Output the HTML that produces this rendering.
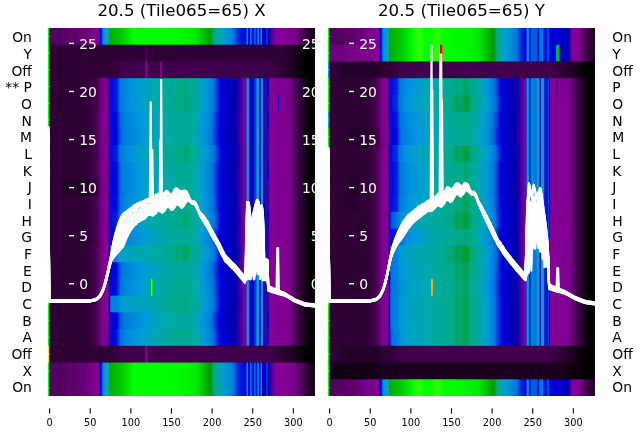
<!DOCTYPE html>
<html><head><meta charset="utf-8"><title>20.5 (Tile065=65)</title>
<style>
html,body{margin:0;padding:0;background:#fff}
svg{display:block}
text{font-family:"DejaVu Sans","Liberation Sans",sans-serif}
</style></head><body>
<svg width="640" height="440" viewBox="0 0 640 440">
<defs>
<clipPath id="cl"><rect x="48" y="28" width="267" height="368"/></clipPath>
<clipPath id="cr"><rect x="328" y="28" width="267" height="368"/></clipPath>
<linearGradient id="l0"><stop offset="0.0009" stop-color="#00ff00"/><stop offset="0.0028" stop-color="#00ff00"/><stop offset="0.0047" stop-color="#870098"/><stop offset="0.0066" stop-color="#870098"/><stop offset="0.0084" stop-color="#540060"/><stop offset="0.0721" stop-color="#540060"/><stop offset="0.0740" stop-color="#5d006b"/><stop offset="0.1096" stop-color="#5d006b"/><stop offset="0.1114" stop-color="#670075"/><stop offset="0.1433" stop-color="#670075"/><stop offset="0.1451" stop-color="#700080"/><stop offset="0.1545" stop-color="#700080"/><stop offset="0.1564" stop-color="#770088"/><stop offset="0.1901" stop-color="#850096"/><stop offset="0.1919" stop-color="#63009e"/><stop offset="0.1938" stop-color="#0300aa"/><stop offset="0.1957" stop-color="#0000c5"/><stop offset="0.1976" stop-color="#0000d1"/><stop offset="0.1994" stop-color="#0009dd"/><stop offset="0.2013" stop-color="#002fdd"/><stop offset="0.2032" stop-color="#005ddd"/><stop offset="0.2051" stop-color="#007ddd"/><stop offset="0.2107" stop-color="#0095dd"/><stop offset="0.2238" stop-color="#00a6b7"/><stop offset="0.2275" stop-color="#00aa8d"/><stop offset="0.2313" stop-color="#009c00"/><stop offset="0.2331" stop-color="#00aa00"/><stop offset="0.2463" stop-color="#00ba00"/><stop offset="0.2800" stop-color="#00cf00"/><stop offset="0.3212" stop-color="#00ff00"/><stop offset="0.4841" stop-color="#00fc00"/><stop offset="0.5552" stop-color="#00ec00"/><stop offset="0.5964" stop-color="#00ac00"/><stop offset="0.6058" stop-color="#009a00"/><stop offset="0.6096" stop-color="#009b13"/><stop offset="0.6114" stop-color="#009e28"/><stop offset="0.6133" stop-color="#009f33"/><stop offset="0.6189" stop-color="#00a773"/><stop offset="0.6227" stop-color="#00aa8b"/><stop offset="0.6451" stop-color="#00a8af"/><stop offset="0.6601" stop-color="#009bd7"/><stop offset="0.6770" stop-color="#008ddd"/><stop offset="0.6957" stop-color="#0078dd"/><stop offset="0.7107" stop-color="#002fdd"/><stop offset="0.7125" stop-color="#002fdd"/><stop offset="0.7144" stop-color="#0025dd"/><stop offset="0.7182" stop-color="#0025dd"/><stop offset="0.7200" stop-color="#001cdd"/><stop offset="0.7238" stop-color="#001cdd"/><stop offset="0.7257" stop-color="#0013dd"/><stop offset="0.7294" stop-color="#0013dd"/><stop offset="0.7313" stop-color="#0009dd"/><stop offset="0.7369" stop-color="#0009dd"/><stop offset="0.7388" stop-color="#0000dd"/><stop offset="0.7406" stop-color="#0000dd"/><stop offset="0.7425" stop-color="#0013dd"/><stop offset="0.7444" stop-color="#008add"/><stop offset="0.7481" stop-color="#0085dd"/><stop offset="0.7500" stop-color="#0000dd"/><stop offset="0.7556" stop-color="#0000dd"/><stop offset="0.7575" stop-color="#0067dd"/><stop offset="0.7594" stop-color="#0085dd"/><stop offset="0.7612" stop-color="#0080dd"/><stop offset="0.7631" stop-color="#0013dd"/><stop offset="0.7706" stop-color="#0013dd"/><stop offset="0.7725" stop-color="#0025dd"/><stop offset="0.7743" stop-color="#0085dd"/><stop offset="0.7762" stop-color="#0085dd"/><stop offset="0.7781" stop-color="#0025dd"/><stop offset="0.7800" stop-color="#0013dd"/><stop offset="0.7818" stop-color="#0013dd"/><stop offset="0.7837" stop-color="#002fdd"/><stop offset="0.7856" stop-color="#0098dd"/><stop offset="0.7875" stop-color="#0098dd"/><stop offset="0.7893" stop-color="#0054dd"/><stop offset="0.7912" stop-color="#0000dd"/><stop offset="0.7949" stop-color="#0000dd"/><stop offset="0.7968" stop-color="#0078dd"/><stop offset="0.7987" stop-color="#008add"/><stop offset="0.8006" stop-color="#008add"/><stop offset="0.8024" stop-color="#0000c9"/><stop offset="0.8155" stop-color="#0000bd"/><stop offset="0.8174" stop-color="#001cdd"/><stop offset="0.8193" stop-color="#005ddd"/><stop offset="0.8212" stop-color="#005ddd"/><stop offset="0.8230" stop-color="#0300aa"/><stop offset="0.8324" stop-color="#3800a3"/><stop offset="0.8343" stop-color="#3800a3"/><stop offset="0.8399" stop-color="#58009f"/><stop offset="0.8418" stop-color="#58009f"/><stop offset="0.8455" stop-color="#6d009c"/><stop offset="0.8474" stop-color="#6d009c"/><stop offset="0.8511" stop-color="#83009a"/><stop offset="0.8624" stop-color="#83009a"/><stop offset="0.8736" stop-color="#870098"/><stop offset="0.9148" stop-color="#7f0090"/><stop offset="0.9279" stop-color="#770088"/><stop offset="0.9298" stop-color="#700080"/><stop offset="0.9335" stop-color="#700080"/><stop offset="0.9354" stop-color="#670075"/><stop offset="0.9391" stop-color="#670075"/><stop offset="0.9410" stop-color="#5d006b"/><stop offset="0.9448" stop-color="#5d006b"/><stop offset="0.9466" stop-color="#540060"/><stop offset="0.9504" stop-color="#540060"/><stop offset="0.9522" stop-color="#4b0055"/><stop offset="0.9560" stop-color="#4b0055"/><stop offset="0.9579" stop-color="#41004b"/><stop offset="0.9616" stop-color="#41004b"/><stop offset="0.9635" stop-color="#380040"/><stop offset="0.9691" stop-color="#380040"/><stop offset="0.9710" stop-color="#2f0035"/><stop offset="0.9747" stop-color="#2f0035"/><stop offset="0.9766" stop-color="#25002b"/><stop offset="0.9822" stop-color="#25002b"/><stop offset="0.9841" stop-color="#1c0020"/><stop offset="0.9878" stop-color="#1c0020"/><stop offset="0.9897" stop-color="#130015"/><stop offset="0.9991" stop-color="#130015"/></linearGradient>
<linearGradient id="l1"><stop offset="0.0009" stop-color="#00ff00"/><stop offset="0.0028" stop-color="#00ff00"/><stop offset="0.0047" stop-color="#870098"/><stop offset="0.0066" stop-color="#870098"/><stop offset="0.0084" stop-color="#2f0035"/><stop offset="0.3642" stop-color="#2f0035"/><stop offset="0.3661" stop-color="#4b0055"/><stop offset="0.3699" stop-color="#4b0055"/><stop offset="0.3717" stop-color="#380040"/><stop offset="0.3736" stop-color="#2f0035"/><stop offset="0.8886" stop-color="#2f0035"/><stop offset="0.8904" stop-color="#25002b"/><stop offset="0.9073" stop-color="#25002b"/><stop offset="0.9092" stop-color="#1c0020"/><stop offset="0.9279" stop-color="#1c0020"/><stop offset="0.9298" stop-color="#130015"/><stop offset="0.9429" stop-color="#130015"/><stop offset="0.9448" stop-color="#09000b"/><stop offset="0.9579" stop-color="#09000b"/><stop offset="0.9597" stop-color="#000000"/><stop offset="0.9991" stop-color="#000000"/></linearGradient>
<linearGradient id="l2"><stop offset="0.0009" stop-color="#00ff00"/><stop offset="0.0028" stop-color="#00ff00"/><stop offset="0.0047" stop-color="#870098"/><stop offset="0.0066" stop-color="#870098"/><stop offset="0.0084" stop-color="#2f0035"/><stop offset="0.2406" stop-color="#2f0035"/><stop offset="0.2425" stop-color="#380040"/><stop offset="0.2650" stop-color="#380040"/><stop offset="0.2669" stop-color="#41004b"/><stop offset="0.3624" stop-color="#41004b"/><stop offset="0.3642" stop-color="#540060"/><stop offset="0.3661" stop-color="#850096"/><stop offset="0.3699" stop-color="#850096"/><stop offset="0.3717" stop-color="#770088"/><stop offset="0.3736" stop-color="#41004b"/><stop offset="0.4185" stop-color="#41004b"/><stop offset="0.4204" stop-color="#850096"/><stop offset="0.4242" stop-color="#870098"/><stop offset="0.4260" stop-color="#7e008f"/><stop offset="0.4279" stop-color="#41004b"/><stop offset="0.8343" stop-color="#41004b"/><stop offset="0.8361" stop-color="#380040"/><stop offset="0.8624" stop-color="#380040"/><stop offset="0.8642" stop-color="#2f0035"/><stop offset="0.8886" stop-color="#2f0035"/><stop offset="0.8904" stop-color="#25002b"/><stop offset="0.9073" stop-color="#25002b"/><stop offset="0.9092" stop-color="#1c0020"/><stop offset="0.9279" stop-color="#1c0020"/><stop offset="0.9298" stop-color="#130015"/><stop offset="0.9429" stop-color="#130015"/><stop offset="0.9448" stop-color="#09000b"/><stop offset="0.9579" stop-color="#09000b"/><stop offset="0.9597" stop-color="#000000"/><stop offset="0.9991" stop-color="#000000"/></linearGradient>
<linearGradient id="l3"><stop offset="0.0009" stop-color="#00ff00"/><stop offset="0.0028" stop-color="#00ff00"/><stop offset="0.0047" stop-color="#870098"/><stop offset="0.0066" stop-color="#870098"/><stop offset="0.0084" stop-color="#2f0035"/><stop offset="0.1526" stop-color="#2f0035"/><stop offset="0.1545" stop-color="#380040"/><stop offset="0.1657" stop-color="#380040"/><stop offset="0.1676" stop-color="#41004b"/><stop offset="0.1770" stop-color="#41004b"/><stop offset="0.1788" stop-color="#4b0055"/><stop offset="0.1826" stop-color="#4b0055"/><stop offset="0.1845" stop-color="#540060"/><stop offset="0.1882" stop-color="#540060"/><stop offset="0.1901" stop-color="#5d006b"/><stop offset="0.1919" stop-color="#5d006b"/><stop offset="0.1938" stop-color="#670075"/><stop offset="0.1957" stop-color="#670075"/><stop offset="0.1994" stop-color="#770088"/><stop offset="0.2219" stop-color="#870098"/><stop offset="0.2257" stop-color="#83009a"/><stop offset="0.2275" stop-color="#2d00a4"/><stop offset="0.2294" stop-color="#0000bd"/><stop offset="0.2388" stop-color="#0000dd"/><stop offset="0.2406" stop-color="#0009dd"/><stop offset="0.2444" stop-color="#0009dd"/><stop offset="0.2463" stop-color="#0013dd"/><stop offset="0.2519" stop-color="#0013dd"/><stop offset="0.2537" stop-color="#001cdd"/><stop offset="0.2575" stop-color="#001cdd"/><stop offset="0.2594" stop-color="#0025dd"/><stop offset="0.2612" stop-color="#0038dd"/><stop offset="0.2631" stop-color="#0041dd"/><stop offset="0.2650" stop-color="#0054dd"/><stop offset="0.2669" stop-color="#005ddd"/><stop offset="0.2687" stop-color="#0070dd"/><stop offset="0.2725" stop-color="#007add"/><stop offset="0.3118" stop-color="#0095dd"/><stop offset="0.3343" stop-color="#009bd7"/><stop offset="0.3680" stop-color="#00a3bf"/><stop offset="0.3830" stop-color="#00a6b7"/><stop offset="0.4017" stop-color="#00aaab"/><stop offset="0.4148" stop-color="#00aaa3"/><stop offset="0.4185" stop-color="#00aaa5"/><stop offset="0.4204" stop-color="#00af00"/><stop offset="0.4223" stop-color="#00bc00"/><stop offset="0.4242" stop-color="#00bc00"/><stop offset="0.4260" stop-color="#009a08"/><stop offset="0.4279" stop-color="#00aaa5"/><stop offset="0.4485" stop-color="#00aa95"/><stop offset="0.4691" stop-color="#00aa95"/><stop offset="0.4822" stop-color="#00aa8b"/><stop offset="0.5066" stop-color="#00aa8b"/><stop offset="0.5103" stop-color="#00a97d"/><stop offset="0.5215" stop-color="#00a97d"/><stop offset="0.5234" stop-color="#00aa88"/><stop offset="0.5440" stop-color="#00aa98"/><stop offset="0.5571" stop-color="#00aaa3"/><stop offset="0.5927" stop-color="#0098dd"/><stop offset="0.6208" stop-color="#0078dd"/><stop offset="0.6451" stop-color="#0000dd"/><stop offset="0.6919" stop-color="#0000b9"/><stop offset="0.7051" stop-color="#0300aa"/><stop offset="0.7069" stop-color="#0d00a8"/><stop offset="0.7088" stop-color="#0d00a8"/><stop offset="0.7125" stop-color="#2300a6"/><stop offset="0.7144" stop-color="#2300a6"/><stop offset="0.7182" stop-color="#3800a3"/><stop offset="0.7200" stop-color="#3800a3"/><stop offset="0.7275" stop-color="#63009e"/><stop offset="0.7294" stop-color="#63009e"/><stop offset="0.7331" stop-color="#78009b"/><stop offset="0.7350" stop-color="#78009b"/><stop offset="0.7369" stop-color="#83009a"/><stop offset="0.7406" stop-color="#870098"/><stop offset="0.7425" stop-color="#63009e"/><stop offset="0.7444" stop-color="#008ddd"/><stop offset="0.7463" stop-color="#0098dd"/><stop offset="0.7500" stop-color="#0098dd"/><stop offset="0.7519" stop-color="#007add"/><stop offset="0.7537" stop-color="#58009f"/><stop offset="0.7575" stop-color="#58009f"/><stop offset="0.7594" stop-color="#0000ad"/><stop offset="0.7612" stop-color="#0000d1"/><stop offset="0.7706" stop-color="#0000d9"/><stop offset="0.7725" stop-color="#0025dd"/><stop offset="0.7743" stop-color="#0041dd"/><stop offset="0.7800" stop-color="#0041dd"/><stop offset="0.7818" stop-color="#00a3bf"/><stop offset="0.7837" stop-color="#00a7b3"/><stop offset="0.7875" stop-color="#00a7b3"/><stop offset="0.7893" stop-color="#009bd7"/><stop offset="0.7912" stop-color="#0000dd"/><stop offset="0.7949" stop-color="#0000dd"/><stop offset="0.7968" stop-color="#002fdd"/><stop offset="0.7987" stop-color="#0092dd"/><stop offset="0.8043" stop-color="#0092dd"/><stop offset="0.8062" stop-color="#0000c1"/><stop offset="0.8081" stop-color="#0000b1"/><stop offset="0.8118" stop-color="#0000b1"/><stop offset="0.8137" stop-color="#2300a6"/><stop offset="0.8155" stop-color="#58009f"/><stop offset="0.8174" stop-color="#58009f"/><stop offset="0.8193" stop-color="#1800a7"/><stop offset="0.8212" stop-color="#0000c9"/><stop offset="0.8249" stop-color="#0000c9"/><stop offset="0.8268" stop-color="#0300aa"/><stop offset="0.8287" stop-color="#870098"/><stop offset="0.8904" stop-color="#7f0090"/><stop offset="0.9092" stop-color="#770088"/><stop offset="0.9110" stop-color="#700080"/><stop offset="0.9129" stop-color="#700080"/><stop offset="0.9148" stop-color="#670075"/><stop offset="0.9167" stop-color="#670075"/><stop offset="0.9185" stop-color="#5d006b"/><stop offset="0.9204" stop-color="#5d006b"/><stop offset="0.9223" stop-color="#540060"/><stop offset="0.9242" stop-color="#540060"/><stop offset="0.9260" stop-color="#4b0055"/><stop offset="0.9298" stop-color="#4b0055"/><stop offset="0.9316" stop-color="#41004b"/><stop offset="0.9354" stop-color="#41004b"/><stop offset="0.9373" stop-color="#380040"/><stop offset="0.9410" stop-color="#380040"/><stop offset="0.9429" stop-color="#2f0035"/><stop offset="0.9466" stop-color="#2f0035"/><stop offset="0.9485" stop-color="#25002b"/><stop offset="0.9541" stop-color="#25002b"/><stop offset="0.9560" stop-color="#1c0020"/><stop offset="0.9616" stop-color="#1c0020"/><stop offset="0.9635" stop-color="#130015"/><stop offset="0.9691" stop-color="#130015"/><stop offset="0.9710" stop-color="#09000b"/><stop offset="0.9785" stop-color="#09000b"/><stop offset="0.9803" stop-color="#000000"/><stop offset="0.9991" stop-color="#000000"/></linearGradient>
<linearGradient id="l4"><stop offset="0.0009" stop-color="#00ff00"/><stop offset="0.0028" stop-color="#00ff00"/><stop offset="0.0047" stop-color="#870098"/><stop offset="0.0066" stop-color="#870098"/><stop offset="0.0084" stop-color="#2f0035"/><stop offset="0.1526" stop-color="#2f0035"/><stop offset="0.1545" stop-color="#380040"/><stop offset="0.1657" stop-color="#380040"/><stop offset="0.1676" stop-color="#41004b"/><stop offset="0.1770" stop-color="#41004b"/><stop offset="0.1788" stop-color="#4b0055"/><stop offset="0.1826" stop-color="#4b0055"/><stop offset="0.1845" stop-color="#540060"/><stop offset="0.1882" stop-color="#540060"/><stop offset="0.1901" stop-color="#5d006b"/><stop offset="0.1919" stop-color="#5d006b"/><stop offset="0.1938" stop-color="#670075"/><stop offset="0.1957" stop-color="#670075"/><stop offset="0.1994" stop-color="#770088"/><stop offset="0.2219" stop-color="#870098"/><stop offset="0.2257" stop-color="#83009a"/><stop offset="0.2275" stop-color="#2d00a4"/><stop offset="0.2294" stop-color="#0000bd"/><stop offset="0.2388" stop-color="#0000dd"/><stop offset="0.2406" stop-color="#0009dd"/><stop offset="0.2425" stop-color="#0009dd"/><stop offset="0.2444" stop-color="#0013dd"/><stop offset="0.2500" stop-color="#0013dd"/><stop offset="0.2519" stop-color="#001cdd"/><stop offset="0.2575" stop-color="#001cdd"/><stop offset="0.2594" stop-color="#0025dd"/><stop offset="0.2631" stop-color="#004bdd"/><stop offset="0.2650" stop-color="#0054dd"/><stop offset="0.2669" stop-color="#0067dd"/><stop offset="0.2725" stop-color="#007add"/><stop offset="0.3137" stop-color="#0098dd"/><stop offset="0.3380" stop-color="#009cd3"/><stop offset="0.3661" stop-color="#00a3bf"/><stop offset="0.3811" stop-color="#00a7b3"/><stop offset="0.3961" stop-color="#00a8af"/><stop offset="0.4110" stop-color="#00aaa3"/><stop offset="0.4316" stop-color="#00aaa0"/><stop offset="0.4485" stop-color="#00aa93"/><stop offset="0.4691" stop-color="#00aa93"/><stop offset="0.4860" stop-color="#00aa88"/><stop offset="0.5028" stop-color="#00aa8b"/><stop offset="0.5066" stop-color="#00aa88"/><stop offset="0.5084" stop-color="#00a97d"/><stop offset="0.5103" stop-color="#00a97d"/><stop offset="0.5122" stop-color="#00a773"/><stop offset="0.5215" stop-color="#00a773"/><stop offset="0.5253" stop-color="#00aa88"/><stop offset="0.5421" stop-color="#00aa95"/><stop offset="0.5590" stop-color="#00aaa3"/><stop offset="0.5927" stop-color="#0098dd"/><stop offset="0.6208" stop-color="#0078dd"/><stop offset="0.6433" stop-color="#0009dd"/><stop offset="0.6451" stop-color="#0009dd"/><stop offset="0.6470" stop-color="#0000dd"/><stop offset="0.6919" stop-color="#0000b9"/><stop offset="0.7051" stop-color="#0300aa"/><stop offset="0.7069" stop-color="#0d00a8"/><stop offset="0.7088" stop-color="#0d00a8"/><stop offset="0.7125" stop-color="#2300a6"/><stop offset="0.7144" stop-color="#2300a6"/><stop offset="0.7182" stop-color="#3800a3"/><stop offset="0.7200" stop-color="#3800a3"/><stop offset="0.7275" stop-color="#63009e"/><stop offset="0.7294" stop-color="#63009e"/><stop offset="0.7331" stop-color="#78009b"/><stop offset="0.7350" stop-color="#78009b"/><stop offset="0.7369" stop-color="#83009a"/><stop offset="0.7406" stop-color="#870098"/><stop offset="0.7425" stop-color="#63009e"/><stop offset="0.7444" stop-color="#008ddd"/><stop offset="0.7463" stop-color="#0098dd"/><stop offset="0.7500" stop-color="#0098dd"/><stop offset="0.7519" stop-color="#007add"/><stop offset="0.7537" stop-color="#58009f"/><stop offset="0.7575" stop-color="#58009f"/><stop offset="0.7594" stop-color="#0000ad"/><stop offset="0.7612" stop-color="#0000d1"/><stop offset="0.7706" stop-color="#0000d9"/><stop offset="0.7725" stop-color="#0025dd"/><stop offset="0.7743" stop-color="#0041dd"/><stop offset="0.7800" stop-color="#0041dd"/><stop offset="0.7818" stop-color="#00a3bf"/><stop offset="0.7837" stop-color="#00a7b3"/><stop offset="0.7875" stop-color="#00a7b3"/><stop offset="0.7893" stop-color="#009bd7"/><stop offset="0.7912" stop-color="#0000dd"/><stop offset="0.7949" stop-color="#0000dd"/><stop offset="0.7968" stop-color="#002fdd"/><stop offset="0.7987" stop-color="#0092dd"/><stop offset="0.8043" stop-color="#0092dd"/><stop offset="0.8062" stop-color="#0000c1"/><stop offset="0.8081" stop-color="#0000b1"/><stop offset="0.8118" stop-color="#0000b1"/><stop offset="0.8137" stop-color="#2300a6"/><stop offset="0.8155" stop-color="#58009f"/><stop offset="0.8174" stop-color="#58009f"/><stop offset="0.8193" stop-color="#1800a7"/><stop offset="0.8212" stop-color="#4300a2"/><stop offset="0.8249" stop-color="#4300a2"/><stop offset="0.8268" stop-color="#1800a7"/><stop offset="0.8287" stop-color="#870098"/><stop offset="0.8567" stop-color="#860097"/><stop offset="0.8586" stop-color="#0000dd"/><stop offset="0.8624" stop-color="#0000dd"/><stop offset="0.8642" stop-color="#0000b1"/><stop offset="0.8661" stop-color="#850096"/><stop offset="0.9092" stop-color="#770088"/><stop offset="0.9110" stop-color="#700080"/><stop offset="0.9129" stop-color="#700080"/><stop offset="0.9148" stop-color="#670075"/><stop offset="0.9167" stop-color="#670075"/><stop offset="0.9185" stop-color="#5d006b"/><stop offset="0.9204" stop-color="#5d006b"/><stop offset="0.9223" stop-color="#540060"/><stop offset="0.9242" stop-color="#540060"/><stop offset="0.9260" stop-color="#4b0055"/><stop offset="0.9298" stop-color="#4b0055"/><stop offset="0.9316" stop-color="#41004b"/><stop offset="0.9354" stop-color="#41004b"/><stop offset="0.9373" stop-color="#380040"/><stop offset="0.9410" stop-color="#380040"/><stop offset="0.9429" stop-color="#2f0035"/><stop offset="0.9466" stop-color="#2f0035"/><stop offset="0.9485" stop-color="#25002b"/><stop offset="0.9541" stop-color="#25002b"/><stop offset="0.9560" stop-color="#1c0020"/><stop offset="0.9616" stop-color="#1c0020"/><stop offset="0.9635" stop-color="#130015"/><stop offset="0.9691" stop-color="#130015"/><stop offset="0.9710" stop-color="#09000b"/><stop offset="0.9785" stop-color="#09000b"/><stop offset="0.9803" stop-color="#000000"/><stop offset="0.9991" stop-color="#000000"/></linearGradient>
<linearGradient id="l5"><stop offset="0.0009" stop-color="#00ff00"/><stop offset="0.0028" stop-color="#00ff00"/><stop offset="0.0047" stop-color="#870098"/><stop offset="0.0066" stop-color="#870098"/><stop offset="0.0084" stop-color="#2f0035"/><stop offset="0.1526" stop-color="#2f0035"/><stop offset="0.1545" stop-color="#380040"/><stop offset="0.1657" stop-color="#380040"/><stop offset="0.1676" stop-color="#41004b"/><stop offset="0.1770" stop-color="#41004b"/><stop offset="0.1788" stop-color="#4b0055"/><stop offset="0.1826" stop-color="#4b0055"/><stop offset="0.1845" stop-color="#540060"/><stop offset="0.1882" stop-color="#540060"/><stop offset="0.1901" stop-color="#5d006b"/><stop offset="0.1919" stop-color="#5d006b"/><stop offset="0.1938" stop-color="#670075"/><stop offset="0.1957" stop-color="#670075"/><stop offset="0.1994" stop-color="#770088"/><stop offset="0.2219" stop-color="#870098"/><stop offset="0.2257" stop-color="#83009a"/><stop offset="0.2275" stop-color="#2d00a4"/><stop offset="0.2294" stop-color="#0000b9"/><stop offset="0.2406" stop-color="#0000d9"/><stop offset="0.2500" stop-color="#0000dd"/><stop offset="0.2519" stop-color="#0009dd"/><stop offset="0.2575" stop-color="#0009dd"/><stop offset="0.2594" stop-color="#0013dd"/><stop offset="0.2612" stop-color="#0025dd"/><stop offset="0.2631" stop-color="#002fdd"/><stop offset="0.2650" stop-color="#0041dd"/><stop offset="0.2743" stop-color="#0070dd"/><stop offset="0.2893" stop-color="#0082dd"/><stop offset="0.3530" stop-color="#009adb"/><stop offset="0.3792" stop-color="#00a0c7"/><stop offset="0.3961" stop-color="#00a2c3"/><stop offset="0.4110" stop-color="#00a7b3"/><stop offset="0.4335" stop-color="#00a8af"/><stop offset="0.4448" stop-color="#00aaa3"/><stop offset="0.4672" stop-color="#00aaa3"/><stop offset="0.4841" stop-color="#00aa98"/><stop offset="0.5066" stop-color="#00aa98"/><stop offset="0.5215" stop-color="#00aa93"/><stop offset="0.5421" stop-color="#00aaa5"/><stop offset="0.5552" stop-color="#00aaab"/><stop offset="0.5777" stop-color="#009bd7"/><stop offset="0.5946" stop-color="#008ddd"/><stop offset="0.6152" stop-color="#0078dd"/><stop offset="0.6245" stop-color="#004bdd"/><stop offset="0.6264" stop-color="#004bdd"/><stop offset="0.6414" stop-color="#0000dd"/><stop offset="0.7032" stop-color="#0300aa"/><stop offset="0.7051" stop-color="#0d00a8"/><stop offset="0.7069" stop-color="#0d00a8"/><stop offset="0.7107" stop-color="#2300a6"/><stop offset="0.7125" stop-color="#2300a6"/><stop offset="0.7144" stop-color="#2d00a4"/><stop offset="0.7163" stop-color="#2d00a4"/><stop offset="0.7219" stop-color="#4d00a0"/><stop offset="0.7238" stop-color="#4d00a0"/><stop offset="0.7294" stop-color="#6d009c"/><stop offset="0.7313" stop-color="#6d009c"/><stop offset="0.7331" stop-color="#78009b"/><stop offset="0.7350" stop-color="#78009b"/><stop offset="0.7369" stop-color="#83009a"/><stop offset="0.7406" stop-color="#870098"/><stop offset="0.7425" stop-color="#63009e"/><stop offset="0.7444" stop-color="#008ddd"/><stop offset="0.7463" stop-color="#0098dd"/><stop offset="0.7500" stop-color="#0098dd"/><stop offset="0.7519" stop-color="#007add"/><stop offset="0.7537" stop-color="#58009f"/><stop offset="0.7575" stop-color="#58009f"/><stop offset="0.7594" stop-color="#0000ad"/><stop offset="0.7612" stop-color="#0000d1"/><stop offset="0.7706" stop-color="#0000d9"/><stop offset="0.7725" stop-color="#0025dd"/><stop offset="0.7743" stop-color="#0041dd"/><stop offset="0.7800" stop-color="#0041dd"/><stop offset="0.7818" stop-color="#00a3bf"/><stop offset="0.7837" stop-color="#00a7b3"/><stop offset="0.7875" stop-color="#00a7b3"/><stop offset="0.7893" stop-color="#009bd7"/><stop offset="0.7912" stop-color="#0000dd"/><stop offset="0.7949" stop-color="#0000dd"/><stop offset="0.7968" stop-color="#002fdd"/><stop offset="0.7987" stop-color="#0092dd"/><stop offset="0.8043" stop-color="#0092dd"/><stop offset="0.8062" stop-color="#0000c1"/><stop offset="0.8081" stop-color="#0000b1"/><stop offset="0.8118" stop-color="#0000b1"/><stop offset="0.8137" stop-color="#2300a6"/><stop offset="0.8155" stop-color="#58009f"/><stop offset="0.8174" stop-color="#58009f"/><stop offset="0.8193" stop-color="#1800a7"/><stop offset="0.8212" stop-color="#0000c9"/><stop offset="0.8249" stop-color="#0000c9"/><stop offset="0.8268" stop-color="#0300aa"/><stop offset="0.8287" stop-color="#870098"/><stop offset="0.8904" stop-color="#7f0090"/><stop offset="0.9092" stop-color="#770088"/><stop offset="0.9110" stop-color="#700080"/><stop offset="0.9129" stop-color="#700080"/><stop offset="0.9148" stop-color="#670075"/><stop offset="0.9167" stop-color="#670075"/><stop offset="0.9185" stop-color="#5d006b"/><stop offset="0.9204" stop-color="#5d006b"/><stop offset="0.9223" stop-color="#540060"/><stop offset="0.9242" stop-color="#540060"/><stop offset="0.9260" stop-color="#4b0055"/><stop offset="0.9298" stop-color="#4b0055"/><stop offset="0.9316" stop-color="#41004b"/><stop offset="0.9354" stop-color="#41004b"/><stop offset="0.9373" stop-color="#380040"/><stop offset="0.9410" stop-color="#380040"/><stop offset="0.9429" stop-color="#2f0035"/><stop offset="0.9466" stop-color="#2f0035"/><stop offset="0.9485" stop-color="#25002b"/><stop offset="0.9541" stop-color="#25002b"/><stop offset="0.9560" stop-color="#1c0020"/><stop offset="0.9616" stop-color="#1c0020"/><stop offset="0.9635" stop-color="#130015"/><stop offset="0.9691" stop-color="#130015"/><stop offset="0.9710" stop-color="#09000b"/><stop offset="0.9785" stop-color="#09000b"/><stop offset="0.9803" stop-color="#000000"/><stop offset="0.9991" stop-color="#000000"/></linearGradient>
<linearGradient id="l6"><stop offset="0.0009" stop-color="#00ff00"/><stop offset="0.0028" stop-color="#00ff00"/><stop offset="0.0047" stop-color="#870098"/><stop offset="0.0066" stop-color="#870098"/><stop offset="0.0084" stop-color="#2f0035"/><stop offset="0.1526" stop-color="#2f0035"/><stop offset="0.1545" stop-color="#380040"/><stop offset="0.1657" stop-color="#380040"/><stop offset="0.1676" stop-color="#41004b"/><stop offset="0.1770" stop-color="#41004b"/><stop offset="0.1788" stop-color="#4b0055"/><stop offset="0.1826" stop-color="#4b0055"/><stop offset="0.1845" stop-color="#540060"/><stop offset="0.1882" stop-color="#540060"/><stop offset="0.1901" stop-color="#5d006b"/><stop offset="0.1919" stop-color="#5d006b"/><stop offset="0.1938" stop-color="#670075"/><stop offset="0.1957" stop-color="#670075"/><stop offset="0.1994" stop-color="#770088"/><stop offset="0.2219" stop-color="#870098"/><stop offset="0.2257" stop-color="#83009a"/><stop offset="0.2275" stop-color="#3800a3"/><stop offset="0.2294" stop-color="#0000b5"/><stop offset="0.2406" stop-color="#0000d9"/><stop offset="0.2537" stop-color="#0000dd"/><stop offset="0.2556" stop-color="#0009dd"/><stop offset="0.2575" stop-color="#0009dd"/><stop offset="0.2631" stop-color="#0025dd"/><stop offset="0.2650" stop-color="#0038dd"/><stop offset="0.2669" stop-color="#0041dd"/><stop offset="0.2687" stop-color="#0054dd"/><stop offset="0.2706" stop-color="#005ddd"/><stop offset="0.2725" stop-color="#005ddd"/><stop offset="0.2762" stop-color="#0070dd"/><stop offset="0.2912" stop-color="#0080dd"/><stop offset="0.3605" stop-color="#009adb"/><stop offset="0.3773" stop-color="#009fcb"/><stop offset="0.3961" stop-color="#00a0c7"/><stop offset="0.4110" stop-color="#00a6b7"/><stop offset="0.4260" stop-color="#00a4bb"/><stop offset="0.4448" stop-color="#00aaa5"/><stop offset="0.4691" stop-color="#00aaa5"/><stop offset="0.4860" stop-color="#00aa9b"/><stop offset="0.5028" stop-color="#00aa9d"/><stop offset="0.5197" stop-color="#00aa95"/><stop offset="0.5440" stop-color="#00aaa8"/><stop offset="0.5534" stop-color="#00a8af"/><stop offset="0.5796" stop-color="#009adb"/><stop offset="0.6133" stop-color="#0078dd"/><stop offset="0.6208" stop-color="#0054dd"/><stop offset="0.6227" stop-color="#0054dd"/><stop offset="0.6320" stop-color="#0025dd"/><stop offset="0.6339" stop-color="#0025dd"/><stop offset="0.6414" stop-color="#0000dd"/><stop offset="0.6507" stop-color="#0000d1"/><stop offset="0.6938" stop-color="#0000b1"/><stop offset="0.7032" stop-color="#0300aa"/><stop offset="0.7069" stop-color="#1800a7"/><stop offset="0.7088" stop-color="#1800a7"/><stop offset="0.7107" stop-color="#2300a6"/><stop offset="0.7125" stop-color="#2300a6"/><stop offset="0.7163" stop-color="#3800a3"/><stop offset="0.7182" stop-color="#3800a3"/><stop offset="0.7219" stop-color="#4d00a0"/><stop offset="0.7238" stop-color="#4d00a0"/><stop offset="0.7294" stop-color="#6d009c"/><stop offset="0.7313" stop-color="#6d009c"/><stop offset="0.7331" stop-color="#78009b"/><stop offset="0.7350" stop-color="#78009b"/><stop offset="0.7369" stop-color="#83009a"/><stop offset="0.7406" stop-color="#870098"/><stop offset="0.7425" stop-color="#63009e"/><stop offset="0.7444" stop-color="#008ddd"/><stop offset="0.7463" stop-color="#0098dd"/><stop offset="0.7500" stop-color="#0098dd"/><stop offset="0.7519" stop-color="#007add"/><stop offset="0.7537" stop-color="#58009f"/><stop offset="0.7575" stop-color="#58009f"/><stop offset="0.7594" stop-color="#0000ad"/><stop offset="0.7612" stop-color="#0000d1"/><stop offset="0.7706" stop-color="#0000d9"/><stop offset="0.7725" stop-color="#0025dd"/><stop offset="0.7743" stop-color="#0041dd"/><stop offset="0.7800" stop-color="#0041dd"/><stop offset="0.7818" stop-color="#00a3bf"/><stop offset="0.7837" stop-color="#00a7b3"/><stop offset="0.7875" stop-color="#00a7b3"/><stop offset="0.7893" stop-color="#009bd7"/><stop offset="0.7912" stop-color="#0000dd"/><stop offset="0.7949" stop-color="#0000dd"/><stop offset="0.7968" stop-color="#002fdd"/><stop offset="0.7987" stop-color="#0092dd"/><stop offset="0.8043" stop-color="#0092dd"/><stop offset="0.8062" stop-color="#0000c1"/><stop offset="0.8081" stop-color="#0000b1"/><stop offset="0.8118" stop-color="#0000b1"/><stop offset="0.8137" stop-color="#2300a6"/><stop offset="0.8155" stop-color="#58009f"/><stop offset="0.8174" stop-color="#58009f"/><stop offset="0.8193" stop-color="#1800a7"/><stop offset="0.8212" stop-color="#4300a2"/><stop offset="0.8249" stop-color="#4300a2"/><stop offset="0.8268" stop-color="#1800a7"/><stop offset="0.8287" stop-color="#870098"/><stop offset="0.8904" stop-color="#7f0090"/><stop offset="0.9092" stop-color="#770088"/><stop offset="0.9110" stop-color="#700080"/><stop offset="0.9129" stop-color="#700080"/><stop offset="0.9148" stop-color="#670075"/><stop offset="0.9167" stop-color="#670075"/><stop offset="0.9185" stop-color="#5d006b"/><stop offset="0.9204" stop-color="#5d006b"/><stop offset="0.9223" stop-color="#540060"/><stop offset="0.9242" stop-color="#540060"/><stop offset="0.9260" stop-color="#4b0055"/><stop offset="0.9298" stop-color="#4b0055"/><stop offset="0.9316" stop-color="#41004b"/><stop offset="0.9354" stop-color="#41004b"/><stop offset="0.9373" stop-color="#380040"/><stop offset="0.9410" stop-color="#380040"/><stop offset="0.9429" stop-color="#2f0035"/><stop offset="0.9466" stop-color="#2f0035"/><stop offset="0.9485" stop-color="#25002b"/><stop offset="0.9541" stop-color="#25002b"/><stop offset="0.9560" stop-color="#1c0020"/><stop offset="0.9616" stop-color="#1c0020"/><stop offset="0.9635" stop-color="#130015"/><stop offset="0.9691" stop-color="#130015"/><stop offset="0.9710" stop-color="#09000b"/><stop offset="0.9785" stop-color="#09000b"/><stop offset="0.9803" stop-color="#000000"/><stop offset="0.9991" stop-color="#000000"/></linearGradient>
<linearGradient id="l7"><stop offset="0.0009" stop-color="#00ff00"/><stop offset="0.0028" stop-color="#00ff00"/><stop offset="0.0047" stop-color="#870098"/><stop offset="0.0066" stop-color="#870098"/><stop offset="0.0084" stop-color="#2f0035"/><stop offset="0.1526" stop-color="#2f0035"/><stop offset="0.1545" stop-color="#380040"/><stop offset="0.1657" stop-color="#380040"/><stop offset="0.1676" stop-color="#41004b"/><stop offset="0.1770" stop-color="#41004b"/><stop offset="0.1788" stop-color="#4b0055"/><stop offset="0.1826" stop-color="#4b0055"/><stop offset="0.1845" stop-color="#540060"/><stop offset="0.1882" stop-color="#540060"/><stop offset="0.1901" stop-color="#5d006b"/><stop offset="0.1919" stop-color="#5d006b"/><stop offset="0.1938" stop-color="#670075"/><stop offset="0.1957" stop-color="#670075"/><stop offset="0.1994" stop-color="#770088"/><stop offset="0.2219" stop-color="#870098"/><stop offset="0.2257" stop-color="#83009a"/><stop offset="0.2275" stop-color="#2d00a4"/><stop offset="0.2294" stop-color="#0000bd"/><stop offset="0.2388" stop-color="#0000dd"/><stop offset="0.2425" stop-color="#0013dd"/><stop offset="0.2481" stop-color="#0013dd"/><stop offset="0.2500" stop-color="#001cdd"/><stop offset="0.2556" stop-color="#001cdd"/><stop offset="0.2612" stop-color="#0038dd"/><stop offset="0.2631" stop-color="#004bdd"/><stop offset="0.2650" stop-color="#0054dd"/><stop offset="0.2687" stop-color="#0078dd"/><stop offset="0.3024" stop-color="#0092dd"/><stop offset="0.3287" stop-color="#009bd7"/><stop offset="0.3680" stop-color="#00a4bb"/><stop offset="0.3773" stop-color="#00a7b3"/><stop offset="0.3979" stop-color="#00aaab"/><stop offset="0.4148" stop-color="#00aaa0"/><stop offset="0.4316" stop-color="#00aaa0"/><stop offset="0.4466" stop-color="#00aa93"/><stop offset="0.4672" stop-color="#00aa93"/><stop offset="0.4803" stop-color="#00aa88"/><stop offset="0.4822" stop-color="#00a97d"/><stop offset="0.4860" stop-color="#00a97d"/><stop offset="0.4878" stop-color="#00aa88"/><stop offset="0.5047" stop-color="#00aa88"/><stop offset="0.5066" stop-color="#00a97d"/><stop offset="0.5084" stop-color="#00a97d"/><stop offset="0.5103" stop-color="#00a773"/><stop offset="0.5122" stop-color="#00a773"/><stop offset="0.5140" stop-color="#00a668"/><stop offset="0.5197" stop-color="#00a668"/><stop offset="0.5215" stop-color="#00a773"/><stop offset="0.5234" stop-color="#00a773"/><stop offset="0.5272" stop-color="#00aa88"/><stop offset="0.5478" stop-color="#00aa95"/><stop offset="0.5609" stop-color="#00aaa5"/><stop offset="0.5946" stop-color="#0098dd"/><stop offset="0.6208" stop-color="#0078dd"/><stop offset="0.6264" stop-color="#0067dd"/><stop offset="0.6451" stop-color="#0009dd"/><stop offset="0.6470" stop-color="#0009dd"/><stop offset="0.6489" stop-color="#0000dd"/><stop offset="0.6919" stop-color="#0000b9"/><stop offset="0.7069" stop-color="#0300aa"/><stop offset="0.7107" stop-color="#1800a7"/><stop offset="0.7125" stop-color="#1800a7"/><stop offset="0.7163" stop-color="#2d00a4"/><stop offset="0.7182" stop-color="#2d00a4"/><stop offset="0.7257" stop-color="#58009f"/><stop offset="0.7275" stop-color="#58009f"/><stop offset="0.7331" stop-color="#78009b"/><stop offset="0.7350" stop-color="#78009b"/><stop offset="0.7369" stop-color="#83009a"/><stop offset="0.7406" stop-color="#870098"/><stop offset="0.7425" stop-color="#63009e"/><stop offset="0.7444" stop-color="#008ddd"/><stop offset="0.7463" stop-color="#0098dd"/><stop offset="0.7500" stop-color="#0098dd"/><stop offset="0.7519" stop-color="#007add"/><stop offset="0.7537" stop-color="#58009f"/><stop offset="0.7575" stop-color="#58009f"/><stop offset="0.7594" stop-color="#0000ad"/><stop offset="0.7612" stop-color="#0000d1"/><stop offset="0.7706" stop-color="#0000d9"/><stop offset="0.7725" stop-color="#0025dd"/><stop offset="0.7743" stop-color="#0041dd"/><stop offset="0.7800" stop-color="#0041dd"/><stop offset="0.7818" stop-color="#00a3bf"/><stop offset="0.7837" stop-color="#00a7b3"/><stop offset="0.7875" stop-color="#00a7b3"/><stop offset="0.7893" stop-color="#009bd7"/><stop offset="0.7912" stop-color="#0000dd"/><stop offset="0.7949" stop-color="#0000dd"/><stop offset="0.7968" stop-color="#002fdd"/><stop offset="0.7987" stop-color="#0092dd"/><stop offset="0.8043" stop-color="#0092dd"/><stop offset="0.8062" stop-color="#0000c1"/><stop offset="0.8081" stop-color="#0000b1"/><stop offset="0.8118" stop-color="#0000b1"/><stop offset="0.8137" stop-color="#2300a6"/><stop offset="0.8155" stop-color="#58009f"/><stop offset="0.8174" stop-color="#58009f"/><stop offset="0.8193" stop-color="#1800a7"/><stop offset="0.8212" stop-color="#4300a2"/><stop offset="0.8249" stop-color="#4300a2"/><stop offset="0.8268" stop-color="#1800a7"/><stop offset="0.8287" stop-color="#870098"/><stop offset="0.8904" stop-color="#7f0090"/><stop offset="0.9092" stop-color="#770088"/><stop offset="0.9110" stop-color="#700080"/><stop offset="0.9129" stop-color="#700080"/><stop offset="0.9148" stop-color="#670075"/><stop offset="0.9167" stop-color="#670075"/><stop offset="0.9185" stop-color="#5d006b"/><stop offset="0.9204" stop-color="#5d006b"/><stop offset="0.9223" stop-color="#540060"/><stop offset="0.9242" stop-color="#540060"/><stop offset="0.9260" stop-color="#4b0055"/><stop offset="0.9298" stop-color="#4b0055"/><stop offset="0.9316" stop-color="#41004b"/><stop offset="0.9354" stop-color="#41004b"/><stop offset="0.9373" stop-color="#380040"/><stop offset="0.9410" stop-color="#380040"/><stop offset="0.9429" stop-color="#2f0035"/><stop offset="0.9466" stop-color="#2f0035"/><stop offset="0.9485" stop-color="#25002b"/><stop offset="0.9541" stop-color="#25002b"/><stop offset="0.9560" stop-color="#1c0020"/><stop offset="0.9616" stop-color="#1c0020"/><stop offset="0.9635" stop-color="#130015"/><stop offset="0.9691" stop-color="#130015"/><stop offset="0.9710" stop-color="#09000b"/><stop offset="0.9785" stop-color="#09000b"/><stop offset="0.9803" stop-color="#000000"/><stop offset="0.9991" stop-color="#000000"/></linearGradient>
<linearGradient id="l8"><stop offset="0.0009" stop-color="#00ff00"/><stop offset="0.0028" stop-color="#00ff00"/><stop offset="0.0047" stop-color="#870098"/><stop offset="0.0066" stop-color="#870098"/><stop offset="0.0084" stop-color="#2f0035"/><stop offset="0.1526" stop-color="#2f0035"/><stop offset="0.1545" stop-color="#380040"/><stop offset="0.1657" stop-color="#380040"/><stop offset="0.1676" stop-color="#41004b"/><stop offset="0.1770" stop-color="#41004b"/><stop offset="0.1788" stop-color="#4b0055"/><stop offset="0.1826" stop-color="#4b0055"/><stop offset="0.1845" stop-color="#540060"/><stop offset="0.1882" stop-color="#540060"/><stop offset="0.1901" stop-color="#5d006b"/><stop offset="0.1919" stop-color="#5d006b"/><stop offset="0.1938" stop-color="#670075"/><stop offset="0.1957" stop-color="#670075"/><stop offset="0.1994" stop-color="#770088"/><stop offset="0.2219" stop-color="#870098"/><stop offset="0.2257" stop-color="#83009a"/><stop offset="0.2275" stop-color="#2d00a4"/><stop offset="0.2294" stop-color="#0000b9"/><stop offset="0.2388" stop-color="#0000d9"/><stop offset="0.2481" stop-color="#0000dd"/><stop offset="0.2500" stop-color="#0009dd"/><stop offset="0.2556" stop-color="#0009dd"/><stop offset="0.2575" stop-color="#0013dd"/><stop offset="0.2594" stop-color="#0013dd"/><stop offset="0.2612" stop-color="#0025dd"/><stop offset="0.2631" stop-color="#002fdd"/><stop offset="0.2650" stop-color="#0041dd"/><stop offset="0.2669" stop-color="#004bdd"/><stop offset="0.2687" stop-color="#005ddd"/><stop offset="0.2706" stop-color="#0067dd"/><stop offset="0.2725" stop-color="#0067dd"/><stop offset="0.2762" stop-color="#0078dd"/><stop offset="0.3230" stop-color="#0092dd"/><stop offset="0.3493" stop-color="#009adb"/><stop offset="0.3830" stop-color="#00a2c3"/><stop offset="0.3961" stop-color="#00a3bf"/><stop offset="0.4129" stop-color="#00a8af"/><stop offset="0.4316" stop-color="#00a8af"/><stop offset="0.4466" stop-color="#00aaa0"/><stop offset="0.4691" stop-color="#00aaa0"/><stop offset="0.4860" stop-color="#00aa95"/><stop offset="0.5047" stop-color="#00aa98"/><stop offset="0.5178" stop-color="#00aa90"/><stop offset="0.5459" stop-color="#00aaa3"/><stop offset="0.5571" stop-color="#00a8af"/><stop offset="0.5833" stop-color="#009adb"/><stop offset="0.6152" stop-color="#0078dd"/><stop offset="0.6189" stop-color="#0067dd"/><stop offset="0.6208" stop-color="#0067dd"/><stop offset="0.6358" stop-color="#001cdd"/><stop offset="0.6376" stop-color="#001cdd"/><stop offset="0.6433" stop-color="#0000dd"/><stop offset="0.7032" stop-color="#0300aa"/><stop offset="0.7051" stop-color="#0d00a8"/><stop offset="0.7069" stop-color="#0d00a8"/><stop offset="0.7107" stop-color="#2300a6"/><stop offset="0.7125" stop-color="#2300a6"/><stop offset="0.7144" stop-color="#2d00a4"/><stop offset="0.7163" stop-color="#2d00a4"/><stop offset="0.7200" stop-color="#4300a2"/><stop offset="0.7219" stop-color="#4300a2"/><stop offset="0.7275" stop-color="#63009e"/><stop offset="0.7294" stop-color="#63009e"/><stop offset="0.7331" stop-color="#78009b"/><stop offset="0.7350" stop-color="#78009b"/><stop offset="0.7369" stop-color="#83009a"/><stop offset="0.7406" stop-color="#870098"/><stop offset="0.7425" stop-color="#63009e"/><stop offset="0.7444" stop-color="#008ddd"/><stop offset="0.7463" stop-color="#0098dd"/><stop offset="0.7500" stop-color="#0098dd"/><stop offset="0.7519" stop-color="#007add"/><stop offset="0.7537" stop-color="#58009f"/><stop offset="0.7575" stop-color="#58009f"/><stop offset="0.7594" stop-color="#0000ad"/><stop offset="0.7612" stop-color="#0000d1"/><stop offset="0.7706" stop-color="#0000d9"/><stop offset="0.7725" stop-color="#0025dd"/><stop offset="0.7743" stop-color="#0041dd"/><stop offset="0.7800" stop-color="#0041dd"/><stop offset="0.7818" stop-color="#00a3bf"/><stop offset="0.7837" stop-color="#00a7b3"/><stop offset="0.7875" stop-color="#00a7b3"/><stop offset="0.7893" stop-color="#009bd7"/><stop offset="0.7912" stop-color="#0000dd"/><stop offset="0.7949" stop-color="#0000dd"/><stop offset="0.7968" stop-color="#002fdd"/><stop offset="0.7987" stop-color="#0092dd"/><stop offset="0.8043" stop-color="#0092dd"/><stop offset="0.8062" stop-color="#0000c1"/><stop offset="0.8081" stop-color="#0000b1"/><stop offset="0.8118" stop-color="#0000b1"/><stop offset="0.8137" stop-color="#2300a6"/><stop offset="0.8155" stop-color="#58009f"/><stop offset="0.8174" stop-color="#58009f"/><stop offset="0.8193" stop-color="#1800a7"/><stop offset="0.8212" stop-color="#0000c9"/><stop offset="0.8249" stop-color="#0000c9"/><stop offset="0.8268" stop-color="#0300aa"/><stop offset="0.8287" stop-color="#870098"/><stop offset="0.8904" stop-color="#7f0090"/><stop offset="0.9092" stop-color="#770088"/><stop offset="0.9110" stop-color="#700080"/><stop offset="0.9129" stop-color="#700080"/><stop offset="0.9148" stop-color="#670075"/><stop offset="0.9167" stop-color="#670075"/><stop offset="0.9185" stop-color="#5d006b"/><stop offset="0.9204" stop-color="#5d006b"/><stop offset="0.9223" stop-color="#540060"/><stop offset="0.9242" stop-color="#540060"/><stop offset="0.9260" stop-color="#4b0055"/><stop offset="0.9298" stop-color="#4b0055"/><stop offset="0.9316" stop-color="#41004b"/><stop offset="0.9354" stop-color="#41004b"/><stop offset="0.9373" stop-color="#380040"/><stop offset="0.9410" stop-color="#380040"/><stop offset="0.9429" stop-color="#2f0035"/><stop offset="0.9466" stop-color="#2f0035"/><stop offset="0.9485" stop-color="#25002b"/><stop offset="0.9541" stop-color="#25002b"/><stop offset="0.9560" stop-color="#1c0020"/><stop offset="0.9616" stop-color="#1c0020"/><stop offset="0.9635" stop-color="#130015"/><stop offset="0.9691" stop-color="#130015"/><stop offset="0.9710" stop-color="#09000b"/><stop offset="0.9785" stop-color="#09000b"/><stop offset="0.9803" stop-color="#000000"/><stop offset="0.9991" stop-color="#000000"/></linearGradient>
<linearGradient id="l9"><stop offset="0.0009" stop-color="#00ff00"/><stop offset="0.0028" stop-color="#00ff00"/><stop offset="0.0047" stop-color="#870098"/><stop offset="0.0066" stop-color="#870098"/><stop offset="0.0084" stop-color="#2f0035"/><stop offset="0.0515" stop-color="#2f0035"/><stop offset="0.0534" stop-color="#25002b"/><stop offset="0.1564" stop-color="#25002b"/><stop offset="0.1582" stop-color="#2f0035"/><stop offset="0.1713" stop-color="#2f0035"/><stop offset="0.1732" stop-color="#380040"/><stop offset="0.1807" stop-color="#380040"/><stop offset="0.1826" stop-color="#41004b"/><stop offset="0.1882" stop-color="#41004b"/><stop offset="0.1901" stop-color="#4b0055"/><stop offset="0.1919" stop-color="#5d006b"/><stop offset="0.1938" stop-color="#670075"/><stop offset="0.1957" stop-color="#670075"/><stop offset="0.1994" stop-color="#770088"/><stop offset="0.2219" stop-color="#870098"/><stop offset="0.2257" stop-color="#83009a"/><stop offset="0.2275" stop-color="#2d00a4"/><stop offset="0.2294" stop-color="#0000b9"/><stop offset="0.2388" stop-color="#0000d9"/><stop offset="0.2481" stop-color="#0000dd"/><stop offset="0.2500" stop-color="#0009dd"/><stop offset="0.2556" stop-color="#0009dd"/><stop offset="0.2575" stop-color="#0013dd"/><stop offset="0.2594" stop-color="#0013dd"/><stop offset="0.2612" stop-color="#0025dd"/><stop offset="0.2631" stop-color="#002fdd"/><stop offset="0.2650" stop-color="#0041dd"/><stop offset="0.2669" stop-color="#004bdd"/><stop offset="0.2687" stop-color="#005ddd"/><stop offset="0.2706" stop-color="#0067dd"/><stop offset="0.2725" stop-color="#0067dd"/><stop offset="0.2762" stop-color="#0078dd"/><stop offset="0.3230" stop-color="#0092dd"/><stop offset="0.3493" stop-color="#009adb"/><stop offset="0.3830" stop-color="#00a2c3"/><stop offset="0.3961" stop-color="#00a3bf"/><stop offset="0.4129" stop-color="#00a8af"/><stop offset="0.4316" stop-color="#00a8af"/><stop offset="0.4466" stop-color="#00aaa0"/><stop offset="0.4691" stop-color="#00aaa0"/><stop offset="0.4860" stop-color="#00aa95"/><stop offset="0.5047" stop-color="#00aa98"/><stop offset="0.5178" stop-color="#00aa90"/><stop offset="0.5459" stop-color="#00aaa3"/><stop offset="0.5571" stop-color="#00a8af"/><stop offset="0.5833" stop-color="#009adb"/><stop offset="0.6152" stop-color="#0078dd"/><stop offset="0.6189" stop-color="#0067dd"/><stop offset="0.6208" stop-color="#0067dd"/><stop offset="0.6358" stop-color="#001cdd"/><stop offset="0.6376" stop-color="#001cdd"/><stop offset="0.6433" stop-color="#0000dd"/><stop offset="0.7032" stop-color="#0300aa"/><stop offset="0.7051" stop-color="#0d00a8"/><stop offset="0.7069" stop-color="#0d00a8"/><stop offset="0.7107" stop-color="#2300a6"/><stop offset="0.7125" stop-color="#2300a6"/><stop offset="0.7144" stop-color="#2d00a4"/><stop offset="0.7163" stop-color="#2d00a4"/><stop offset="0.7200" stop-color="#4300a2"/><stop offset="0.7219" stop-color="#4300a2"/><stop offset="0.7275" stop-color="#63009e"/><stop offset="0.7294" stop-color="#63009e"/><stop offset="0.7331" stop-color="#78009b"/><stop offset="0.7350" stop-color="#78009b"/><stop offset="0.7369" stop-color="#83009a"/><stop offset="0.7406" stop-color="#870098"/><stop offset="0.7425" stop-color="#63009e"/><stop offset="0.7444" stop-color="#008ddd"/><stop offset="0.7463" stop-color="#0098dd"/><stop offset="0.7500" stop-color="#0098dd"/><stop offset="0.7519" stop-color="#007add"/><stop offset="0.7537" stop-color="#58009f"/><stop offset="0.7575" stop-color="#58009f"/><stop offset="0.7594" stop-color="#0000ad"/><stop offset="0.7612" stop-color="#0000d1"/><stop offset="0.7706" stop-color="#0000d9"/><stop offset="0.7725" stop-color="#0025dd"/><stop offset="0.7743" stop-color="#0041dd"/><stop offset="0.7800" stop-color="#0041dd"/><stop offset="0.7818" stop-color="#00a3bf"/><stop offset="0.7837" stop-color="#00a7b3"/><stop offset="0.7875" stop-color="#00a7b3"/><stop offset="0.7893" stop-color="#009bd7"/><stop offset="0.7912" stop-color="#0000dd"/><stop offset="0.7949" stop-color="#0000dd"/><stop offset="0.7968" stop-color="#002fdd"/><stop offset="0.7987" stop-color="#0092dd"/><stop offset="0.8043" stop-color="#0092dd"/><stop offset="0.8062" stop-color="#0000c1"/><stop offset="0.8081" stop-color="#0000b1"/><stop offset="0.8118" stop-color="#0000b1"/><stop offset="0.8137" stop-color="#2300a6"/><stop offset="0.8155" stop-color="#58009f"/><stop offset="0.8174" stop-color="#58009f"/><stop offset="0.8193" stop-color="#1800a7"/><stop offset="0.8212" stop-color="#4300a2"/><stop offset="0.8249" stop-color="#4300a2"/><stop offset="0.8268" stop-color="#1800a7"/><stop offset="0.8287" stop-color="#870098"/><stop offset="0.8904" stop-color="#7f0090"/><stop offset="0.9092" stop-color="#770088"/><stop offset="0.9110" stop-color="#700080"/><stop offset="0.9129" stop-color="#700080"/><stop offset="0.9148" stop-color="#670075"/><stop offset="0.9167" stop-color="#670075"/><stop offset="0.9185" stop-color="#5d006b"/><stop offset="0.9204" stop-color="#5d006b"/><stop offset="0.9223" stop-color="#540060"/><stop offset="0.9242" stop-color="#540060"/><stop offset="0.9260" stop-color="#4b0055"/><stop offset="0.9298" stop-color="#4b0055"/><stop offset="0.9316" stop-color="#41004b"/><stop offset="0.9354" stop-color="#41004b"/><stop offset="0.9373" stop-color="#380040"/><stop offset="0.9410" stop-color="#380040"/><stop offset="0.9429" stop-color="#2f0035"/><stop offset="0.9466" stop-color="#2f0035"/><stop offset="0.9485" stop-color="#25002b"/><stop offset="0.9541" stop-color="#25002b"/><stop offset="0.9560" stop-color="#1c0020"/><stop offset="0.9616" stop-color="#1c0020"/><stop offset="0.9635" stop-color="#130015"/><stop offset="0.9691" stop-color="#130015"/><stop offset="0.9710" stop-color="#09000b"/><stop offset="0.9785" stop-color="#09000b"/><stop offset="0.9803" stop-color="#000000"/><stop offset="0.9991" stop-color="#000000"/></linearGradient>
<linearGradient id="l10"><stop offset="0.0009" stop-color="#00ff00"/><stop offset="0.0028" stop-color="#00ff00"/><stop offset="0.0047" stop-color="#870098"/><stop offset="0.0066" stop-color="#870098"/><stop offset="0.0084" stop-color="#2f0035"/><stop offset="0.1526" stop-color="#2f0035"/><stop offset="0.1545" stop-color="#380040"/><stop offset="0.1657" stop-color="#380040"/><stop offset="0.1676" stop-color="#41004b"/><stop offset="0.1770" stop-color="#41004b"/><stop offset="0.1788" stop-color="#4b0055"/><stop offset="0.1826" stop-color="#4b0055"/><stop offset="0.1845" stop-color="#540060"/><stop offset="0.1882" stop-color="#540060"/><stop offset="0.1901" stop-color="#5d006b"/><stop offset="0.1919" stop-color="#5d006b"/><stop offset="0.1938" stop-color="#670075"/><stop offset="0.1957" stop-color="#670075"/><stop offset="0.1994" stop-color="#770088"/><stop offset="0.2219" stop-color="#870098"/><stop offset="0.2257" stop-color="#83009a"/><stop offset="0.2275" stop-color="#2d00a4"/><stop offset="0.2294" stop-color="#0000b9"/><stop offset="0.2406" stop-color="#0000dd"/><stop offset="0.2444" stop-color="#0000dd"/><stop offset="0.2463" stop-color="#0009dd"/><stop offset="0.2519" stop-color="#0009dd"/><stop offset="0.2537" stop-color="#0013dd"/><stop offset="0.2575" stop-color="#0013dd"/><stop offset="0.2594" stop-color="#001cdd"/><stop offset="0.2612" stop-color="#002fdd"/><stop offset="0.2650" stop-color="#0041dd"/><stop offset="0.2669" stop-color="#0054dd"/><stop offset="0.2687" stop-color="#005ddd"/><stop offset="0.2706" stop-color="#0070dd"/><stop offset="0.2931" stop-color="#0088dd"/><stop offset="0.3436" stop-color="#009adb"/><stop offset="0.3811" stop-color="#00a3bf"/><stop offset="0.3961" stop-color="#00a4bb"/><stop offset="0.4092" stop-color="#00aaab"/><stop offset="0.4298" stop-color="#00aaab"/><stop offset="0.4466" stop-color="#00aa9d"/><stop offset="0.4672" stop-color="#00aa9d"/><stop offset="0.4841" stop-color="#00aa93"/><stop offset="0.5066" stop-color="#00aa93"/><stop offset="0.5197" stop-color="#00aa8d"/><stop offset="0.5440" stop-color="#00aaa0"/><stop offset="0.5571" stop-color="#00aaa8"/><stop offset="0.5871" stop-color="#0098dd"/><stop offset="0.6170" stop-color="#0078dd"/><stop offset="0.6227" stop-color="#005ddd"/><stop offset="0.6245" stop-color="#005ddd"/><stop offset="0.6433" stop-color="#0000dd"/><stop offset="0.6976" stop-color="#0000b1"/><stop offset="0.7051" stop-color="#0300aa"/><stop offset="0.7088" stop-color="#1800a7"/><stop offset="0.7107" stop-color="#1800a7"/><stop offset="0.7144" stop-color="#2d00a4"/><stop offset="0.7163" stop-color="#2d00a4"/><stop offset="0.7200" stop-color="#4300a2"/><stop offset="0.7219" stop-color="#4300a2"/><stop offset="0.7275" stop-color="#63009e"/><stop offset="0.7294" stop-color="#63009e"/><stop offset="0.7331" stop-color="#78009b"/><stop offset="0.7350" stop-color="#78009b"/><stop offset="0.7369" stop-color="#83009a"/><stop offset="0.7406" stop-color="#870098"/><stop offset="0.7425" stop-color="#63009e"/><stop offset="0.7444" stop-color="#008ddd"/><stop offset="0.7463" stop-color="#0098dd"/><stop offset="0.7500" stop-color="#0098dd"/><stop offset="0.7519" stop-color="#007add"/><stop offset="0.7537" stop-color="#58009f"/><stop offset="0.7575" stop-color="#58009f"/><stop offset="0.7594" stop-color="#0000ad"/><stop offset="0.7612" stop-color="#0000d1"/><stop offset="0.7706" stop-color="#0000d9"/><stop offset="0.7725" stop-color="#0025dd"/><stop offset="0.7743" stop-color="#0041dd"/><stop offset="0.7800" stop-color="#0041dd"/><stop offset="0.7818" stop-color="#00a3bf"/><stop offset="0.7837" stop-color="#00a7b3"/><stop offset="0.7875" stop-color="#00a7b3"/><stop offset="0.7893" stop-color="#009bd7"/><stop offset="0.7912" stop-color="#0000dd"/><stop offset="0.7949" stop-color="#0000dd"/><stop offset="0.7968" stop-color="#002fdd"/><stop offset="0.7987" stop-color="#0092dd"/><stop offset="0.8043" stop-color="#0092dd"/><stop offset="0.8062" stop-color="#0000c1"/><stop offset="0.8081" stop-color="#0000b1"/><stop offset="0.8118" stop-color="#0000b1"/><stop offset="0.8137" stop-color="#2300a6"/><stop offset="0.8155" stop-color="#58009f"/><stop offset="0.8174" stop-color="#58009f"/><stop offset="0.8193" stop-color="#1800a7"/><stop offset="0.8212" stop-color="#4300a2"/><stop offset="0.8249" stop-color="#4300a2"/><stop offset="0.8268" stop-color="#1800a7"/><stop offset="0.8287" stop-color="#870098"/><stop offset="0.8904" stop-color="#7f0090"/><stop offset="0.9092" stop-color="#770088"/><stop offset="0.9110" stop-color="#700080"/><stop offset="0.9129" stop-color="#700080"/><stop offset="0.9148" stop-color="#670075"/><stop offset="0.9167" stop-color="#670075"/><stop offset="0.9185" stop-color="#5d006b"/><stop offset="0.9204" stop-color="#5d006b"/><stop offset="0.9223" stop-color="#540060"/><stop offset="0.9242" stop-color="#540060"/><stop offset="0.9260" stop-color="#4b0055"/><stop offset="0.9298" stop-color="#4b0055"/><stop offset="0.9316" stop-color="#41004b"/><stop offset="0.9354" stop-color="#41004b"/><stop offset="0.9373" stop-color="#380040"/><stop offset="0.9410" stop-color="#380040"/><stop offset="0.9429" stop-color="#2f0035"/><stop offset="0.9466" stop-color="#2f0035"/><stop offset="0.9485" stop-color="#25002b"/><stop offset="0.9541" stop-color="#25002b"/><stop offset="0.9560" stop-color="#1c0020"/><stop offset="0.9616" stop-color="#1c0020"/><stop offset="0.9635" stop-color="#130015"/><stop offset="0.9691" stop-color="#130015"/><stop offset="0.9710" stop-color="#09000b"/><stop offset="0.9785" stop-color="#09000b"/><stop offset="0.9803" stop-color="#000000"/><stop offset="0.9991" stop-color="#000000"/></linearGradient>
<linearGradient id="l11"><stop offset="0.0009" stop-color="#00ff00"/><stop offset="0.0028" stop-color="#00ff00"/><stop offset="0.0047" stop-color="#870098"/><stop offset="0.0066" stop-color="#870098"/><stop offset="0.0084" stop-color="#2f0035"/><stop offset="0.1526" stop-color="#2f0035"/><stop offset="0.1545" stop-color="#380040"/><stop offset="0.1657" stop-color="#380040"/><stop offset="0.1676" stop-color="#41004b"/><stop offset="0.1770" stop-color="#41004b"/><stop offset="0.1788" stop-color="#4b0055"/><stop offset="0.1826" stop-color="#4b0055"/><stop offset="0.1845" stop-color="#540060"/><stop offset="0.1882" stop-color="#540060"/><stop offset="0.1901" stop-color="#5d006b"/><stop offset="0.1919" stop-color="#5d006b"/><stop offset="0.1938" stop-color="#670075"/><stop offset="0.1957" stop-color="#670075"/><stop offset="0.1994" stop-color="#770088"/><stop offset="0.2219" stop-color="#870098"/><stop offset="0.2257" stop-color="#83009a"/><stop offset="0.2275" stop-color="#2d00a4"/><stop offset="0.2294" stop-color="#0000bd"/><stop offset="0.2388" stop-color="#0000dd"/><stop offset="0.2425" stop-color="#0013dd"/><stop offset="0.2481" stop-color="#0013dd"/><stop offset="0.2500" stop-color="#001cdd"/><stop offset="0.2556" stop-color="#001cdd"/><stop offset="0.2612" stop-color="#0038dd"/><stop offset="0.2631" stop-color="#004bdd"/><stop offset="0.2650" stop-color="#0054dd"/><stop offset="0.2687" stop-color="#0078dd"/><stop offset="0.3024" stop-color="#0092dd"/><stop offset="0.3287" stop-color="#009bd7"/><stop offset="0.3680" stop-color="#00a4bb"/><stop offset="0.3773" stop-color="#00a7b3"/><stop offset="0.3979" stop-color="#00aaab"/><stop offset="0.4148" stop-color="#00aaa0"/><stop offset="0.4316" stop-color="#00aaa0"/><stop offset="0.4466" stop-color="#00aa93"/><stop offset="0.4672" stop-color="#00aa93"/><stop offset="0.4803" stop-color="#00aa88"/><stop offset="0.4822" stop-color="#00a97d"/><stop offset="0.4860" stop-color="#00a97d"/><stop offset="0.4878" stop-color="#00aa88"/><stop offset="0.5047" stop-color="#00aa88"/><stop offset="0.5066" stop-color="#00a97d"/><stop offset="0.5084" stop-color="#00a97d"/><stop offset="0.5103" stop-color="#00a773"/><stop offset="0.5122" stop-color="#00a773"/><stop offset="0.5140" stop-color="#00a668"/><stop offset="0.5197" stop-color="#00a668"/><stop offset="0.5215" stop-color="#00a773"/><stop offset="0.5234" stop-color="#00a773"/><stop offset="0.5272" stop-color="#00aa88"/><stop offset="0.5478" stop-color="#00aa95"/><stop offset="0.5609" stop-color="#00aaa5"/><stop offset="0.5946" stop-color="#0098dd"/><stop offset="0.6208" stop-color="#0078dd"/><stop offset="0.6264" stop-color="#0067dd"/><stop offset="0.6451" stop-color="#0009dd"/><stop offset="0.6470" stop-color="#0009dd"/><stop offset="0.6489" stop-color="#0000dd"/><stop offset="0.6919" stop-color="#0000b9"/><stop offset="0.7069" stop-color="#0300aa"/><stop offset="0.7107" stop-color="#1800a7"/><stop offset="0.7125" stop-color="#1800a7"/><stop offset="0.7163" stop-color="#2d00a4"/><stop offset="0.7182" stop-color="#2d00a4"/><stop offset="0.7257" stop-color="#58009f"/><stop offset="0.7275" stop-color="#58009f"/><stop offset="0.7331" stop-color="#78009b"/><stop offset="0.7350" stop-color="#78009b"/><stop offset="0.7369" stop-color="#83009a"/><stop offset="0.7406" stop-color="#870098"/><stop offset="0.7425" stop-color="#63009e"/><stop offset="0.7444" stop-color="#008ddd"/><stop offset="0.7463" stop-color="#0098dd"/><stop offset="0.7500" stop-color="#0098dd"/><stop offset="0.7519" stop-color="#007add"/><stop offset="0.7537" stop-color="#58009f"/><stop offset="0.7575" stop-color="#58009f"/><stop offset="0.7594" stop-color="#0000ad"/><stop offset="0.7612" stop-color="#0000d1"/><stop offset="0.7706" stop-color="#0000d9"/><stop offset="0.7725" stop-color="#0025dd"/><stop offset="0.7743" stop-color="#0041dd"/><stop offset="0.7800" stop-color="#0041dd"/><stop offset="0.7818" stop-color="#00a3bf"/><stop offset="0.7837" stop-color="#00a7b3"/><stop offset="0.7875" stop-color="#00a7b3"/><stop offset="0.7893" stop-color="#009bd7"/><stop offset="0.7912" stop-color="#0000dd"/><stop offset="0.7949" stop-color="#0000dd"/><stop offset="0.7968" stop-color="#002fdd"/><stop offset="0.7987" stop-color="#0092dd"/><stop offset="0.8043" stop-color="#0092dd"/><stop offset="0.8062" stop-color="#0000c1"/><stop offset="0.8081" stop-color="#0000b1"/><stop offset="0.8118" stop-color="#0000b1"/><stop offset="0.8137" stop-color="#2300a6"/><stop offset="0.8155" stop-color="#58009f"/><stop offset="0.8174" stop-color="#58009f"/><stop offset="0.8193" stop-color="#1800a7"/><stop offset="0.8212" stop-color="#0000c9"/><stop offset="0.8249" stop-color="#0000c9"/><stop offset="0.8268" stop-color="#0300aa"/><stop offset="0.8287" stop-color="#870098"/><stop offset="0.8904" stop-color="#7f0090"/><stop offset="0.9092" stop-color="#770088"/><stop offset="0.9110" stop-color="#700080"/><stop offset="0.9129" stop-color="#700080"/><stop offset="0.9148" stop-color="#670075"/><stop offset="0.9167" stop-color="#670075"/><stop offset="0.9185" stop-color="#5d006b"/><stop offset="0.9204" stop-color="#5d006b"/><stop offset="0.9223" stop-color="#540060"/><stop offset="0.9242" stop-color="#540060"/><stop offset="0.9260" stop-color="#4b0055"/><stop offset="0.9298" stop-color="#4b0055"/><stop offset="0.9316" stop-color="#41004b"/><stop offset="0.9354" stop-color="#41004b"/><stop offset="0.9373" stop-color="#380040"/><stop offset="0.9410" stop-color="#380040"/><stop offset="0.9429" stop-color="#2f0035"/><stop offset="0.9466" stop-color="#2f0035"/><stop offset="0.9485" stop-color="#25002b"/><stop offset="0.9541" stop-color="#25002b"/><stop offset="0.9560" stop-color="#1c0020"/><stop offset="0.9616" stop-color="#1c0020"/><stop offset="0.9635" stop-color="#130015"/><stop offset="0.9691" stop-color="#130015"/><stop offset="0.9710" stop-color="#09000b"/><stop offset="0.9785" stop-color="#09000b"/><stop offset="0.9803" stop-color="#000000"/><stop offset="0.9991" stop-color="#000000"/></linearGradient>
<linearGradient id="l12"><stop offset="0.0009" stop-color="#00ff00"/><stop offset="0.0028" stop-color="#00ff00"/><stop offset="0.0047" stop-color="#870098"/><stop offset="0.0066" stop-color="#870098"/><stop offset="0.0084" stop-color="#2f0035"/><stop offset="0.1526" stop-color="#2f0035"/><stop offset="0.1545" stop-color="#380040"/><stop offset="0.1657" stop-color="#380040"/><stop offset="0.1676" stop-color="#41004b"/><stop offset="0.1770" stop-color="#41004b"/><stop offset="0.1788" stop-color="#4b0055"/><stop offset="0.1826" stop-color="#4b0055"/><stop offset="0.1845" stop-color="#540060"/><stop offset="0.1882" stop-color="#540060"/><stop offset="0.1901" stop-color="#5d006b"/><stop offset="0.1919" stop-color="#5d006b"/><stop offset="0.1938" stop-color="#670075"/><stop offset="0.1957" stop-color="#670075"/><stop offset="0.1994" stop-color="#770088"/><stop offset="0.2219" stop-color="#870098"/><stop offset="0.2257" stop-color="#83009a"/><stop offset="0.2275" stop-color="#2d00a4"/><stop offset="0.2294" stop-color="#0000b9"/><stop offset="0.2406" stop-color="#0000d9"/><stop offset="0.2500" stop-color="#0000dd"/><stop offset="0.2519" stop-color="#0009dd"/><stop offset="0.2575" stop-color="#0009dd"/><stop offset="0.2594" stop-color="#0013dd"/><stop offset="0.2612" stop-color="#0025dd"/><stop offset="0.2631" stop-color="#002fdd"/><stop offset="0.2650" stop-color="#0041dd"/><stop offset="0.2743" stop-color="#0070dd"/><stop offset="0.2893" stop-color="#0082dd"/><stop offset="0.3530" stop-color="#009adb"/><stop offset="0.3792" stop-color="#00a0c7"/><stop offset="0.3961" stop-color="#00a2c3"/><stop offset="0.4110" stop-color="#00a7b3"/><stop offset="0.4335" stop-color="#00a8af"/><stop offset="0.4448" stop-color="#00aaa3"/><stop offset="0.4672" stop-color="#00aaa3"/><stop offset="0.4841" stop-color="#00aa98"/><stop offset="0.5066" stop-color="#00aa98"/><stop offset="0.5215" stop-color="#00aa93"/><stop offset="0.5421" stop-color="#00aaa5"/><stop offset="0.5552" stop-color="#00aaab"/><stop offset="0.5777" stop-color="#009bd7"/><stop offset="0.5946" stop-color="#008ddd"/><stop offset="0.6152" stop-color="#0078dd"/><stop offset="0.6245" stop-color="#004bdd"/><stop offset="0.6264" stop-color="#004bdd"/><stop offset="0.6414" stop-color="#0000dd"/><stop offset="0.7032" stop-color="#0300aa"/><stop offset="0.7051" stop-color="#0d00a8"/><stop offset="0.7069" stop-color="#0d00a8"/><stop offset="0.7107" stop-color="#2300a6"/><stop offset="0.7125" stop-color="#2300a6"/><stop offset="0.7144" stop-color="#2d00a4"/><stop offset="0.7163" stop-color="#2d00a4"/><stop offset="0.7219" stop-color="#4d00a0"/><stop offset="0.7238" stop-color="#4d00a0"/><stop offset="0.7294" stop-color="#6d009c"/><stop offset="0.7313" stop-color="#6d009c"/><stop offset="0.7331" stop-color="#78009b"/><stop offset="0.7350" stop-color="#78009b"/><stop offset="0.7369" stop-color="#83009a"/><stop offset="0.7406" stop-color="#870098"/><stop offset="0.7425" stop-color="#63009e"/><stop offset="0.7444" stop-color="#008ddd"/><stop offset="0.7463" stop-color="#0098dd"/><stop offset="0.7500" stop-color="#0098dd"/><stop offset="0.7519" stop-color="#007add"/><stop offset="0.7537" stop-color="#58009f"/><stop offset="0.7575" stop-color="#58009f"/><stop offset="0.7594" stop-color="#0000ad"/><stop offset="0.7612" stop-color="#0000d1"/><stop offset="0.7706" stop-color="#0000d9"/><stop offset="0.7725" stop-color="#0025dd"/><stop offset="0.7743" stop-color="#0041dd"/><stop offset="0.7800" stop-color="#0041dd"/><stop offset="0.7818" stop-color="#00a3bf"/><stop offset="0.7837" stop-color="#00a7b3"/><stop offset="0.7875" stop-color="#00a7b3"/><stop offset="0.7893" stop-color="#009bd7"/><stop offset="0.7912" stop-color="#0000dd"/><stop offset="0.7949" stop-color="#0000dd"/><stop offset="0.7968" stop-color="#002fdd"/><stop offset="0.7987" stop-color="#0092dd"/><stop offset="0.8043" stop-color="#0092dd"/><stop offset="0.8062" stop-color="#0000c1"/><stop offset="0.8081" stop-color="#0000b1"/><stop offset="0.8118" stop-color="#0000b1"/><stop offset="0.8137" stop-color="#2300a6"/><stop offset="0.8155" stop-color="#58009f"/><stop offset="0.8174" stop-color="#58009f"/><stop offset="0.8193" stop-color="#1800a7"/><stop offset="0.8212" stop-color="#4300a2"/><stop offset="0.8249" stop-color="#4300a2"/><stop offset="0.8268" stop-color="#1800a7"/><stop offset="0.8287" stop-color="#870098"/><stop offset="0.8904" stop-color="#7f0090"/><stop offset="0.9092" stop-color="#770088"/><stop offset="0.9110" stop-color="#700080"/><stop offset="0.9129" stop-color="#700080"/><stop offset="0.9148" stop-color="#670075"/><stop offset="0.9167" stop-color="#670075"/><stop offset="0.9185" stop-color="#5d006b"/><stop offset="0.9204" stop-color="#5d006b"/><stop offset="0.9223" stop-color="#540060"/><stop offset="0.9242" stop-color="#540060"/><stop offset="0.9260" stop-color="#4b0055"/><stop offset="0.9298" stop-color="#4b0055"/><stop offset="0.9316" stop-color="#41004b"/><stop offset="0.9354" stop-color="#41004b"/><stop offset="0.9373" stop-color="#380040"/><stop offset="0.9410" stop-color="#380040"/><stop offset="0.9429" stop-color="#2f0035"/><stop offset="0.9466" stop-color="#2f0035"/><stop offset="0.9485" stop-color="#25002b"/><stop offset="0.9541" stop-color="#25002b"/><stop offset="0.9560" stop-color="#1c0020"/><stop offset="0.9616" stop-color="#1c0020"/><stop offset="0.9635" stop-color="#130015"/><stop offset="0.9691" stop-color="#130015"/><stop offset="0.9710" stop-color="#09000b"/><stop offset="0.9785" stop-color="#09000b"/><stop offset="0.9803" stop-color="#000000"/><stop offset="0.9991" stop-color="#000000"/></linearGradient>
<linearGradient id="l13"><stop offset="0.0009" stop-color="#00ff00"/><stop offset="0.0028" stop-color="#00ff00"/><stop offset="0.0047" stop-color="#870098"/><stop offset="0.0066" stop-color="#870098"/><stop offset="0.0084" stop-color="#2f0035"/><stop offset="0.1526" stop-color="#2f0035"/><stop offset="0.1545" stop-color="#380040"/><stop offset="0.1657" stop-color="#380040"/><stop offset="0.1676" stop-color="#41004b"/><stop offset="0.1770" stop-color="#41004b"/><stop offset="0.1788" stop-color="#4b0055"/><stop offset="0.1826" stop-color="#4b0055"/><stop offset="0.1845" stop-color="#540060"/><stop offset="0.1882" stop-color="#540060"/><stop offset="0.1901" stop-color="#5d006b"/><stop offset="0.1919" stop-color="#5d006b"/><stop offset="0.1938" stop-color="#670075"/><stop offset="0.1957" stop-color="#670075"/><stop offset="0.1994" stop-color="#770088"/><stop offset="0.2219" stop-color="#870098"/><stop offset="0.2257" stop-color="#83009a"/><stop offset="0.2275" stop-color="#2d00a4"/><stop offset="0.2294" stop-color="#0000c9"/><stop offset="0.2313" stop-color="#0025dd"/><stop offset="0.2331" stop-color="#0067dd"/><stop offset="0.2350" stop-color="#007ddd"/><stop offset="0.2425" stop-color="#0088dd"/><stop offset="0.2594" stop-color="#008add"/><stop offset="0.2669" stop-color="#0098dd"/><stop offset="0.2743" stop-color="#009ecf"/><stop offset="0.2987" stop-color="#00a3bf"/><stop offset="0.3287" stop-color="#00a6b7"/><stop offset="0.3642" stop-color="#00a7b3"/><stop offset="0.3792" stop-color="#00aaab"/><stop offset="0.3961" stop-color="#00aaa8"/><stop offset="0.4129" stop-color="#00aa9d"/><stop offset="0.4298" stop-color="#00aa9d"/><stop offset="0.4485" stop-color="#00aa8d"/><stop offset="0.4691" stop-color="#00aa8d"/><stop offset="0.4747" stop-color="#00aa88"/><stop offset="0.4766" stop-color="#00a97d"/><stop offset="0.4785" stop-color="#00a97d"/><stop offset="0.4803" stop-color="#00a773"/><stop offset="0.4897" stop-color="#00a773"/><stop offset="0.4916" stop-color="#00a97d"/><stop offset="0.4953" stop-color="#00a97d"/><stop offset="0.4972" stop-color="#00aa88"/><stop offset="0.4991" stop-color="#00a97d"/><stop offset="0.5028" stop-color="#00a97d"/><stop offset="0.5047" stop-color="#00a773"/><stop offset="0.5066" stop-color="#00a773"/><stop offset="0.5103" stop-color="#00a55d"/><stop offset="0.5215" stop-color="#00a55d"/><stop offset="0.5234" stop-color="#00a668"/><stop offset="0.5253" stop-color="#00a668"/><stop offset="0.5309" stop-color="#00aa88"/><stop offset="0.5440" stop-color="#00aa90"/><stop offset="0.5609" stop-color="#00aaa0"/><stop offset="0.5964" stop-color="#0098dd"/><stop offset="0.6227" stop-color="#0078dd"/><stop offset="0.6451" stop-color="#0009dd"/><stop offset="0.6489" stop-color="#0009dd"/><stop offset="0.6507" stop-color="#0000dd"/><stop offset="0.6976" stop-color="#0000b5"/><stop offset="0.7069" stop-color="#0300aa"/><stop offset="0.7107" stop-color="#1800a7"/><stop offset="0.7125" stop-color="#1800a7"/><stop offset="0.7163" stop-color="#2d00a4"/><stop offset="0.7182" stop-color="#2d00a4"/><stop offset="0.7257" stop-color="#58009f"/><stop offset="0.7275" stop-color="#58009f"/><stop offset="0.7331" stop-color="#78009b"/><stop offset="0.7350" stop-color="#78009b"/><stop offset="0.7369" stop-color="#83009a"/><stop offset="0.7406" stop-color="#870098"/><stop offset="0.7425" stop-color="#63009e"/><stop offset="0.7444" stop-color="#008ddd"/><stop offset="0.7463" stop-color="#0098dd"/><stop offset="0.7500" stop-color="#0098dd"/><stop offset="0.7519" stop-color="#007add"/><stop offset="0.7537" stop-color="#58009f"/><stop offset="0.7575" stop-color="#58009f"/><stop offset="0.7594" stop-color="#0000ad"/><stop offset="0.7612" stop-color="#0000d1"/><stop offset="0.7706" stop-color="#0000d9"/><stop offset="0.7725" stop-color="#0025dd"/><stop offset="0.7743" stop-color="#0041dd"/><stop offset="0.7800" stop-color="#0041dd"/><stop offset="0.7818" stop-color="#00a3bf"/><stop offset="0.7837" stop-color="#00a7b3"/><stop offset="0.7875" stop-color="#00a7b3"/><stop offset="0.7893" stop-color="#009bd7"/><stop offset="0.7912" stop-color="#0000dd"/><stop offset="0.7949" stop-color="#0000dd"/><stop offset="0.7968" stop-color="#002fdd"/><stop offset="0.7987" stop-color="#0092dd"/><stop offset="0.8043" stop-color="#0092dd"/><stop offset="0.8062" stop-color="#0000c1"/><stop offset="0.8081" stop-color="#0000b1"/><stop offset="0.8118" stop-color="#0000b1"/><stop offset="0.8137" stop-color="#2300a6"/><stop offset="0.8155" stop-color="#58009f"/><stop offset="0.8174" stop-color="#58009f"/><stop offset="0.8193" stop-color="#1800a7"/><stop offset="0.8212" stop-color="#4300a2"/><stop offset="0.8249" stop-color="#4300a2"/><stop offset="0.8268" stop-color="#1800a7"/><stop offset="0.8287" stop-color="#870098"/><stop offset="0.8904" stop-color="#7f0090"/><stop offset="0.9092" stop-color="#770088"/><stop offset="0.9110" stop-color="#700080"/><stop offset="0.9129" stop-color="#700080"/><stop offset="0.9148" stop-color="#670075"/><stop offset="0.9167" stop-color="#670075"/><stop offset="0.9185" stop-color="#5d006b"/><stop offset="0.9204" stop-color="#5d006b"/><stop offset="0.9223" stop-color="#540060"/><stop offset="0.9242" stop-color="#540060"/><stop offset="0.9260" stop-color="#4b0055"/><stop offset="0.9298" stop-color="#4b0055"/><stop offset="0.9316" stop-color="#41004b"/><stop offset="0.9354" stop-color="#41004b"/><stop offset="0.9373" stop-color="#380040"/><stop offset="0.9410" stop-color="#380040"/><stop offset="0.9429" stop-color="#2f0035"/><stop offset="0.9466" stop-color="#2f0035"/><stop offset="0.9485" stop-color="#25002b"/><stop offset="0.9541" stop-color="#25002b"/><stop offset="0.9560" stop-color="#1c0020"/><stop offset="0.9616" stop-color="#1c0020"/><stop offset="0.9635" stop-color="#130015"/><stop offset="0.9691" stop-color="#130015"/><stop offset="0.9710" stop-color="#09000b"/><stop offset="0.9785" stop-color="#09000b"/><stop offset="0.9803" stop-color="#000000"/><stop offset="0.9991" stop-color="#000000"/></linearGradient>
<linearGradient id="l14"><stop offset="0.0009" stop-color="#00ff00"/><stop offset="0.0028" stop-color="#00ff00"/><stop offset="0.0047" stop-color="#870098"/><stop offset="0.0066" stop-color="#870098"/><stop offset="0.0084" stop-color="#2f0035"/><stop offset="0.1526" stop-color="#2f0035"/><stop offset="0.1545" stop-color="#380040"/><stop offset="0.1657" stop-color="#380040"/><stop offset="0.1676" stop-color="#41004b"/><stop offset="0.1770" stop-color="#41004b"/><stop offset="0.1788" stop-color="#4b0055"/><stop offset="0.1826" stop-color="#4b0055"/><stop offset="0.1845" stop-color="#540060"/><stop offset="0.1882" stop-color="#540060"/><stop offset="0.1901" stop-color="#5d006b"/><stop offset="0.1919" stop-color="#5d006b"/><stop offset="0.1938" stop-color="#670075"/><stop offset="0.1957" stop-color="#670075"/><stop offset="0.1994" stop-color="#770088"/><stop offset="0.2219" stop-color="#870098"/><stop offset="0.2257" stop-color="#83009a"/><stop offset="0.2275" stop-color="#2d00a4"/><stop offset="0.2294" stop-color="#0000b9"/><stop offset="0.2406" stop-color="#0000d9"/><stop offset="0.2519" stop-color="#0000dd"/><stop offset="0.2537" stop-color="#0009dd"/><stop offset="0.2575" stop-color="#0009dd"/><stop offset="0.2612" stop-color="#001cdd"/><stop offset="0.2631" stop-color="#002fdd"/><stop offset="0.2650" stop-color="#0038dd"/><stop offset="0.2669" stop-color="#004bdd"/><stop offset="0.2725" stop-color="#0067dd"/><stop offset="0.2743" stop-color="#0067dd"/><stop offset="0.2781" stop-color="#0078dd"/><stop offset="0.3249" stop-color="#0090dd"/><stop offset="0.3567" stop-color="#009adb"/><stop offset="0.3755" stop-color="#009fcb"/><stop offset="0.3979" stop-color="#00a2c3"/><stop offset="0.4129" stop-color="#00a7b3"/><stop offset="0.4316" stop-color="#00a7b3"/><stop offset="0.4466" stop-color="#00aaa3"/><stop offset="0.4710" stop-color="#00aaa3"/><stop offset="0.4841" stop-color="#00aa98"/><stop offset="0.5009" stop-color="#00aa9d"/><stop offset="0.5178" stop-color="#00aa95"/><stop offset="0.5272" stop-color="#00aa9b"/><stop offset="0.5478" stop-color="#00aaa8"/><stop offset="0.5571" stop-color="#00a7b3"/><stop offset="0.5815" stop-color="#0098dd"/><stop offset="0.6133" stop-color="#0078dd"/><stop offset="0.6170" stop-color="#0067dd"/><stop offset="0.6189" stop-color="#0067dd"/><stop offset="0.6264" stop-color="#0041dd"/><stop offset="0.6283" stop-color="#0041dd"/><stop offset="0.6414" stop-color="#0000dd"/><stop offset="0.6639" stop-color="#0000c9"/><stop offset="0.7032" stop-color="#0300aa"/><stop offset="0.7051" stop-color="#0d00a8"/><stop offset="0.7069" stop-color="#0d00a8"/><stop offset="0.7107" stop-color="#2300a6"/><stop offset="0.7125" stop-color="#2300a6"/><stop offset="0.7163" stop-color="#3800a3"/><stop offset="0.7182" stop-color="#3800a3"/><stop offset="0.7219" stop-color="#4d00a0"/><stop offset="0.7238" stop-color="#4d00a0"/><stop offset="0.7294" stop-color="#6d009c"/><stop offset="0.7313" stop-color="#6d009c"/><stop offset="0.7331" stop-color="#78009b"/><stop offset="0.7350" stop-color="#78009b"/><stop offset="0.7369" stop-color="#83009a"/><stop offset="0.7406" stop-color="#870098"/><stop offset="0.7425" stop-color="#63009e"/><stop offset="0.7444" stop-color="#008ddd"/><stop offset="0.7463" stop-color="#0098dd"/><stop offset="0.7500" stop-color="#0098dd"/><stop offset="0.7519" stop-color="#007add"/><stop offset="0.7537" stop-color="#58009f"/><stop offset="0.7575" stop-color="#58009f"/><stop offset="0.7594" stop-color="#0000ad"/><stop offset="0.7612" stop-color="#0000d1"/><stop offset="0.7706" stop-color="#0000d9"/><stop offset="0.7725" stop-color="#0025dd"/><stop offset="0.7743" stop-color="#0041dd"/><stop offset="0.7800" stop-color="#0041dd"/><stop offset="0.7818" stop-color="#00a3bf"/><stop offset="0.7837" stop-color="#00a7b3"/><stop offset="0.7875" stop-color="#00a7b3"/><stop offset="0.7893" stop-color="#009bd7"/><stop offset="0.7912" stop-color="#0000dd"/><stop offset="0.7949" stop-color="#0000dd"/><stop offset="0.7968" stop-color="#002fdd"/><stop offset="0.7987" stop-color="#0092dd"/><stop offset="0.8043" stop-color="#0092dd"/><stop offset="0.8062" stop-color="#0000c1"/><stop offset="0.8081" stop-color="#0000b1"/><stop offset="0.8118" stop-color="#0000b1"/><stop offset="0.8137" stop-color="#2300a6"/><stop offset="0.8155" stop-color="#58009f"/><stop offset="0.8174" stop-color="#58009f"/><stop offset="0.8193" stop-color="#1800a7"/><stop offset="0.8212" stop-color="#0000c9"/><stop offset="0.8249" stop-color="#0000c9"/><stop offset="0.8268" stop-color="#0300aa"/><stop offset="0.8287" stop-color="#870098"/><stop offset="0.8904" stop-color="#7f0090"/><stop offset="0.9092" stop-color="#770088"/><stop offset="0.9110" stop-color="#700080"/><stop offset="0.9129" stop-color="#700080"/><stop offset="0.9148" stop-color="#670075"/><stop offset="0.9167" stop-color="#670075"/><stop offset="0.9185" stop-color="#5d006b"/><stop offset="0.9204" stop-color="#5d006b"/><stop offset="0.9223" stop-color="#540060"/><stop offset="0.9242" stop-color="#540060"/><stop offset="0.9260" stop-color="#4b0055"/><stop offset="0.9298" stop-color="#4b0055"/><stop offset="0.9316" stop-color="#41004b"/><stop offset="0.9354" stop-color="#41004b"/><stop offset="0.9373" stop-color="#380040"/><stop offset="0.9410" stop-color="#380040"/><stop offset="0.9429" stop-color="#2f0035"/><stop offset="0.9466" stop-color="#2f0035"/><stop offset="0.9485" stop-color="#25002b"/><stop offset="0.9541" stop-color="#25002b"/><stop offset="0.9560" stop-color="#1c0020"/><stop offset="0.9616" stop-color="#1c0020"/><stop offset="0.9635" stop-color="#130015"/><stop offset="0.9691" stop-color="#130015"/><stop offset="0.9710" stop-color="#09000b"/><stop offset="0.9785" stop-color="#09000b"/><stop offset="0.9803" stop-color="#000000"/><stop offset="0.9991" stop-color="#000000"/></linearGradient>
<linearGradient id="l15"><stop offset="0.0009" stop-color="#00ff00"/><stop offset="0.0028" stop-color="#00ff00"/><stop offset="0.0047" stop-color="#870098"/><stop offset="0.0066" stop-color="#870098"/><stop offset="0.0084" stop-color="#2f0035"/><stop offset="0.1526" stop-color="#2f0035"/><stop offset="0.1545" stop-color="#380040"/><stop offset="0.1657" stop-color="#380040"/><stop offset="0.1676" stop-color="#41004b"/><stop offset="0.1770" stop-color="#41004b"/><stop offset="0.1788" stop-color="#4b0055"/><stop offset="0.1826" stop-color="#4b0055"/><stop offset="0.1845" stop-color="#540060"/><stop offset="0.1882" stop-color="#540060"/><stop offset="0.1901" stop-color="#5d006b"/><stop offset="0.1919" stop-color="#5d006b"/><stop offset="0.1938" stop-color="#670075"/><stop offset="0.1957" stop-color="#670075"/><stop offset="0.1994" stop-color="#770088"/><stop offset="0.2219" stop-color="#870098"/><stop offset="0.2257" stop-color="#83009a"/><stop offset="0.2275" stop-color="#2d00a4"/><stop offset="0.2294" stop-color="#0000b9"/><stop offset="0.2406" stop-color="#0000dd"/><stop offset="0.2444" stop-color="#0000dd"/><stop offset="0.2463" stop-color="#0009dd"/><stop offset="0.2519" stop-color="#0009dd"/><stop offset="0.2537" stop-color="#0013dd"/><stop offset="0.2575" stop-color="#0013dd"/><stop offset="0.2594" stop-color="#001cdd"/><stop offset="0.2612" stop-color="#002fdd"/><stop offset="0.2650" stop-color="#0041dd"/><stop offset="0.2669" stop-color="#0054dd"/><stop offset="0.2687" stop-color="#005ddd"/><stop offset="0.2706" stop-color="#0070dd"/><stop offset="0.2931" stop-color="#0088dd"/><stop offset="0.3436" stop-color="#009adb"/><stop offset="0.3811" stop-color="#00a3bf"/><stop offset="0.3830" stop-color="#00a3bf"/><stop offset="0.3848" stop-color="#00c200"/><stop offset="0.3867" stop-color="#49ff00"/><stop offset="0.3904" stop-color="#49ff00"/><stop offset="0.3923" stop-color="#00c400"/><stop offset="0.3942" stop-color="#00a4bb"/><stop offset="0.4110" stop-color="#00aaab"/><stop offset="0.4298" stop-color="#00aaab"/><stop offset="0.4466" stop-color="#00aa9d"/><stop offset="0.4672" stop-color="#00aa9d"/><stop offset="0.4841" stop-color="#00aa93"/><stop offset="0.5066" stop-color="#00aa93"/><stop offset="0.5197" stop-color="#00aa8d"/><stop offset="0.5440" stop-color="#00aaa0"/><stop offset="0.5571" stop-color="#00aaa8"/><stop offset="0.5871" stop-color="#0098dd"/><stop offset="0.6170" stop-color="#0078dd"/><stop offset="0.6227" stop-color="#005ddd"/><stop offset="0.6245" stop-color="#005ddd"/><stop offset="0.6433" stop-color="#0000dd"/><stop offset="0.6976" stop-color="#0000b1"/><stop offset="0.7051" stop-color="#0300aa"/><stop offset="0.7088" stop-color="#1800a7"/><stop offset="0.7107" stop-color="#1800a7"/><stop offset="0.7144" stop-color="#2d00a4"/><stop offset="0.7163" stop-color="#2d00a4"/><stop offset="0.7200" stop-color="#4300a2"/><stop offset="0.7219" stop-color="#4300a2"/><stop offset="0.7275" stop-color="#63009e"/><stop offset="0.7294" stop-color="#63009e"/><stop offset="0.7331" stop-color="#78009b"/><stop offset="0.7350" stop-color="#78009b"/><stop offset="0.7369" stop-color="#83009a"/><stop offset="0.7406" stop-color="#870098"/><stop offset="0.7425" stop-color="#63009e"/><stop offset="0.7444" stop-color="#008ddd"/><stop offset="0.7463" stop-color="#0098dd"/><stop offset="0.7500" stop-color="#0098dd"/><stop offset="0.7519" stop-color="#007add"/><stop offset="0.7537" stop-color="#58009f"/><stop offset="0.7575" stop-color="#58009f"/><stop offset="0.7594" stop-color="#0000ad"/><stop offset="0.7612" stop-color="#0000d1"/><stop offset="0.7706" stop-color="#0000d9"/><stop offset="0.7725" stop-color="#0025dd"/><stop offset="0.7743" stop-color="#0041dd"/><stop offset="0.7800" stop-color="#0041dd"/><stop offset="0.7818" stop-color="#00a3bf"/><stop offset="0.7837" stop-color="#00a7b3"/><stop offset="0.7875" stop-color="#00a7b3"/><stop offset="0.7893" stop-color="#009bd7"/><stop offset="0.7912" stop-color="#0000dd"/><stop offset="0.7949" stop-color="#0000dd"/><stop offset="0.7968" stop-color="#002fdd"/><stop offset="0.7987" stop-color="#0092dd"/><stop offset="0.8043" stop-color="#0092dd"/><stop offset="0.8062" stop-color="#0000c1"/><stop offset="0.8081" stop-color="#0000b1"/><stop offset="0.8118" stop-color="#0000b1"/><stop offset="0.8137" stop-color="#2300a6"/><stop offset="0.8155" stop-color="#58009f"/><stop offset="0.8174" stop-color="#58009f"/><stop offset="0.8193" stop-color="#1800a7"/><stop offset="0.8212" stop-color="#4300a2"/><stop offset="0.8249" stop-color="#4300a2"/><stop offset="0.8268" stop-color="#1800a7"/><stop offset="0.8287" stop-color="#870098"/><stop offset="0.8904" stop-color="#7f0090"/><stop offset="0.9092" stop-color="#770088"/><stop offset="0.9110" stop-color="#700080"/><stop offset="0.9129" stop-color="#700080"/><stop offset="0.9148" stop-color="#670075"/><stop offset="0.9167" stop-color="#670075"/><stop offset="0.9185" stop-color="#5d006b"/><stop offset="0.9204" stop-color="#5d006b"/><stop offset="0.9223" stop-color="#540060"/><stop offset="0.9242" stop-color="#540060"/><stop offset="0.9260" stop-color="#4b0055"/><stop offset="0.9298" stop-color="#4b0055"/><stop offset="0.9316" stop-color="#41004b"/><stop offset="0.9354" stop-color="#41004b"/><stop offset="0.9373" stop-color="#380040"/><stop offset="0.9410" stop-color="#380040"/><stop offset="0.9429" stop-color="#2f0035"/><stop offset="0.9466" stop-color="#2f0035"/><stop offset="0.9485" stop-color="#25002b"/><stop offset="0.9541" stop-color="#25002b"/><stop offset="0.9560" stop-color="#1c0020"/><stop offset="0.9616" stop-color="#1c0020"/><stop offset="0.9635" stop-color="#130015"/><stop offset="0.9691" stop-color="#130015"/><stop offset="0.9710" stop-color="#09000b"/><stop offset="0.9785" stop-color="#09000b"/><stop offset="0.9803" stop-color="#000000"/><stop offset="0.9991" stop-color="#000000"/></linearGradient>
<linearGradient id="l16"><stop offset="0.0009" stop-color="#00ff00"/><stop offset="0.0028" stop-color="#00ff00"/><stop offset="0.0047" stop-color="#870098"/><stop offset="0.0066" stop-color="#870098"/><stop offset="0.0084" stop-color="#2f0035"/><stop offset="0.1526" stop-color="#2f0035"/><stop offset="0.1545" stop-color="#380040"/><stop offset="0.1657" stop-color="#380040"/><stop offset="0.1676" stop-color="#41004b"/><stop offset="0.1770" stop-color="#41004b"/><stop offset="0.1788" stop-color="#4b0055"/><stop offset="0.1826" stop-color="#4b0055"/><stop offset="0.1845" stop-color="#540060"/><stop offset="0.1882" stop-color="#540060"/><stop offset="0.1901" stop-color="#5d006b"/><stop offset="0.1919" stop-color="#5d006b"/><stop offset="0.1938" stop-color="#670075"/><stop offset="0.1957" stop-color="#670075"/><stop offset="0.1994" stop-color="#770088"/><stop offset="0.2219" stop-color="#870098"/><stop offset="0.2257" stop-color="#83009a"/><stop offset="0.2275" stop-color="#2d00a4"/><stop offset="0.2294" stop-color="#0000c9"/><stop offset="0.2313" stop-color="#0013dd"/><stop offset="0.2331" stop-color="#0054dd"/><stop offset="0.2350" stop-color="#0078dd"/><stop offset="0.2425" stop-color="#0082dd"/><stop offset="0.2594" stop-color="#0085dd"/><stop offset="0.2762" stop-color="#009bd7"/><stop offset="0.2949" stop-color="#009fcb"/><stop offset="0.3193" stop-color="#00a2c3"/><stop offset="0.3661" stop-color="#00a4bb"/><stop offset="0.3942" stop-color="#00a7b3"/><stop offset="0.4129" stop-color="#00aaa3"/><stop offset="0.4316" stop-color="#00aaa3"/><stop offset="0.4485" stop-color="#00aa95"/><stop offset="0.4691" stop-color="#00aa95"/><stop offset="0.4822" stop-color="#00aa8b"/><stop offset="0.5066" stop-color="#00aa8b"/><stop offset="0.5103" stop-color="#00a97d"/><stop offset="0.5215" stop-color="#00a97d"/><stop offset="0.5234" stop-color="#00aa88"/><stop offset="0.5440" stop-color="#00aa98"/><stop offset="0.5571" stop-color="#00aaa3"/><stop offset="0.5927" stop-color="#0098dd"/><stop offset="0.6208" stop-color="#0078dd"/><stop offset="0.6451" stop-color="#0000dd"/><stop offset="0.6919" stop-color="#0000b9"/><stop offset="0.7051" stop-color="#0300aa"/><stop offset="0.7069" stop-color="#0d00a8"/><stop offset="0.7088" stop-color="#0d00a8"/><stop offset="0.7125" stop-color="#2300a6"/><stop offset="0.7144" stop-color="#2300a6"/><stop offset="0.7182" stop-color="#3800a3"/><stop offset="0.7200" stop-color="#3800a3"/><stop offset="0.7275" stop-color="#63009e"/><stop offset="0.7294" stop-color="#63009e"/><stop offset="0.7331" stop-color="#78009b"/><stop offset="0.7350" stop-color="#78009b"/><stop offset="0.7369" stop-color="#83009a"/><stop offset="0.7406" stop-color="#870098"/><stop offset="0.7425" stop-color="#63009e"/><stop offset="0.7444" stop-color="#008ddd"/><stop offset="0.7463" stop-color="#0098dd"/><stop offset="0.7500" stop-color="#0098dd"/><stop offset="0.7519" stop-color="#007add"/><stop offset="0.7537" stop-color="#58009f"/><stop offset="0.7575" stop-color="#58009f"/><stop offset="0.7594" stop-color="#0000ad"/><stop offset="0.7612" stop-color="#0000d1"/><stop offset="0.7706" stop-color="#0000d9"/><stop offset="0.7725" stop-color="#0025dd"/><stop offset="0.7743" stop-color="#0041dd"/><stop offset="0.7800" stop-color="#0041dd"/><stop offset="0.7818" stop-color="#00a3bf"/><stop offset="0.7837" stop-color="#00a7b3"/><stop offset="0.7875" stop-color="#00a7b3"/><stop offset="0.7893" stop-color="#009bd7"/><stop offset="0.7912" stop-color="#0000dd"/><stop offset="0.7949" stop-color="#0000dd"/><stop offset="0.7968" stop-color="#002fdd"/><stop offset="0.7987" stop-color="#0092dd"/><stop offset="0.8043" stop-color="#0092dd"/><stop offset="0.8062" stop-color="#0000c1"/><stop offset="0.8081" stop-color="#0000b1"/><stop offset="0.8118" stop-color="#0000b1"/><stop offset="0.8137" stop-color="#2300a6"/><stop offset="0.8155" stop-color="#58009f"/><stop offset="0.8174" stop-color="#58009f"/><stop offset="0.8193" stop-color="#1800a7"/><stop offset="0.8212" stop-color="#4300a2"/><stop offset="0.8249" stop-color="#4300a2"/><stop offset="0.8268" stop-color="#1800a7"/><stop offset="0.8287" stop-color="#870098"/><stop offset="0.8904" stop-color="#7f0090"/><stop offset="0.9092" stop-color="#770088"/><stop offset="0.9110" stop-color="#700080"/><stop offset="0.9129" stop-color="#700080"/><stop offset="0.9148" stop-color="#670075"/><stop offset="0.9167" stop-color="#670075"/><stop offset="0.9185" stop-color="#5d006b"/><stop offset="0.9204" stop-color="#5d006b"/><stop offset="0.9223" stop-color="#540060"/><stop offset="0.9242" stop-color="#540060"/><stop offset="0.9260" stop-color="#4b0055"/><stop offset="0.9298" stop-color="#4b0055"/><stop offset="0.9316" stop-color="#41004b"/><stop offset="0.9354" stop-color="#41004b"/><stop offset="0.9373" stop-color="#380040"/><stop offset="0.9410" stop-color="#380040"/><stop offset="0.9429" stop-color="#2f0035"/><stop offset="0.9466" stop-color="#2f0035"/><stop offset="0.9485" stop-color="#25002b"/><stop offset="0.9541" stop-color="#25002b"/><stop offset="0.9560" stop-color="#1c0020"/><stop offset="0.9616" stop-color="#1c0020"/><stop offset="0.9635" stop-color="#130015"/><stop offset="0.9691" stop-color="#130015"/><stop offset="0.9710" stop-color="#09000b"/><stop offset="0.9785" stop-color="#09000b"/><stop offset="0.9803" stop-color="#000000"/><stop offset="0.9991" stop-color="#000000"/></linearGradient>
<linearGradient id="l17"><stop offset="0.0009" stop-color="#00ff00"/><stop offset="0.0028" stop-color="#00ff00"/><stop offset="0.0047" stop-color="#870098"/><stop offset="0.0066" stop-color="#870098"/><stop offset="0.0084" stop-color="#2f0035"/><stop offset="0.1526" stop-color="#2f0035"/><stop offset="0.1545" stop-color="#380040"/><stop offset="0.1657" stop-color="#380040"/><stop offset="0.1676" stop-color="#41004b"/><stop offset="0.1770" stop-color="#41004b"/><stop offset="0.1788" stop-color="#4b0055"/><stop offset="0.1826" stop-color="#4b0055"/><stop offset="0.1845" stop-color="#540060"/><stop offset="0.1882" stop-color="#540060"/><stop offset="0.1901" stop-color="#5d006b"/><stop offset="0.1919" stop-color="#5d006b"/><stop offset="0.1938" stop-color="#670075"/><stop offset="0.1957" stop-color="#670075"/><stop offset="0.1994" stop-color="#770088"/><stop offset="0.2219" stop-color="#870098"/><stop offset="0.2257" stop-color="#83009a"/><stop offset="0.2275" stop-color="#3800a3"/><stop offset="0.2294" stop-color="#0000b5"/><stop offset="0.2388" stop-color="#0000d1"/><stop offset="0.2556" stop-color="#0000dd"/><stop offset="0.2575" stop-color="#0000dd"/><stop offset="0.2612" stop-color="#0013dd"/><stop offset="0.2631" stop-color="#0025dd"/><stop offset="0.2650" stop-color="#002fdd"/><stop offset="0.2669" stop-color="#0041dd"/><stop offset="0.2725" stop-color="#005ddd"/><stop offset="0.2743" stop-color="#005ddd"/><stop offset="0.2762" stop-color="#0067dd"/><stop offset="0.2781" stop-color="#0067dd"/><stop offset="0.2818" stop-color="#0078dd"/><stop offset="0.3361" stop-color="#0090dd"/><stop offset="0.3642" stop-color="#009adb"/><stop offset="0.3830" stop-color="#009ecf"/><stop offset="0.3961" stop-color="#009fcb"/><stop offset="0.4129" stop-color="#00a4bb"/><stop offset="0.4316" stop-color="#00a4bb"/><stop offset="0.4485" stop-color="#00aaa8"/><stop offset="0.4710" stop-color="#00aaa8"/><stop offset="0.4841" stop-color="#00aaa0"/><stop offset="0.5066" stop-color="#00aaa0"/><stop offset="0.5197" stop-color="#00aa9b"/><stop offset="0.5552" stop-color="#00a6b7"/><stop offset="0.5777" stop-color="#0098dd"/><stop offset="0.6114" stop-color="#0078dd"/><stop offset="0.6170" stop-color="#005ddd"/><stop offset="0.6189" stop-color="#005ddd"/><stop offset="0.6264" stop-color="#0038dd"/><stop offset="0.6283" stop-color="#0038dd"/><stop offset="0.6395" stop-color="#0000dd"/><stop offset="0.6489" stop-color="#0000d1"/><stop offset="0.7013" stop-color="#0300aa"/><stop offset="0.7032" stop-color="#0d00a8"/><stop offset="0.7051" stop-color="#0d00a8"/><stop offset="0.7069" stop-color="#1800a7"/><stop offset="0.7088" stop-color="#1800a7"/><stop offset="0.7125" stop-color="#2d00a4"/><stop offset="0.7144" stop-color="#2d00a4"/><stop offset="0.7163" stop-color="#3800a3"/><stop offset="0.7182" stop-color="#3800a3"/><stop offset="0.7219" stop-color="#4d00a0"/><stop offset="0.7238" stop-color="#4d00a0"/><stop offset="0.7294" stop-color="#6d009c"/><stop offset="0.7313" stop-color="#6d009c"/><stop offset="0.7331" stop-color="#78009b"/><stop offset="0.7350" stop-color="#78009b"/><stop offset="0.7369" stop-color="#83009a"/><stop offset="0.7406" stop-color="#870098"/><stop offset="0.7425" stop-color="#63009e"/><stop offset="0.7444" stop-color="#008ddd"/><stop offset="0.7463" stop-color="#0098dd"/><stop offset="0.7500" stop-color="#0098dd"/><stop offset="0.7519" stop-color="#007add"/><stop offset="0.7537" stop-color="#58009f"/><stop offset="0.7575" stop-color="#58009f"/><stop offset="0.7594" stop-color="#0000ad"/><stop offset="0.7612" stop-color="#0000d1"/><stop offset="0.7706" stop-color="#0000d9"/><stop offset="0.7725" stop-color="#0025dd"/><stop offset="0.7743" stop-color="#0041dd"/><stop offset="0.7800" stop-color="#0041dd"/><stop offset="0.7818" stop-color="#00a3bf"/><stop offset="0.7837" stop-color="#00a7b3"/><stop offset="0.7875" stop-color="#00a7b3"/><stop offset="0.7893" stop-color="#009bd7"/><stop offset="0.7912" stop-color="#0000dd"/><stop offset="0.7949" stop-color="#0000dd"/><stop offset="0.7968" stop-color="#002fdd"/><stop offset="0.7987" stop-color="#0092dd"/><stop offset="0.8043" stop-color="#0092dd"/><stop offset="0.8062" stop-color="#0000c1"/><stop offset="0.8081" stop-color="#0000b1"/><stop offset="0.8118" stop-color="#0000b1"/><stop offset="0.8137" stop-color="#2300a6"/><stop offset="0.8155" stop-color="#58009f"/><stop offset="0.8174" stop-color="#58009f"/><stop offset="0.8193" stop-color="#1800a7"/><stop offset="0.8212" stop-color="#0000c9"/><stop offset="0.8249" stop-color="#0000c9"/><stop offset="0.8268" stop-color="#0300aa"/><stop offset="0.8287" stop-color="#870098"/><stop offset="0.8904" stop-color="#7f0090"/><stop offset="0.9092" stop-color="#770088"/><stop offset="0.9110" stop-color="#700080"/><stop offset="0.9129" stop-color="#700080"/><stop offset="0.9148" stop-color="#670075"/><stop offset="0.9167" stop-color="#670075"/><stop offset="0.9185" stop-color="#5d006b"/><stop offset="0.9204" stop-color="#5d006b"/><stop offset="0.9223" stop-color="#540060"/><stop offset="0.9242" stop-color="#540060"/><stop offset="0.9260" stop-color="#4b0055"/><stop offset="0.9298" stop-color="#4b0055"/><stop offset="0.9316" stop-color="#41004b"/><stop offset="0.9354" stop-color="#41004b"/><stop offset="0.9373" stop-color="#380040"/><stop offset="0.9410" stop-color="#380040"/><stop offset="0.9429" stop-color="#2f0035"/><stop offset="0.9466" stop-color="#2f0035"/><stop offset="0.9485" stop-color="#25002b"/><stop offset="0.9541" stop-color="#25002b"/><stop offset="0.9560" stop-color="#1c0020"/><stop offset="0.9616" stop-color="#1c0020"/><stop offset="0.9635" stop-color="#130015"/><stop offset="0.9691" stop-color="#130015"/><stop offset="0.9710" stop-color="#09000b"/><stop offset="0.9785" stop-color="#09000b"/><stop offset="0.9803" stop-color="#000000"/><stop offset="0.9991" stop-color="#000000"/></linearGradient>
<linearGradient id="l18"><stop offset="0.0009" stop-color="#00ff00"/><stop offset="0.0028" stop-color="#00ff00"/><stop offset="0.0047" stop-color="#870098"/><stop offset="0.0066" stop-color="#870098"/><stop offset="0.0084" stop-color="#2f0035"/><stop offset="0.1526" stop-color="#2f0035"/><stop offset="0.1545" stop-color="#380040"/><stop offset="0.1657" stop-color="#380040"/><stop offset="0.1676" stop-color="#41004b"/><stop offset="0.1770" stop-color="#41004b"/><stop offset="0.1788" stop-color="#4b0055"/><stop offset="0.1826" stop-color="#4b0055"/><stop offset="0.1845" stop-color="#540060"/><stop offset="0.1882" stop-color="#540060"/><stop offset="0.1901" stop-color="#5d006b"/><stop offset="0.1919" stop-color="#5d006b"/><stop offset="0.1938" stop-color="#670075"/><stop offset="0.1957" stop-color="#670075"/><stop offset="0.1994" stop-color="#770088"/><stop offset="0.2219" stop-color="#870098"/><stop offset="0.2257" stop-color="#83009a"/><stop offset="0.2275" stop-color="#2d00a4"/><stop offset="0.2294" stop-color="#0000b9"/><stop offset="0.2406" stop-color="#0000dd"/><stop offset="0.2444" stop-color="#0000dd"/><stop offset="0.2463" stop-color="#0009dd"/><stop offset="0.2519" stop-color="#0009dd"/><stop offset="0.2537" stop-color="#0013dd"/><stop offset="0.2575" stop-color="#0013dd"/><stop offset="0.2594" stop-color="#001cdd"/><stop offset="0.2612" stop-color="#002fdd"/><stop offset="0.2650" stop-color="#0041dd"/><stop offset="0.2669" stop-color="#0054dd"/><stop offset="0.2687" stop-color="#005ddd"/><stop offset="0.2706" stop-color="#0070dd"/><stop offset="0.2931" stop-color="#0088dd"/><stop offset="0.3436" stop-color="#009adb"/><stop offset="0.3811" stop-color="#00a3bf"/><stop offset="0.3961" stop-color="#00a4bb"/><stop offset="0.4092" stop-color="#00aaab"/><stop offset="0.4298" stop-color="#00aaab"/><stop offset="0.4466" stop-color="#00aa9d"/><stop offset="0.4672" stop-color="#00aa9d"/><stop offset="0.4841" stop-color="#00aa93"/><stop offset="0.5066" stop-color="#00aa93"/><stop offset="0.5197" stop-color="#00aa8d"/><stop offset="0.5440" stop-color="#00aaa0"/><stop offset="0.5571" stop-color="#00aaa8"/><stop offset="0.5871" stop-color="#0098dd"/><stop offset="0.6170" stop-color="#0078dd"/><stop offset="0.6227" stop-color="#005ddd"/><stop offset="0.6245" stop-color="#005ddd"/><stop offset="0.6433" stop-color="#0000dd"/><stop offset="0.6976" stop-color="#0000b1"/><stop offset="0.7051" stop-color="#0300aa"/><stop offset="0.7088" stop-color="#1800a7"/><stop offset="0.7107" stop-color="#1800a7"/><stop offset="0.7144" stop-color="#2d00a4"/><stop offset="0.7163" stop-color="#2d00a4"/><stop offset="0.7200" stop-color="#4300a2"/><stop offset="0.7219" stop-color="#4300a2"/><stop offset="0.7275" stop-color="#63009e"/><stop offset="0.7294" stop-color="#63009e"/><stop offset="0.7331" stop-color="#78009b"/><stop offset="0.7350" stop-color="#78009b"/><stop offset="0.7369" stop-color="#83009a"/><stop offset="0.7406" stop-color="#870098"/><stop offset="0.7425" stop-color="#63009e"/><stop offset="0.7444" stop-color="#008ddd"/><stop offset="0.7463" stop-color="#0098dd"/><stop offset="0.7500" stop-color="#0098dd"/><stop offset="0.7519" stop-color="#007add"/><stop offset="0.7537" stop-color="#58009f"/><stop offset="0.7575" stop-color="#58009f"/><stop offset="0.7594" stop-color="#0000ad"/><stop offset="0.7612" stop-color="#0000d1"/><stop offset="0.7706" stop-color="#0000d9"/><stop offset="0.7725" stop-color="#0025dd"/><stop offset="0.7743" stop-color="#0041dd"/><stop offset="0.7800" stop-color="#0041dd"/><stop offset="0.7818" stop-color="#00a3bf"/><stop offset="0.7837" stop-color="#00a7b3"/><stop offset="0.7875" stop-color="#00a7b3"/><stop offset="0.7893" stop-color="#009bd7"/><stop offset="0.7912" stop-color="#0000dd"/><stop offset="0.7949" stop-color="#0000dd"/><stop offset="0.7968" stop-color="#002fdd"/><stop offset="0.7987" stop-color="#0092dd"/><stop offset="0.8043" stop-color="#0092dd"/><stop offset="0.8062" stop-color="#0000c1"/><stop offset="0.8081" stop-color="#0000b1"/><stop offset="0.8118" stop-color="#0000b1"/><stop offset="0.8137" stop-color="#2300a6"/><stop offset="0.8155" stop-color="#58009f"/><stop offset="0.8174" stop-color="#58009f"/><stop offset="0.8193" stop-color="#1800a7"/><stop offset="0.8212" stop-color="#4300a2"/><stop offset="0.8249" stop-color="#4300a2"/><stop offset="0.8268" stop-color="#1800a7"/><stop offset="0.8287" stop-color="#870098"/><stop offset="0.8904" stop-color="#7f0090"/><stop offset="0.9092" stop-color="#770088"/><stop offset="0.9110" stop-color="#700080"/><stop offset="0.9129" stop-color="#700080"/><stop offset="0.9148" stop-color="#670075"/><stop offset="0.9167" stop-color="#670075"/><stop offset="0.9185" stop-color="#5d006b"/><stop offset="0.9204" stop-color="#5d006b"/><stop offset="0.9223" stop-color="#540060"/><stop offset="0.9242" stop-color="#540060"/><stop offset="0.9260" stop-color="#4b0055"/><stop offset="0.9298" stop-color="#4b0055"/><stop offset="0.9316" stop-color="#41004b"/><stop offset="0.9354" stop-color="#41004b"/><stop offset="0.9373" stop-color="#380040"/><stop offset="0.9410" stop-color="#380040"/><stop offset="0.9429" stop-color="#2f0035"/><stop offset="0.9466" stop-color="#2f0035"/><stop offset="0.9485" stop-color="#25002b"/><stop offset="0.9541" stop-color="#25002b"/><stop offset="0.9560" stop-color="#1c0020"/><stop offset="0.9616" stop-color="#1c0020"/><stop offset="0.9635" stop-color="#130015"/><stop offset="0.9691" stop-color="#130015"/><stop offset="0.9710" stop-color="#09000b"/><stop offset="0.9785" stop-color="#09000b"/><stop offset="0.9803" stop-color="#000000"/><stop offset="0.9991" stop-color="#000000"/></linearGradient>
<linearGradient id="l19"><stop offset="0.0009" stop-color="#efed00"/><stop offset="0.0028" stop-color="#efed00"/><stop offset="0.0047" stop-color="#870098"/><stop offset="0.0066" stop-color="#870098"/><stop offset="0.0084" stop-color="#2f0035"/><stop offset="0.2406" stop-color="#2f0035"/><stop offset="0.2425" stop-color="#380040"/><stop offset="0.2650" stop-color="#380040"/><stop offset="0.2669" stop-color="#41004b"/><stop offset="0.3624" stop-color="#41004b"/><stop offset="0.3642" stop-color="#540060"/><stop offset="0.3661" stop-color="#850096"/><stop offset="0.3699" stop-color="#850096"/><stop offset="0.3717" stop-color="#770088"/><stop offset="0.3736" stop-color="#41004b"/><stop offset="0.4635" stop-color="#41004b"/><stop offset="0.4654" stop-color="#4b0055"/><stop offset="0.4672" stop-color="#4b0055"/><stop offset="0.4691" stop-color="#41004b"/><stop offset="0.8343" stop-color="#41004b"/><stop offset="0.8361" stop-color="#380040"/><stop offset="0.8624" stop-color="#380040"/><stop offset="0.8642" stop-color="#2f0035"/><stop offset="0.8886" stop-color="#2f0035"/><stop offset="0.8904" stop-color="#25002b"/><stop offset="0.9073" stop-color="#25002b"/><stop offset="0.9092" stop-color="#1c0020"/><stop offset="0.9279" stop-color="#1c0020"/><stop offset="0.9298" stop-color="#130015"/><stop offset="0.9429" stop-color="#130015"/><stop offset="0.9448" stop-color="#09000b"/><stop offset="0.9579" stop-color="#09000b"/><stop offset="0.9597" stop-color="#000000"/><stop offset="0.9991" stop-color="#000000"/></linearGradient>
<linearGradient id="l20"><stop offset="0.0009" stop-color="#00ff00"/><stop offset="0.0028" stop-color="#00ff00"/><stop offset="0.0047" stop-color="#870098"/><stop offset="0.0066" stop-color="#870098"/><stop offset="0.0084" stop-color="#540060"/><stop offset="0.0721" stop-color="#540060"/><stop offset="0.0740" stop-color="#5d006b"/><stop offset="0.1096" stop-color="#5d006b"/><stop offset="0.1114" stop-color="#670075"/><stop offset="0.1433" stop-color="#670075"/><stop offset="0.1451" stop-color="#700080"/><stop offset="0.1545" stop-color="#700080"/><stop offset="0.1564" stop-color="#770088"/><stop offset="0.1901" stop-color="#850096"/><stop offset="0.1919" stop-color="#63009e"/><stop offset="0.1938" stop-color="#0300aa"/><stop offset="0.1957" stop-color="#0000c5"/><stop offset="0.1976" stop-color="#0000d1"/><stop offset="0.1994" stop-color="#0009dd"/><stop offset="0.2013" stop-color="#002fdd"/><stop offset="0.2032" stop-color="#005ddd"/><stop offset="0.2051" stop-color="#007ddd"/><stop offset="0.2107" stop-color="#0095dd"/><stop offset="0.2238" stop-color="#00a6b7"/><stop offset="0.2275" stop-color="#00aa8d"/><stop offset="0.2313" stop-color="#009c00"/><stop offset="0.2331" stop-color="#00aa00"/><stop offset="0.2463" stop-color="#00ba00"/><stop offset="0.2800" stop-color="#00cf00"/><stop offset="0.3212" stop-color="#00ff00"/><stop offset="0.4841" stop-color="#00fc00"/><stop offset="0.5552" stop-color="#00ec00"/><stop offset="0.5964" stop-color="#00ac00"/><stop offset="0.6058" stop-color="#009a00"/><stop offset="0.6096" stop-color="#009b13"/><stop offset="0.6114" stop-color="#009e28"/><stop offset="0.6133" stop-color="#009f33"/><stop offset="0.6189" stop-color="#00a773"/><stop offset="0.6227" stop-color="#00aa8b"/><stop offset="0.6451" stop-color="#00a8af"/><stop offset="0.6601" stop-color="#009bd7"/><stop offset="0.6770" stop-color="#008ddd"/><stop offset="0.6957" stop-color="#0078dd"/><stop offset="0.7107" stop-color="#002fdd"/><stop offset="0.7125" stop-color="#002fdd"/><stop offset="0.7144" stop-color="#0025dd"/><stop offset="0.7182" stop-color="#0025dd"/><stop offset="0.7200" stop-color="#001cdd"/><stop offset="0.7238" stop-color="#001cdd"/><stop offset="0.7257" stop-color="#0013dd"/><stop offset="0.7294" stop-color="#0013dd"/><stop offset="0.7313" stop-color="#0009dd"/><stop offset="0.7369" stop-color="#0009dd"/><stop offset="0.7388" stop-color="#0000dd"/><stop offset="0.7406" stop-color="#0000dd"/><stop offset="0.7425" stop-color="#0013dd"/><stop offset="0.7444" stop-color="#008add"/><stop offset="0.7481" stop-color="#0085dd"/><stop offset="0.7500" stop-color="#0000dd"/><stop offset="0.7556" stop-color="#0000dd"/><stop offset="0.7575" stop-color="#0067dd"/><stop offset="0.7594" stop-color="#0085dd"/><stop offset="0.7612" stop-color="#0080dd"/><stop offset="0.7631" stop-color="#0013dd"/><stop offset="0.7706" stop-color="#0013dd"/><stop offset="0.7725" stop-color="#0025dd"/><stop offset="0.7743" stop-color="#0085dd"/><stop offset="0.7762" stop-color="#0085dd"/><stop offset="0.7781" stop-color="#0025dd"/><stop offset="0.7800" stop-color="#0013dd"/><stop offset="0.7818" stop-color="#0013dd"/><stop offset="0.7837" stop-color="#002fdd"/><stop offset="0.7856" stop-color="#0098dd"/><stop offset="0.7875" stop-color="#0098dd"/><stop offset="0.7893" stop-color="#0054dd"/><stop offset="0.7912" stop-color="#0000dd"/><stop offset="0.7949" stop-color="#0000dd"/><stop offset="0.7968" stop-color="#0078dd"/><stop offset="0.7987" stop-color="#008add"/><stop offset="0.8006" stop-color="#008add"/><stop offset="0.8024" stop-color="#0000c9"/><stop offset="0.8155" stop-color="#0000bd"/><stop offset="0.8174" stop-color="#001cdd"/><stop offset="0.8193" stop-color="#005ddd"/><stop offset="0.8212" stop-color="#005ddd"/><stop offset="0.8230" stop-color="#0300aa"/><stop offset="0.8324" stop-color="#3800a3"/><stop offset="0.8343" stop-color="#3800a3"/><stop offset="0.8399" stop-color="#58009f"/><stop offset="0.8418" stop-color="#58009f"/><stop offset="0.8455" stop-color="#6d009c"/><stop offset="0.8474" stop-color="#6d009c"/><stop offset="0.8511" stop-color="#83009a"/><stop offset="0.8624" stop-color="#83009a"/><stop offset="0.8736" stop-color="#870098"/><stop offset="0.9148" stop-color="#7f0090"/><stop offset="0.9279" stop-color="#770088"/><stop offset="0.9298" stop-color="#700080"/><stop offset="0.9335" stop-color="#700080"/><stop offset="0.9354" stop-color="#670075"/><stop offset="0.9391" stop-color="#670075"/><stop offset="0.9410" stop-color="#5d006b"/><stop offset="0.9448" stop-color="#5d006b"/><stop offset="0.9466" stop-color="#540060"/><stop offset="0.9504" stop-color="#540060"/><stop offset="0.9522" stop-color="#4b0055"/><stop offset="0.9560" stop-color="#4b0055"/><stop offset="0.9579" stop-color="#41004b"/><stop offset="0.9616" stop-color="#41004b"/><stop offset="0.9635" stop-color="#380040"/><stop offset="0.9691" stop-color="#380040"/><stop offset="0.9710" stop-color="#2f0035"/><stop offset="0.9747" stop-color="#2f0035"/><stop offset="0.9766" stop-color="#25002b"/><stop offset="0.9822" stop-color="#25002b"/><stop offset="0.9841" stop-color="#1c0020"/><stop offset="0.9878" stop-color="#1c0020"/><stop offset="0.9897" stop-color="#130015"/><stop offset="0.9991" stop-color="#130015"/></linearGradient>
<linearGradient id="l21"><stop offset="0.0009" stop-color="#00ff00"/><stop offset="0.0028" stop-color="#00ff00"/><stop offset="0.0047" stop-color="#870098"/><stop offset="0.0066" stop-color="#870098"/><stop offset="0.0084" stop-color="#540060"/><stop offset="0.0721" stop-color="#540060"/><stop offset="0.0740" stop-color="#5d006b"/><stop offset="0.1096" stop-color="#5d006b"/><stop offset="0.1114" stop-color="#670075"/><stop offset="0.1433" stop-color="#670075"/><stop offset="0.1451" stop-color="#700080"/><stop offset="0.1545" stop-color="#700080"/><stop offset="0.1564" stop-color="#770088"/><stop offset="0.1901" stop-color="#850096"/><stop offset="0.1919" stop-color="#63009e"/><stop offset="0.1938" stop-color="#0300aa"/><stop offset="0.1957" stop-color="#0000c5"/><stop offset="0.1976" stop-color="#0000d1"/><stop offset="0.1994" stop-color="#0009dd"/><stop offset="0.2013" stop-color="#002fdd"/><stop offset="0.2032" stop-color="#005ddd"/><stop offset="0.2051" stop-color="#007ddd"/><stop offset="0.2107" stop-color="#0095dd"/><stop offset="0.2238" stop-color="#00a6b7"/><stop offset="0.2275" stop-color="#00aa8d"/><stop offset="0.2313" stop-color="#009c00"/><stop offset="0.2331" stop-color="#00aa00"/><stop offset="0.2463" stop-color="#00ba00"/><stop offset="0.2800" stop-color="#00cf00"/><stop offset="0.3212" stop-color="#00ff00"/><stop offset="0.4841" stop-color="#00fc00"/><stop offset="0.5552" stop-color="#00ec00"/><stop offset="0.5964" stop-color="#00ac00"/><stop offset="0.6058" stop-color="#009a00"/><stop offset="0.6096" stop-color="#009b13"/><stop offset="0.6114" stop-color="#009e28"/><stop offset="0.6133" stop-color="#009f33"/><stop offset="0.6189" stop-color="#00a773"/><stop offset="0.6227" stop-color="#00aa8b"/><stop offset="0.6451" stop-color="#00a8af"/><stop offset="0.6601" stop-color="#009bd7"/><stop offset="0.6770" stop-color="#008ddd"/><stop offset="0.6957" stop-color="#0078dd"/><stop offset="0.7107" stop-color="#002fdd"/><stop offset="0.7125" stop-color="#002fdd"/><stop offset="0.7144" stop-color="#0025dd"/><stop offset="0.7182" stop-color="#0025dd"/><stop offset="0.7200" stop-color="#001cdd"/><stop offset="0.7238" stop-color="#001cdd"/><stop offset="0.7257" stop-color="#0013dd"/><stop offset="0.7294" stop-color="#0013dd"/><stop offset="0.7313" stop-color="#0009dd"/><stop offset="0.7369" stop-color="#0009dd"/><stop offset="0.7388" stop-color="#0000dd"/><stop offset="0.7406" stop-color="#0000dd"/><stop offset="0.7425" stop-color="#0013dd"/><stop offset="0.7444" stop-color="#008add"/><stop offset="0.7481" stop-color="#0085dd"/><stop offset="0.7500" stop-color="#0000dd"/><stop offset="0.7556" stop-color="#0000dd"/><stop offset="0.7575" stop-color="#0067dd"/><stop offset="0.7594" stop-color="#0085dd"/><stop offset="0.7612" stop-color="#0080dd"/><stop offset="0.7631" stop-color="#0013dd"/><stop offset="0.7706" stop-color="#0013dd"/><stop offset="0.7725" stop-color="#0025dd"/><stop offset="0.7743" stop-color="#0085dd"/><stop offset="0.7762" stop-color="#0085dd"/><stop offset="0.7781" stop-color="#0025dd"/><stop offset="0.7800" stop-color="#0013dd"/><stop offset="0.7818" stop-color="#0013dd"/><stop offset="0.7837" stop-color="#002fdd"/><stop offset="0.7856" stop-color="#0098dd"/><stop offset="0.7875" stop-color="#0098dd"/><stop offset="0.7893" stop-color="#0054dd"/><stop offset="0.7912" stop-color="#0000dd"/><stop offset="0.7949" stop-color="#0000dd"/><stop offset="0.7968" stop-color="#0078dd"/><stop offset="0.7987" stop-color="#008add"/><stop offset="0.8006" stop-color="#008add"/><stop offset="0.8024" stop-color="#0000c9"/><stop offset="0.8155" stop-color="#0000bd"/><stop offset="0.8174" stop-color="#001cdd"/><stop offset="0.8193" stop-color="#005ddd"/><stop offset="0.8212" stop-color="#005ddd"/><stop offset="0.8230" stop-color="#0300aa"/><stop offset="0.8324" stop-color="#3800a3"/><stop offset="0.8343" stop-color="#3800a3"/><stop offset="0.8399" stop-color="#58009f"/><stop offset="0.8418" stop-color="#58009f"/><stop offset="0.8455" stop-color="#6d009c"/><stop offset="0.8474" stop-color="#6d009c"/><stop offset="0.8511" stop-color="#83009a"/><stop offset="0.8624" stop-color="#83009a"/><stop offset="0.8736" stop-color="#870098"/><stop offset="0.9148" stop-color="#7f0090"/><stop offset="0.9279" stop-color="#770088"/><stop offset="0.9298" stop-color="#700080"/><stop offset="0.9335" stop-color="#700080"/><stop offset="0.9354" stop-color="#670075"/><stop offset="0.9391" stop-color="#670075"/><stop offset="0.9410" stop-color="#5d006b"/><stop offset="0.9448" stop-color="#5d006b"/><stop offset="0.9466" stop-color="#540060"/><stop offset="0.9504" stop-color="#540060"/><stop offset="0.9522" stop-color="#4b0055"/><stop offset="0.9560" stop-color="#4b0055"/><stop offset="0.9579" stop-color="#41004b"/><stop offset="0.9616" stop-color="#41004b"/><stop offset="0.9635" stop-color="#380040"/><stop offset="0.9691" stop-color="#380040"/><stop offset="0.9710" stop-color="#2f0035"/><stop offset="0.9747" stop-color="#2f0035"/><stop offset="0.9766" stop-color="#25002b"/><stop offset="0.9822" stop-color="#25002b"/><stop offset="0.9841" stop-color="#1c0020"/><stop offset="0.9878" stop-color="#1c0020"/><stop offset="0.9897" stop-color="#130015"/><stop offset="0.9991" stop-color="#130015"/></linearGradient>
<linearGradient id="r0"><stop offset="0.0009" stop-color="#00ff00"/><stop offset="0.0028" stop-color="#00ff00"/><stop offset="0.0047" stop-color="#870098"/><stop offset="0.0066" stop-color="#870098"/><stop offset="0.0084" stop-color="#540060"/><stop offset="0.0665" stop-color="#540060"/><stop offset="0.0684" stop-color="#5d006b"/><stop offset="0.1039" stop-color="#5d006b"/><stop offset="0.1058" stop-color="#670075"/><stop offset="0.1320" stop-color="#670075"/><stop offset="0.1339" stop-color="#700080"/><stop offset="0.1376" stop-color="#700080"/><stop offset="0.1395" stop-color="#770088"/><stop offset="0.1770" stop-color="#810092"/><stop offset="0.1882" stop-color="#870098"/><stop offset="0.1901" stop-color="#6d009c"/><stop offset="0.1919" stop-color="#2d00a4"/><stop offset="0.1938" stop-color="#0000b1"/><stop offset="0.1976" stop-color="#0000d1"/><stop offset="0.1994" stop-color="#0009dd"/><stop offset="0.2013" stop-color="#002fdd"/><stop offset="0.2032" stop-color="#005ddd"/><stop offset="0.2051" stop-color="#007ddd"/><stop offset="0.2107" stop-color="#0095dd"/><stop offset="0.2238" stop-color="#00a6b7"/><stop offset="0.2275" stop-color="#00aa8d"/><stop offset="0.2313" stop-color="#009c00"/><stop offset="0.2331" stop-color="#00aa00"/><stop offset="0.2463" stop-color="#00ba00"/><stop offset="0.2800" stop-color="#00cf00"/><stop offset="0.3193" stop-color="#00ff00"/><stop offset="0.3212" stop-color="#0fff00"/><stop offset="0.3230" stop-color="#0fff00"/><stop offset="0.3249" stop-color="#1dff00"/><stop offset="0.3343" stop-color="#1dff00"/><stop offset="0.3361" stop-color="#2cff00"/><stop offset="0.3474" stop-color="#2cff00"/><stop offset="0.3493" stop-color="#1dff00"/><stop offset="0.3530" stop-color="#1dff00"/><stop offset="0.3549" stop-color="#0fff00"/><stop offset="0.3605" stop-color="#0fff00"/><stop offset="0.3624" stop-color="#00ff00"/><stop offset="0.3867" stop-color="#00ff00"/><stop offset="0.3886" stop-color="#0fff00"/><stop offset="0.3923" stop-color="#0fff00"/><stop offset="0.3942" stop-color="#1dff00"/><stop offset="0.3961" stop-color="#1dff00"/><stop offset="0.3979" stop-color="#2cff00"/><stop offset="0.4167" stop-color="#2cff00"/><stop offset="0.4185" stop-color="#1dff00"/><stop offset="0.4223" stop-color="#1dff00"/><stop offset="0.4242" stop-color="#0fff00"/><stop offset="0.4279" stop-color="#0fff00"/><stop offset="0.4298" stop-color="#00ff00"/><stop offset="0.5365" stop-color="#00f400"/><stop offset="0.5665" stop-color="#00e700"/><stop offset="0.6077" stop-color="#00ac00"/><stop offset="0.6189" stop-color="#009a00"/><stop offset="0.6227" stop-color="#009b13"/><stop offset="0.6320" stop-color="#00a97d"/><stop offset="0.6358" stop-color="#00aa90"/><stop offset="0.6545" stop-color="#00a4bb"/><stop offset="0.6620" stop-color="#009ecf"/><stop offset="0.6770" stop-color="#0095dd"/><stop offset="0.7069" stop-color="#0078dd"/><stop offset="0.7219" stop-color="#002fdd"/><stop offset="0.7238" stop-color="#002fdd"/><stop offset="0.7257" stop-color="#0025dd"/><stop offset="0.7275" stop-color="#0025dd"/><stop offset="0.7294" stop-color="#001cdd"/><stop offset="0.7313" stop-color="#001cdd"/><stop offset="0.7350" stop-color="#0009dd"/><stop offset="0.7369" stop-color="#0009dd"/><stop offset="0.7388" stop-color="#0000dd"/><stop offset="0.7406" stop-color="#0000dd"/><stop offset="0.7425" stop-color="#0009dd"/><stop offset="0.7444" stop-color="#0080dd"/><stop offset="0.7463" stop-color="#0092dd"/><stop offset="0.7500" stop-color="#0092dd"/><stop offset="0.7519" stop-color="#0067dd"/><stop offset="0.7537" stop-color="#0013dd"/><stop offset="0.7575" stop-color="#0013dd"/><stop offset="0.7594" stop-color="#002fdd"/><stop offset="0.7612" stop-color="#005ddd"/><stop offset="0.7818" stop-color="#005ddd"/><stop offset="0.7856" stop-color="#0013dd"/><stop offset="0.7912" stop-color="#0013dd"/><stop offset="0.7931" stop-color="#0098dd"/><stop offset="0.7949" stop-color="#0098dd"/><stop offset="0.7968" stop-color="#0070dd"/><stop offset="0.7987" stop-color="#002fdd"/><stop offset="0.8006" stop-color="#0080dd"/><stop offset="0.8024" stop-color="#0092dd"/><stop offset="0.8043" stop-color="#007ddd"/><stop offset="0.8062" stop-color="#0013dd"/><stop offset="0.8212" stop-color="#0013dd"/><stop offset="0.8230" stop-color="#007ddd"/><stop offset="0.8249" stop-color="#0085dd"/><stop offset="0.8268" stop-color="#0013dd"/><stop offset="0.8287" stop-color="#0000dd"/><stop offset="0.8755" stop-color="#0000cd"/><stop offset="0.8942" stop-color="#0000bd"/><stop offset="0.8998" stop-color="#0000ad"/><stop offset="0.9036" stop-color="#2300a6"/><stop offset="0.9054" stop-color="#2d00a4"/><stop offset="0.9092" stop-color="#58009f"/><stop offset="0.9110" stop-color="#63009e"/><stop offset="0.9129" stop-color="#78009b"/><stop offset="0.9148" stop-color="#83009a"/><stop offset="0.9260" stop-color="#850096"/><stop offset="0.9485" stop-color="#770088"/><stop offset="0.9541" stop-color="#5d006b"/><stop offset="0.9560" stop-color="#5d006b"/><stop offset="0.9579" stop-color="#540060"/><stop offset="0.9597" stop-color="#540060"/><stop offset="0.9616" stop-color="#4b0055"/><stop offset="0.9654" stop-color="#4b0055"/><stop offset="0.9672" stop-color="#41004b"/><stop offset="0.9691" stop-color="#41004b"/><stop offset="0.9710" stop-color="#380040"/><stop offset="0.9766" stop-color="#380040"/><stop offset="0.9785" stop-color="#2f0035"/><stop offset="0.9841" stop-color="#2f0035"/><stop offset="0.9860" stop-color="#25002b"/><stop offset="0.9916" stop-color="#25002b"/><stop offset="0.9934" stop-color="#1c0020"/><stop offset="0.9991" stop-color="#1c0020"/></linearGradient>
<linearGradient id="r1"><stop offset="0.0009" stop-color="#00ff00"/><stop offset="0.0028" stop-color="#00ff00"/><stop offset="0.0047" stop-color="#870098"/><stop offset="0.0066" stop-color="#870098"/><stop offset="0.0084" stop-color="#700080"/><stop offset="0.0684" stop-color="#700080"/><stop offset="0.0702" stop-color="#770088"/><stop offset="0.1601" stop-color="#7e008f"/><stop offset="0.1882" stop-color="#870098"/><stop offset="0.1901" stop-color="#870098"/><stop offset="0.1919" stop-color="#2d00a4"/><stop offset="0.1938" stop-color="#0000b1"/><stop offset="0.1976" stop-color="#0000d1"/><stop offset="0.1994" stop-color="#0009dd"/><stop offset="0.2013" stop-color="#002fdd"/><stop offset="0.2032" stop-color="#005ddd"/><stop offset="0.2051" stop-color="#007ddd"/><stop offset="0.2107" stop-color="#0095dd"/><stop offset="0.2238" stop-color="#00a6b7"/><stop offset="0.2275" stop-color="#00aa8d"/><stop offset="0.2313" stop-color="#009c00"/><stop offset="0.2331" stop-color="#00aa00"/><stop offset="0.2463" stop-color="#00ba00"/><stop offset="0.2800" stop-color="#00cf00"/><stop offset="0.3193" stop-color="#00ff00"/><stop offset="0.3212" stop-color="#0fff00"/><stop offset="0.3230" stop-color="#0fff00"/><stop offset="0.3249" stop-color="#1dff00"/><stop offset="0.3343" stop-color="#1dff00"/><stop offset="0.3361" stop-color="#2cff00"/><stop offset="0.3474" stop-color="#2cff00"/><stop offset="0.3493" stop-color="#1dff00"/><stop offset="0.3530" stop-color="#1dff00"/><stop offset="0.3549" stop-color="#0fff00"/><stop offset="0.3605" stop-color="#0fff00"/><stop offset="0.3624" stop-color="#00ff00"/><stop offset="0.3867" stop-color="#00ff00"/><stop offset="0.3886" stop-color="#0fff00"/><stop offset="0.3923" stop-color="#0fff00"/><stop offset="0.3942" stop-color="#1dff00"/><stop offset="0.3961" stop-color="#1dff00"/><stop offset="0.3979" stop-color="#2cff00"/><stop offset="0.4167" stop-color="#2cff00"/><stop offset="0.4185" stop-color="#ffa100"/><stop offset="0.4204" stop-color="#d60000"/><stop offset="0.4279" stop-color="#d60000"/><stop offset="0.4298" stop-color="#dcf400"/><stop offset="0.4316" stop-color="#00ff00"/><stop offset="0.5365" stop-color="#00f400"/><stop offset="0.5665" stop-color="#00e700"/><stop offset="0.6077" stop-color="#00ac00"/><stop offset="0.6189" stop-color="#009a00"/><stop offset="0.6227" stop-color="#009b13"/><stop offset="0.6320" stop-color="#00a97d"/><stop offset="0.6358" stop-color="#00aa90"/><stop offset="0.6545" stop-color="#00a4bb"/><stop offset="0.6620" stop-color="#009ecf"/><stop offset="0.6770" stop-color="#0095dd"/><stop offset="0.7069" stop-color="#0078dd"/><stop offset="0.7219" stop-color="#002fdd"/><stop offset="0.7238" stop-color="#002fdd"/><stop offset="0.7257" stop-color="#0025dd"/><stop offset="0.7275" stop-color="#0025dd"/><stop offset="0.7294" stop-color="#001cdd"/><stop offset="0.7313" stop-color="#001cdd"/><stop offset="0.7350" stop-color="#0009dd"/><stop offset="0.7369" stop-color="#0009dd"/><stop offset="0.7388" stop-color="#0000dd"/><stop offset="0.7406" stop-color="#0000dd"/><stop offset="0.7425" stop-color="#0009dd"/><stop offset="0.7444" stop-color="#0080dd"/><stop offset="0.7463" stop-color="#0092dd"/><stop offset="0.7500" stop-color="#0092dd"/><stop offset="0.7519" stop-color="#0067dd"/><stop offset="0.7537" stop-color="#0013dd"/><stop offset="0.7575" stop-color="#0013dd"/><stop offset="0.7594" stop-color="#002fdd"/><stop offset="0.7612" stop-color="#005ddd"/><stop offset="0.7818" stop-color="#005ddd"/><stop offset="0.7856" stop-color="#0013dd"/><stop offset="0.7912" stop-color="#0013dd"/><stop offset="0.7931" stop-color="#0098dd"/><stop offset="0.7949" stop-color="#0098dd"/><stop offset="0.7968" stop-color="#0070dd"/><stop offset="0.7987" stop-color="#002fdd"/><stop offset="0.8006" stop-color="#0080dd"/><stop offset="0.8024" stop-color="#0092dd"/><stop offset="0.8043" stop-color="#007ddd"/><stop offset="0.8062" stop-color="#0013dd"/><stop offset="0.8212" stop-color="#0013dd"/><stop offset="0.8230" stop-color="#007ddd"/><stop offset="0.8249" stop-color="#0085dd"/><stop offset="0.8268" stop-color="#0013dd"/><stop offset="0.8287" stop-color="#0000dd"/><stop offset="0.8530" stop-color="#0000d5"/><stop offset="0.8549" stop-color="#00a0c7"/><stop offset="0.8567" stop-color="#00bc00"/><stop offset="0.8642" stop-color="#00bc00"/><stop offset="0.8661" stop-color="#00aa00"/><stop offset="0.8680" stop-color="#0025dd"/><stop offset="0.8699" stop-color="#0000d1"/><stop offset="0.8942" stop-color="#0000bd"/><stop offset="0.8998" stop-color="#0000ad"/><stop offset="0.9036" stop-color="#2300a6"/><stop offset="0.9054" stop-color="#2d00a4"/><stop offset="0.9092" stop-color="#58009f"/><stop offset="0.9110" stop-color="#63009e"/><stop offset="0.9129" stop-color="#78009b"/><stop offset="0.9148" stop-color="#83009a"/><stop offset="0.9260" stop-color="#850096"/><stop offset="0.9485" stop-color="#770088"/><stop offset="0.9541" stop-color="#5d006b"/><stop offset="0.9560" stop-color="#5d006b"/><stop offset="0.9579" stop-color="#540060"/><stop offset="0.9597" stop-color="#540060"/><stop offset="0.9616" stop-color="#4b0055"/><stop offset="0.9654" stop-color="#4b0055"/><stop offset="0.9672" stop-color="#41004b"/><stop offset="0.9691" stop-color="#41004b"/><stop offset="0.9710" stop-color="#380040"/><stop offset="0.9766" stop-color="#380040"/><stop offset="0.9785" stop-color="#2f0035"/><stop offset="0.9841" stop-color="#2f0035"/><stop offset="0.9860" stop-color="#25002b"/><stop offset="0.9916" stop-color="#25002b"/><stop offset="0.9934" stop-color="#1c0020"/><stop offset="0.9991" stop-color="#1c0020"/></linearGradient>
<linearGradient id="r2"><stop offset="0.0009" stop-color="#0098dd"/><stop offset="0.0028" stop-color="#0098dd"/><stop offset="0.0047" stop-color="#870098"/><stop offset="0.0066" stop-color="#870098"/><stop offset="0.0084" stop-color="#2f0035"/><stop offset="0.0440" stop-color="#2f0035"/><stop offset="0.0459" stop-color="#25002b"/><stop offset="0.1938" stop-color="#25002b"/><stop offset="0.1957" stop-color="#2f0035"/><stop offset="0.2406" stop-color="#2f0035"/><stop offset="0.2425" stop-color="#380040"/><stop offset="0.2650" stop-color="#380040"/><stop offset="0.2669" stop-color="#41004b"/><stop offset="0.8343" stop-color="#41004b"/><stop offset="0.8361" stop-color="#380040"/><stop offset="0.8624" stop-color="#380040"/><stop offset="0.8642" stop-color="#2f0035"/><stop offset="0.8886" stop-color="#2f0035"/><stop offset="0.8904" stop-color="#25002b"/><stop offset="0.9073" stop-color="#25002b"/><stop offset="0.9092" stop-color="#1c0020"/><stop offset="0.9279" stop-color="#1c0020"/><stop offset="0.9298" stop-color="#130015"/><stop offset="0.9429" stop-color="#130015"/><stop offset="0.9448" stop-color="#09000b"/><stop offset="0.9579" stop-color="#09000b"/><stop offset="0.9597" stop-color="#000000"/><stop offset="0.9991" stop-color="#000000"/></linearGradient>
<linearGradient id="r3"><stop offset="0.0009" stop-color="#00ff00"/><stop offset="0.0028" stop-color="#00ff00"/><stop offset="0.0047" stop-color="#870098"/><stop offset="0.0066" stop-color="#870098"/><stop offset="0.0084" stop-color="#2f0035"/><stop offset="0.1526" stop-color="#2f0035"/><stop offset="0.1545" stop-color="#380040"/><stop offset="0.1657" stop-color="#380040"/><stop offset="0.1676" stop-color="#41004b"/><stop offset="0.1770" stop-color="#41004b"/><stop offset="0.1788" stop-color="#4b0055"/><stop offset="0.1826" stop-color="#4b0055"/><stop offset="0.1845" stop-color="#540060"/><stop offset="0.1882" stop-color="#540060"/><stop offset="0.1901" stop-color="#5d006b"/><stop offset="0.1919" stop-color="#5d006b"/><stop offset="0.1938" stop-color="#670075"/><stop offset="0.1957" stop-color="#670075"/><stop offset="0.1994" stop-color="#770088"/><stop offset="0.2219" stop-color="#870098"/><stop offset="0.2257" stop-color="#83009a"/><stop offset="0.2275" stop-color="#2d00a4"/><stop offset="0.2294" stop-color="#0000bd"/><stop offset="0.2350" stop-color="#0000d5"/><stop offset="0.2369" stop-color="#0000d9"/><stop offset="0.2406" stop-color="#0013dd"/><stop offset="0.2463" stop-color="#0013dd"/><stop offset="0.2481" stop-color="#001cdd"/><stop offset="0.2537" stop-color="#001cdd"/><stop offset="0.2556" stop-color="#0025dd"/><stop offset="0.2575" stop-color="#0025dd"/><stop offset="0.2594" stop-color="#002fdd"/><stop offset="0.2612" stop-color="#0041dd"/><stop offset="0.2631" stop-color="#004bdd"/><stop offset="0.2650" stop-color="#005ddd"/><stop offset="0.2687" stop-color="#0078dd"/><stop offset="0.2949" stop-color="#0090dd"/><stop offset="0.3174" stop-color="#009adb"/><stop offset="0.3624" stop-color="#00a3bf"/><stop offset="0.3811" stop-color="#00a8af"/><stop offset="0.3979" stop-color="#00aaa8"/><stop offset="0.4148" stop-color="#00aa9d"/><stop offset="0.4316" stop-color="#00aa9d"/><stop offset="0.4485" stop-color="#00aa90"/><stop offset="0.4691" stop-color="#00aa90"/><stop offset="0.4766" stop-color="#00aa88"/><stop offset="0.4785" stop-color="#00a97d"/><stop offset="0.4897" stop-color="#00a97d"/><stop offset="0.4916" stop-color="#00aa88"/><stop offset="0.5028" stop-color="#00aa88"/><stop offset="0.5066" stop-color="#00a773"/><stop offset="0.5084" stop-color="#00a773"/><stop offset="0.5103" stop-color="#00a668"/><stop offset="0.5140" stop-color="#00a668"/><stop offset="0.5159" stop-color="#00a55d"/><stop offset="0.5178" stop-color="#00a55d"/><stop offset="0.5197" stop-color="#00a668"/><stop offset="0.5234" stop-color="#00a668"/><stop offset="0.5290" stop-color="#00aa88"/><stop offset="0.5459" stop-color="#00aa93"/><stop offset="0.5665" stop-color="#00aaab"/><stop offset="0.5946" stop-color="#009adb"/><stop offset="0.6227" stop-color="#0078dd"/><stop offset="0.6451" stop-color="#0009dd"/><stop offset="0.6470" stop-color="#0009dd"/><stop offset="0.6489" stop-color="#0000dd"/><stop offset="0.6751" stop-color="#0000c9"/><stop offset="0.6994" stop-color="#0000b1"/><stop offset="0.7069" stop-color="#0300aa"/><stop offset="0.7107" stop-color="#1800a7"/><stop offset="0.7125" stop-color="#1800a7"/><stop offset="0.7163" stop-color="#2d00a4"/><stop offset="0.7182" stop-color="#2d00a4"/><stop offset="0.7257" stop-color="#58009f"/><stop offset="0.7275" stop-color="#58009f"/><stop offset="0.7331" stop-color="#78009b"/><stop offset="0.7350" stop-color="#78009b"/><stop offset="0.7369" stop-color="#83009a"/><stop offset="0.7406" stop-color="#870098"/><stop offset="0.7425" stop-color="#0013dd"/><stop offset="0.7444" stop-color="#009fcb"/><stop offset="0.7500" stop-color="#009fcb"/><stop offset="0.7519" stop-color="#0082dd"/><stop offset="0.7537" stop-color="#0000c9"/><stop offset="0.7575" stop-color="#0000c9"/><stop offset="0.7594" stop-color="#007ddd"/><stop offset="0.7631" stop-color="#0085dd"/><stop offset="0.7706" stop-color="#0085dd"/><stop offset="0.7725" stop-color="#0078dd"/><stop offset="0.7800" stop-color="#0078dd"/><stop offset="0.7818" stop-color="#0090dd"/><stop offset="0.7837" stop-color="#009cd3"/><stop offset="0.7912" stop-color="#009cd3"/><stop offset="0.7931" stop-color="#0000c9"/><stop offset="0.7949" stop-color="#0000c9"/><stop offset="0.7968" stop-color="#0000dd"/><stop offset="0.7987" stop-color="#00aaab"/><stop offset="0.8062" stop-color="#00aaab"/><stop offset="0.8081" stop-color="#009adb"/><stop offset="0.8099" stop-color="#002fdd"/><stop offset="0.8137" stop-color="#001cdd"/><stop offset="0.8155" stop-color="#001cdd"/><stop offset="0.8193" stop-color="#0009dd"/><stop offset="0.8212" stop-color="#0009dd"/><stop offset="0.8230" stop-color="#0000dd"/><stop offset="0.8249" stop-color="#0038dd"/><stop offset="0.8268" stop-color="#005ddd"/><stop offset="0.8287" stop-color="#0000ad"/><stop offset="0.8305" stop-color="#870098"/><stop offset="0.8549" stop-color="#860097"/><stop offset="0.8567" stop-color="#4d00a0"/><stop offset="0.8586" stop-color="#0000bd"/><stop offset="0.8605" stop-color="#0000bd"/><stop offset="0.8624" stop-color="#850096"/><stop offset="0.9092" stop-color="#770088"/><stop offset="0.9110" stop-color="#700080"/><stop offset="0.9129" stop-color="#700080"/><stop offset="0.9148" stop-color="#670075"/><stop offset="0.9167" stop-color="#670075"/><stop offset="0.9185" stop-color="#5d006b"/><stop offset="0.9204" stop-color="#5d006b"/><stop offset="0.9223" stop-color="#540060"/><stop offset="0.9242" stop-color="#540060"/><stop offset="0.9260" stop-color="#4b0055"/><stop offset="0.9298" stop-color="#4b0055"/><stop offset="0.9316" stop-color="#41004b"/><stop offset="0.9354" stop-color="#41004b"/><stop offset="0.9373" stop-color="#380040"/><stop offset="0.9410" stop-color="#380040"/><stop offset="0.9429" stop-color="#2f0035"/><stop offset="0.9466" stop-color="#2f0035"/><stop offset="0.9485" stop-color="#25002b"/><stop offset="0.9541" stop-color="#25002b"/><stop offset="0.9560" stop-color="#1c0020"/><stop offset="0.9616" stop-color="#1c0020"/><stop offset="0.9635" stop-color="#130015"/><stop offset="0.9691" stop-color="#130015"/><stop offset="0.9710" stop-color="#09000b"/><stop offset="0.9785" stop-color="#09000b"/><stop offset="0.9803" stop-color="#000000"/><stop offset="0.9991" stop-color="#000000"/></linearGradient>
<linearGradient id="r4"><stop offset="0.0009" stop-color="#00ff00"/><stop offset="0.0028" stop-color="#00ff00"/><stop offset="0.0047" stop-color="#870098"/><stop offset="0.0066" stop-color="#870098"/><stop offset="0.0084" stop-color="#2f0035"/><stop offset="0.1526" stop-color="#2f0035"/><stop offset="0.1545" stop-color="#380040"/><stop offset="0.1657" stop-color="#380040"/><stop offset="0.1676" stop-color="#41004b"/><stop offset="0.1770" stop-color="#41004b"/><stop offset="0.1788" stop-color="#4b0055"/><stop offset="0.1826" stop-color="#4b0055"/><stop offset="0.1845" stop-color="#540060"/><stop offset="0.1882" stop-color="#540060"/><stop offset="0.1901" stop-color="#5d006b"/><stop offset="0.1919" stop-color="#5d006b"/><stop offset="0.1938" stop-color="#670075"/><stop offset="0.1957" stop-color="#670075"/><stop offset="0.1994" stop-color="#770088"/><stop offset="0.2219" stop-color="#870098"/><stop offset="0.2257" stop-color="#83009a"/><stop offset="0.2275" stop-color="#2300a6"/><stop offset="0.2294" stop-color="#0000c1"/><stop offset="0.2369" stop-color="#0000dd"/><stop offset="0.2388" stop-color="#0013dd"/><stop offset="0.2406" stop-color="#001cdd"/><stop offset="0.2444" stop-color="#001cdd"/><stop offset="0.2463" stop-color="#0025dd"/><stop offset="0.2519" stop-color="#0025dd"/><stop offset="0.2537" stop-color="#002fdd"/><stop offset="0.2575" stop-color="#002fdd"/><stop offset="0.2594" stop-color="#0038dd"/><stop offset="0.2631" stop-color="#005ddd"/><stop offset="0.2669" stop-color="#0078dd"/><stop offset="0.2856" stop-color="#0090dd"/><stop offset="0.3043" stop-color="#009adb"/><stop offset="0.3193" stop-color="#009ecf"/><stop offset="0.3586" stop-color="#00a6b7"/><stop offset="0.3792" stop-color="#00aaa5"/><stop offset="0.3979" stop-color="#00aaa0"/><stop offset="0.4148" stop-color="#00aa95"/><stop offset="0.4316" stop-color="#00aa95"/><stop offset="0.4466" stop-color="#00aa88"/><stop offset="0.4485" stop-color="#00a97d"/><stop offset="0.4504" stop-color="#00aa88"/><stop offset="0.4672" stop-color="#00aa88"/><stop offset="0.4710" stop-color="#00a773"/><stop offset="0.4728" stop-color="#00a773"/><stop offset="0.4766" stop-color="#00a55d"/><stop offset="0.4785" stop-color="#00a55d"/><stop offset="0.4803" stop-color="#00a353"/><stop offset="0.4878" stop-color="#00a353"/><stop offset="0.4897" stop-color="#00a55d"/><stop offset="0.4934" stop-color="#00a55d"/><stop offset="0.4953" stop-color="#00a668"/><stop offset="0.4991" stop-color="#00a668"/><stop offset="0.5009" stop-color="#00a55d"/><stop offset="0.5047" stop-color="#00a55d"/><stop offset="0.5084" stop-color="#00a248"/><stop offset="0.5103" stop-color="#00a248"/><stop offset="0.5122" stop-color="#00a13d"/><stop offset="0.5215" stop-color="#00a13d"/><stop offset="0.5234" stop-color="#00a248"/><stop offset="0.5253" stop-color="#00a248"/><stop offset="0.5346" stop-color="#00a97d"/><stop offset="0.5365" stop-color="#00a97d"/><stop offset="0.5384" stop-color="#00aa88"/><stop offset="0.5552" stop-color="#00aa93"/><stop offset="0.5833" stop-color="#00a3bf"/><stop offset="0.6002" stop-color="#009adb"/><stop offset="0.6264" stop-color="#0078dd"/><stop offset="0.6339" stop-color="#0054dd"/><stop offset="0.6358" stop-color="#0041dd"/><stop offset="0.6451" stop-color="#0013dd"/><stop offset="0.6489" stop-color="#0013dd"/><stop offset="0.6507" stop-color="#0009dd"/><stop offset="0.6526" stop-color="#0009dd"/><stop offset="0.6545" stop-color="#0000dd"/><stop offset="0.6957" stop-color="#0000b9"/><stop offset="0.7069" stop-color="#0300aa"/><stop offset="0.7088" stop-color="#0d00a8"/><stop offset="0.7107" stop-color="#0d00a8"/><stop offset="0.7144" stop-color="#2300a6"/><stop offset="0.7163" stop-color="#2300a6"/><stop offset="0.7238" stop-color="#4d00a0"/><stop offset="0.7257" stop-color="#4d00a0"/><stop offset="0.7313" stop-color="#6d009c"/><stop offset="0.7331" stop-color="#6d009c"/><stop offset="0.7369" stop-color="#83009a"/><stop offset="0.7406" stop-color="#870098"/><stop offset="0.7425" stop-color="#0013dd"/><stop offset="0.7444" stop-color="#009fcb"/><stop offset="0.7500" stop-color="#009fcb"/><stop offset="0.7519" stop-color="#0082dd"/><stop offset="0.7537" stop-color="#0000c9"/><stop offset="0.7575" stop-color="#0000c9"/><stop offset="0.7594" stop-color="#007ddd"/><stop offset="0.7631" stop-color="#0085dd"/><stop offset="0.7706" stop-color="#0085dd"/><stop offset="0.7725" stop-color="#0078dd"/><stop offset="0.7800" stop-color="#0078dd"/><stop offset="0.7818" stop-color="#0090dd"/><stop offset="0.7837" stop-color="#009cd3"/><stop offset="0.7912" stop-color="#009cd3"/><stop offset="0.7931" stop-color="#0000c9"/><stop offset="0.7949" stop-color="#0000c9"/><stop offset="0.7968" stop-color="#0000dd"/><stop offset="0.7987" stop-color="#00aaab"/><stop offset="0.8062" stop-color="#00aaab"/><stop offset="0.8081" stop-color="#009adb"/><stop offset="0.8099" stop-color="#002fdd"/><stop offset="0.8137" stop-color="#001cdd"/><stop offset="0.8155" stop-color="#001cdd"/><stop offset="0.8193" stop-color="#0009dd"/><stop offset="0.8212" stop-color="#0009dd"/><stop offset="0.8230" stop-color="#0000dd"/><stop offset="0.8249" stop-color="#0038dd"/><stop offset="0.8268" stop-color="#005ddd"/><stop offset="0.8287" stop-color="#0000ad"/><stop offset="0.8305" stop-color="#870098"/><stop offset="0.8904" stop-color="#7f0090"/><stop offset="0.9092" stop-color="#770088"/><stop offset="0.9110" stop-color="#700080"/><stop offset="0.9129" stop-color="#700080"/><stop offset="0.9148" stop-color="#670075"/><stop offset="0.9167" stop-color="#670075"/><stop offset="0.9185" stop-color="#5d006b"/><stop offset="0.9204" stop-color="#5d006b"/><stop offset="0.9223" stop-color="#540060"/><stop offset="0.9242" stop-color="#540060"/><stop offset="0.9260" stop-color="#4b0055"/><stop offset="0.9298" stop-color="#4b0055"/><stop offset="0.9316" stop-color="#41004b"/><stop offset="0.9354" stop-color="#41004b"/><stop offset="0.9373" stop-color="#380040"/><stop offset="0.9410" stop-color="#380040"/><stop offset="0.9429" stop-color="#2f0035"/><stop offset="0.9466" stop-color="#2f0035"/><stop offset="0.9485" stop-color="#25002b"/><stop offset="0.9541" stop-color="#25002b"/><stop offset="0.9560" stop-color="#1c0020"/><stop offset="0.9616" stop-color="#1c0020"/><stop offset="0.9635" stop-color="#130015"/><stop offset="0.9691" stop-color="#130015"/><stop offset="0.9710" stop-color="#09000b"/><stop offset="0.9785" stop-color="#09000b"/><stop offset="0.9803" stop-color="#000000"/><stop offset="0.9991" stop-color="#000000"/></linearGradient>
<linearGradient id="r5"><stop offset="0.0009" stop-color="#00aa9d"/><stop offset="0.0028" stop-color="#00aa9d"/><stop offset="0.0047" stop-color="#870098"/><stop offset="0.0066" stop-color="#870098"/><stop offset="0.0084" stop-color="#2f0035"/><stop offset="0.1526" stop-color="#2f0035"/><stop offset="0.1545" stop-color="#380040"/><stop offset="0.1657" stop-color="#380040"/><stop offset="0.1676" stop-color="#41004b"/><stop offset="0.1770" stop-color="#41004b"/><stop offset="0.1788" stop-color="#4b0055"/><stop offset="0.1826" stop-color="#4b0055"/><stop offset="0.1845" stop-color="#540060"/><stop offset="0.1882" stop-color="#540060"/><stop offset="0.1901" stop-color="#5d006b"/><stop offset="0.1919" stop-color="#5d006b"/><stop offset="0.1938" stop-color="#670075"/><stop offset="0.1957" stop-color="#670075"/><stop offset="0.1994" stop-color="#770088"/><stop offset="0.2219" stop-color="#870098"/><stop offset="0.2257" stop-color="#83009a"/><stop offset="0.2275" stop-color="#2d00a4"/><stop offset="0.2294" stop-color="#0000bd"/><stop offset="0.2406" stop-color="#0000dd"/><stop offset="0.2425" stop-color="#0009dd"/><stop offset="0.2481" stop-color="#0009dd"/><stop offset="0.2500" stop-color="#0013dd"/><stop offset="0.2556" stop-color="#0013dd"/><stop offset="0.2612" stop-color="#002fdd"/><stop offset="0.2631" stop-color="#0041dd"/><stop offset="0.2650" stop-color="#004bdd"/><stop offset="0.2669" stop-color="#005ddd"/><stop offset="0.2725" stop-color="#0078dd"/><stop offset="0.3062" stop-color="#0090dd"/><stop offset="0.3343" stop-color="#009adb"/><stop offset="0.3642" stop-color="#00a0c7"/><stop offset="0.3811" stop-color="#00a4bb"/><stop offset="0.3961" stop-color="#00a6b7"/><stop offset="0.4092" stop-color="#00aaa8"/><stop offset="0.4316" stop-color="#00aaa5"/><stop offset="0.4485" stop-color="#00aa98"/><stop offset="0.4691" stop-color="#00aa98"/><stop offset="0.4860" stop-color="#00aa8d"/><stop offset="0.5028" stop-color="#00aa90"/><stop offset="0.5197" stop-color="#00aa88"/><stop offset="0.5421" stop-color="#00aa9b"/><stop offset="0.5590" stop-color="#00aaa8"/><stop offset="0.5890" stop-color="#009adb"/><stop offset="0.6189" stop-color="#0078dd"/><stop offset="0.6283" stop-color="#004bdd"/><stop offset="0.6301" stop-color="#004bdd"/><stop offset="0.6451" stop-color="#0000dd"/><stop offset="0.6976" stop-color="#0000b1"/><stop offset="0.7051" stop-color="#0300aa"/><stop offset="0.7088" stop-color="#1800a7"/><stop offset="0.7107" stop-color="#1800a7"/><stop offset="0.7125" stop-color="#2300a6"/><stop offset="0.7144" stop-color="#2300a6"/><stop offset="0.7182" stop-color="#3800a3"/><stop offset="0.7200" stop-color="#3800a3"/><stop offset="0.7275" stop-color="#63009e"/><stop offset="0.7294" stop-color="#63009e"/><stop offset="0.7331" stop-color="#78009b"/><stop offset="0.7350" stop-color="#78009b"/><stop offset="0.7369" stop-color="#83009a"/><stop offset="0.7406" stop-color="#870098"/><stop offset="0.7425" stop-color="#0013dd"/><stop offset="0.7444" stop-color="#009fcb"/><stop offset="0.7500" stop-color="#009fcb"/><stop offset="0.7519" stop-color="#0082dd"/><stop offset="0.7537" stop-color="#0000c9"/><stop offset="0.7575" stop-color="#0000c9"/><stop offset="0.7594" stop-color="#007ddd"/><stop offset="0.7631" stop-color="#0085dd"/><stop offset="0.7706" stop-color="#0085dd"/><stop offset="0.7725" stop-color="#0078dd"/><stop offset="0.7800" stop-color="#0078dd"/><stop offset="0.7818" stop-color="#0090dd"/><stop offset="0.7837" stop-color="#009cd3"/><stop offset="0.7912" stop-color="#009cd3"/><stop offset="0.7931" stop-color="#0000c9"/><stop offset="0.7949" stop-color="#0000c9"/><stop offset="0.7968" stop-color="#0000dd"/><stop offset="0.7987" stop-color="#00aaab"/><stop offset="0.8062" stop-color="#00aaab"/><stop offset="0.8081" stop-color="#009adb"/><stop offset="0.8099" stop-color="#002fdd"/><stop offset="0.8137" stop-color="#001cdd"/><stop offset="0.8155" stop-color="#001cdd"/><stop offset="0.8193" stop-color="#0009dd"/><stop offset="0.8212" stop-color="#0009dd"/><stop offset="0.8230" stop-color="#0000dd"/><stop offset="0.8249" stop-color="#0038dd"/><stop offset="0.8268" stop-color="#005ddd"/><stop offset="0.8287" stop-color="#0000ad"/><stop offset="0.8305" stop-color="#870098"/><stop offset="0.8904" stop-color="#7f0090"/><stop offset="0.9092" stop-color="#770088"/><stop offset="0.9110" stop-color="#700080"/><stop offset="0.9129" stop-color="#700080"/><stop offset="0.9148" stop-color="#670075"/><stop offset="0.9167" stop-color="#670075"/><stop offset="0.9185" stop-color="#5d006b"/><stop offset="0.9204" stop-color="#5d006b"/><stop offset="0.9223" stop-color="#540060"/><stop offset="0.9242" stop-color="#540060"/><stop offset="0.9260" stop-color="#4b0055"/><stop offset="0.9298" stop-color="#4b0055"/><stop offset="0.9316" stop-color="#41004b"/><stop offset="0.9354" stop-color="#41004b"/><stop offset="0.9373" stop-color="#380040"/><stop offset="0.9410" stop-color="#380040"/><stop offset="0.9429" stop-color="#2f0035"/><stop offset="0.9466" stop-color="#2f0035"/><stop offset="0.9485" stop-color="#25002b"/><stop offset="0.9541" stop-color="#25002b"/><stop offset="0.9560" stop-color="#1c0020"/><stop offset="0.9616" stop-color="#1c0020"/><stop offset="0.9635" stop-color="#130015"/><stop offset="0.9691" stop-color="#130015"/><stop offset="0.9710" stop-color="#09000b"/><stop offset="0.9785" stop-color="#09000b"/><stop offset="0.9803" stop-color="#000000"/><stop offset="0.9991" stop-color="#000000"/></linearGradient>
<linearGradient id="r6"><stop offset="0.0009" stop-color="#00ff00"/><stop offset="0.0028" stop-color="#00ff00"/><stop offset="0.0047" stop-color="#870098"/><stop offset="0.0066" stop-color="#870098"/><stop offset="0.0084" stop-color="#2f0035"/><stop offset="0.0627" stop-color="#2f0035"/><stop offset="0.0646" stop-color="#25002b"/><stop offset="0.1564" stop-color="#25002b"/><stop offset="0.1582" stop-color="#2f0035"/><stop offset="0.1713" stop-color="#2f0035"/><stop offset="0.1732" stop-color="#380040"/><stop offset="0.1807" stop-color="#380040"/><stop offset="0.1826" stop-color="#41004b"/><stop offset="0.1882" stop-color="#41004b"/><stop offset="0.1901" stop-color="#4b0055"/><stop offset="0.1938" stop-color="#4b0055"/><stop offset="0.1957" stop-color="#670075"/><stop offset="0.1994" stop-color="#770088"/><stop offset="0.2219" stop-color="#870098"/><stop offset="0.2257" stop-color="#83009a"/><stop offset="0.2275" stop-color="#2d00a4"/><stop offset="0.2294" stop-color="#0000b9"/><stop offset="0.2388" stop-color="#0000d9"/><stop offset="0.2481" stop-color="#0000dd"/><stop offset="0.2500" stop-color="#0009dd"/><stop offset="0.2556" stop-color="#0009dd"/><stop offset="0.2575" stop-color="#0013dd"/><stop offset="0.2594" stop-color="#0013dd"/><stop offset="0.2612" stop-color="#0025dd"/><stop offset="0.2631" stop-color="#002fdd"/><stop offset="0.2650" stop-color="#0041dd"/><stop offset="0.2669" stop-color="#004bdd"/><stop offset="0.2687" stop-color="#005ddd"/><stop offset="0.2706" stop-color="#0067dd"/><stop offset="0.2725" stop-color="#0067dd"/><stop offset="0.2762" stop-color="#0078dd"/><stop offset="0.3230" stop-color="#0092dd"/><stop offset="0.3493" stop-color="#009adb"/><stop offset="0.3830" stop-color="#00a2c3"/><stop offset="0.3961" stop-color="#00a3bf"/><stop offset="0.4129" stop-color="#00a8af"/><stop offset="0.4316" stop-color="#00a8af"/><stop offset="0.4466" stop-color="#00aaa0"/><stop offset="0.4691" stop-color="#00aaa0"/><stop offset="0.4860" stop-color="#00aa95"/><stop offset="0.5047" stop-color="#00aa98"/><stop offset="0.5178" stop-color="#00aa90"/><stop offset="0.5459" stop-color="#00aaa3"/><stop offset="0.5571" stop-color="#00a8af"/><stop offset="0.5833" stop-color="#009adb"/><stop offset="0.6152" stop-color="#0078dd"/><stop offset="0.6189" stop-color="#0067dd"/><stop offset="0.6208" stop-color="#0067dd"/><stop offset="0.6358" stop-color="#001cdd"/><stop offset="0.6376" stop-color="#001cdd"/><stop offset="0.6433" stop-color="#0000dd"/><stop offset="0.7032" stop-color="#0300aa"/><stop offset="0.7051" stop-color="#0d00a8"/><stop offset="0.7069" stop-color="#0d00a8"/><stop offset="0.7107" stop-color="#2300a6"/><stop offset="0.7125" stop-color="#2300a6"/><stop offset="0.7144" stop-color="#2d00a4"/><stop offset="0.7163" stop-color="#2d00a4"/><stop offset="0.7200" stop-color="#4300a2"/><stop offset="0.7219" stop-color="#4300a2"/><stop offset="0.7275" stop-color="#63009e"/><stop offset="0.7294" stop-color="#63009e"/><stop offset="0.7331" stop-color="#78009b"/><stop offset="0.7350" stop-color="#78009b"/><stop offset="0.7369" stop-color="#83009a"/><stop offset="0.7406" stop-color="#870098"/><stop offset="0.7425" stop-color="#0013dd"/><stop offset="0.7444" stop-color="#009fcb"/><stop offset="0.7500" stop-color="#009fcb"/><stop offset="0.7519" stop-color="#0082dd"/><stop offset="0.7537" stop-color="#0000c9"/><stop offset="0.7575" stop-color="#0000c9"/><stop offset="0.7594" stop-color="#007ddd"/><stop offset="0.7631" stop-color="#0085dd"/><stop offset="0.7706" stop-color="#0085dd"/><stop offset="0.7725" stop-color="#0078dd"/><stop offset="0.7800" stop-color="#0078dd"/><stop offset="0.7818" stop-color="#0090dd"/><stop offset="0.7837" stop-color="#009cd3"/><stop offset="0.7912" stop-color="#009cd3"/><stop offset="0.7931" stop-color="#0000c9"/><stop offset="0.7949" stop-color="#0000c9"/><stop offset="0.7968" stop-color="#0000dd"/><stop offset="0.7987" stop-color="#00aaab"/><stop offset="0.8062" stop-color="#00aaab"/><stop offset="0.8081" stop-color="#009adb"/><stop offset="0.8099" stop-color="#002fdd"/><stop offset="0.8137" stop-color="#001cdd"/><stop offset="0.8155" stop-color="#001cdd"/><stop offset="0.8193" stop-color="#0009dd"/><stop offset="0.8212" stop-color="#0009dd"/><stop offset="0.8230" stop-color="#0000dd"/><stop offset="0.8249" stop-color="#0038dd"/><stop offset="0.8268" stop-color="#005ddd"/><stop offset="0.8287" stop-color="#0000ad"/><stop offset="0.8305" stop-color="#870098"/><stop offset="0.8904" stop-color="#7f0090"/><stop offset="0.9092" stop-color="#770088"/><stop offset="0.9110" stop-color="#700080"/><stop offset="0.9129" stop-color="#700080"/><stop offset="0.9148" stop-color="#670075"/><stop offset="0.9167" stop-color="#670075"/><stop offset="0.9185" stop-color="#5d006b"/><stop offset="0.9204" stop-color="#5d006b"/><stop offset="0.9223" stop-color="#540060"/><stop offset="0.9242" stop-color="#540060"/><stop offset="0.9260" stop-color="#4b0055"/><stop offset="0.9298" stop-color="#4b0055"/><stop offset="0.9316" stop-color="#41004b"/><stop offset="0.9354" stop-color="#41004b"/><stop offset="0.9373" stop-color="#380040"/><stop offset="0.9410" stop-color="#380040"/><stop offset="0.9429" stop-color="#2f0035"/><stop offset="0.9466" stop-color="#2f0035"/><stop offset="0.9485" stop-color="#25002b"/><stop offset="0.9541" stop-color="#25002b"/><stop offset="0.9560" stop-color="#1c0020"/><stop offset="0.9616" stop-color="#1c0020"/><stop offset="0.9635" stop-color="#130015"/><stop offset="0.9691" stop-color="#130015"/><stop offset="0.9710" stop-color="#09000b"/><stop offset="0.9785" stop-color="#09000b"/><stop offset="0.9803" stop-color="#000000"/><stop offset="0.9991" stop-color="#000000"/></linearGradient>
<linearGradient id="r7"><stop offset="0.0009" stop-color="#00ff00"/><stop offset="0.0028" stop-color="#00ff00"/><stop offset="0.0047" stop-color="#870098"/><stop offset="0.0066" stop-color="#870098"/><stop offset="0.0084" stop-color="#2f0035"/><stop offset="0.1526" stop-color="#2f0035"/><stop offset="0.1545" stop-color="#380040"/><stop offset="0.1657" stop-color="#380040"/><stop offset="0.1676" stop-color="#41004b"/><stop offset="0.1770" stop-color="#41004b"/><stop offset="0.1788" stop-color="#4b0055"/><stop offset="0.1826" stop-color="#4b0055"/><stop offset="0.1845" stop-color="#540060"/><stop offset="0.1882" stop-color="#540060"/><stop offset="0.1901" stop-color="#5d006b"/><stop offset="0.1919" stop-color="#5d006b"/><stop offset="0.1938" stop-color="#670075"/><stop offset="0.1957" stop-color="#670075"/><stop offset="0.1994" stop-color="#770088"/><stop offset="0.2219" stop-color="#870098"/><stop offset="0.2257" stop-color="#83009a"/><stop offset="0.2275" stop-color="#2300a6"/><stop offset="0.2294" stop-color="#0000c1"/><stop offset="0.2369" stop-color="#0000dd"/><stop offset="0.2388" stop-color="#0013dd"/><stop offset="0.2406" stop-color="#001cdd"/><stop offset="0.2444" stop-color="#001cdd"/><stop offset="0.2463" stop-color="#0025dd"/><stop offset="0.2519" stop-color="#0025dd"/><stop offset="0.2537" stop-color="#002fdd"/><stop offset="0.2575" stop-color="#002fdd"/><stop offset="0.2594" stop-color="#0038dd"/><stop offset="0.2631" stop-color="#005ddd"/><stop offset="0.2669" stop-color="#0078dd"/><stop offset="0.2856" stop-color="#0090dd"/><stop offset="0.3043" stop-color="#009adb"/><stop offset="0.3193" stop-color="#009ecf"/><stop offset="0.3586" stop-color="#00a6b7"/><stop offset="0.3792" stop-color="#00aaa5"/><stop offset="0.3979" stop-color="#00aaa0"/><stop offset="0.4148" stop-color="#00aa95"/><stop offset="0.4316" stop-color="#00aa95"/><stop offset="0.4466" stop-color="#00aa88"/><stop offset="0.4485" stop-color="#00a97d"/><stop offset="0.4504" stop-color="#00aa88"/><stop offset="0.4672" stop-color="#00aa88"/><stop offset="0.4710" stop-color="#00a773"/><stop offset="0.4728" stop-color="#00a773"/><stop offset="0.4766" stop-color="#00a55d"/><stop offset="0.4785" stop-color="#00a55d"/><stop offset="0.4803" stop-color="#00a353"/><stop offset="0.4878" stop-color="#00a353"/><stop offset="0.4897" stop-color="#00a55d"/><stop offset="0.4934" stop-color="#00a55d"/><stop offset="0.4953" stop-color="#00a668"/><stop offset="0.4991" stop-color="#00a668"/><stop offset="0.5009" stop-color="#00a55d"/><stop offset="0.5047" stop-color="#00a55d"/><stop offset="0.5084" stop-color="#00a248"/><stop offset="0.5103" stop-color="#00a248"/><stop offset="0.5122" stop-color="#00a13d"/><stop offset="0.5215" stop-color="#00a13d"/><stop offset="0.5234" stop-color="#00a248"/><stop offset="0.5253" stop-color="#00a248"/><stop offset="0.5346" stop-color="#00a97d"/><stop offset="0.5365" stop-color="#00a97d"/><stop offset="0.5384" stop-color="#00aa88"/><stop offset="0.5552" stop-color="#00aa93"/><stop offset="0.5833" stop-color="#00a3bf"/><stop offset="0.6002" stop-color="#009adb"/><stop offset="0.6264" stop-color="#0078dd"/><stop offset="0.6339" stop-color="#0054dd"/><stop offset="0.6358" stop-color="#0041dd"/><stop offset="0.6451" stop-color="#0013dd"/><stop offset="0.6489" stop-color="#0013dd"/><stop offset="0.6507" stop-color="#0009dd"/><stop offset="0.6526" stop-color="#0009dd"/><stop offset="0.6545" stop-color="#0000dd"/><stop offset="0.6957" stop-color="#0000b9"/><stop offset="0.7069" stop-color="#0300aa"/><stop offset="0.7088" stop-color="#0d00a8"/><stop offset="0.7107" stop-color="#0d00a8"/><stop offset="0.7144" stop-color="#2300a6"/><stop offset="0.7163" stop-color="#2300a6"/><stop offset="0.7238" stop-color="#4d00a0"/><stop offset="0.7257" stop-color="#4d00a0"/><stop offset="0.7313" stop-color="#6d009c"/><stop offset="0.7331" stop-color="#6d009c"/><stop offset="0.7369" stop-color="#83009a"/><stop offset="0.7406" stop-color="#870098"/><stop offset="0.7425" stop-color="#0013dd"/><stop offset="0.7444" stop-color="#009fcb"/><stop offset="0.7500" stop-color="#009fcb"/><stop offset="0.7519" stop-color="#0082dd"/><stop offset="0.7537" stop-color="#0000c9"/><stop offset="0.7575" stop-color="#0000c9"/><stop offset="0.7594" stop-color="#007ddd"/><stop offset="0.7631" stop-color="#0085dd"/><stop offset="0.7706" stop-color="#0085dd"/><stop offset="0.7725" stop-color="#0078dd"/><stop offset="0.7800" stop-color="#0078dd"/><stop offset="0.7818" stop-color="#0090dd"/><stop offset="0.7837" stop-color="#009cd3"/><stop offset="0.7912" stop-color="#009cd3"/><stop offset="0.7931" stop-color="#0000c9"/><stop offset="0.7949" stop-color="#0000c9"/><stop offset="0.7968" stop-color="#0000dd"/><stop offset="0.7987" stop-color="#00aaab"/><stop offset="0.8062" stop-color="#00aaab"/><stop offset="0.8081" stop-color="#009adb"/><stop offset="0.8099" stop-color="#002fdd"/><stop offset="0.8137" stop-color="#001cdd"/><stop offset="0.8155" stop-color="#001cdd"/><stop offset="0.8193" stop-color="#0009dd"/><stop offset="0.8212" stop-color="#0009dd"/><stop offset="0.8230" stop-color="#0000dd"/><stop offset="0.8249" stop-color="#0038dd"/><stop offset="0.8268" stop-color="#005ddd"/><stop offset="0.8287" stop-color="#0000ad"/><stop offset="0.8305" stop-color="#870098"/><stop offset="0.8904" stop-color="#7f0090"/><stop offset="0.9092" stop-color="#770088"/><stop offset="0.9110" stop-color="#700080"/><stop offset="0.9129" stop-color="#700080"/><stop offset="0.9148" stop-color="#670075"/><stop offset="0.9167" stop-color="#670075"/><stop offset="0.9185" stop-color="#5d006b"/><stop offset="0.9204" stop-color="#5d006b"/><stop offset="0.9223" stop-color="#540060"/><stop offset="0.9242" stop-color="#540060"/><stop offset="0.9260" stop-color="#4b0055"/><stop offset="0.9298" stop-color="#4b0055"/><stop offset="0.9316" stop-color="#41004b"/><stop offset="0.9354" stop-color="#41004b"/><stop offset="0.9373" stop-color="#380040"/><stop offset="0.9410" stop-color="#380040"/><stop offset="0.9429" stop-color="#2f0035"/><stop offset="0.9466" stop-color="#2f0035"/><stop offset="0.9485" stop-color="#25002b"/><stop offset="0.9541" stop-color="#25002b"/><stop offset="0.9560" stop-color="#1c0020"/><stop offset="0.9616" stop-color="#1c0020"/><stop offset="0.9635" stop-color="#130015"/><stop offset="0.9691" stop-color="#130015"/><stop offset="0.9710" stop-color="#09000b"/><stop offset="0.9785" stop-color="#09000b"/><stop offset="0.9803" stop-color="#000000"/><stop offset="0.9991" stop-color="#000000"/></linearGradient>
<linearGradient id="r8"><stop offset="0.0009" stop-color="#00ff00"/><stop offset="0.0028" stop-color="#00ff00"/><stop offset="0.0047" stop-color="#870098"/><stop offset="0.0066" stop-color="#870098"/><stop offset="0.0084" stop-color="#2f0035"/><stop offset="0.1526" stop-color="#2f0035"/><stop offset="0.1545" stop-color="#380040"/><stop offset="0.1657" stop-color="#380040"/><stop offset="0.1676" stop-color="#41004b"/><stop offset="0.1770" stop-color="#41004b"/><stop offset="0.1788" stop-color="#4b0055"/><stop offset="0.1826" stop-color="#4b0055"/><stop offset="0.1845" stop-color="#540060"/><stop offset="0.1882" stop-color="#540060"/><stop offset="0.1901" stop-color="#5d006b"/><stop offset="0.1919" stop-color="#5d006b"/><stop offset="0.1938" stop-color="#670075"/><stop offset="0.1957" stop-color="#670075"/><stop offset="0.1994" stop-color="#770088"/><stop offset="0.2219" stop-color="#870098"/><stop offset="0.2257" stop-color="#83009a"/><stop offset="0.2275" stop-color="#2d00a4"/><stop offset="0.2294" stop-color="#0000bd"/><stop offset="0.2388" stop-color="#0000dd"/><stop offset="0.2406" stop-color="#0009dd"/><stop offset="0.2425" stop-color="#0009dd"/><stop offset="0.2444" stop-color="#0013dd"/><stop offset="0.2500" stop-color="#0013dd"/><stop offset="0.2519" stop-color="#001cdd"/><stop offset="0.2575" stop-color="#001cdd"/><stop offset="0.2594" stop-color="#0025dd"/><stop offset="0.2631" stop-color="#004bdd"/><stop offset="0.2650" stop-color="#0054dd"/><stop offset="0.2669" stop-color="#0067dd"/><stop offset="0.2725" stop-color="#007add"/><stop offset="0.3137" stop-color="#0098dd"/><stop offset="0.3380" stop-color="#009cd3"/><stop offset="0.3661" stop-color="#00a3bf"/><stop offset="0.3811" stop-color="#00a7b3"/><stop offset="0.3961" stop-color="#00a8af"/><stop offset="0.4110" stop-color="#00aaa3"/><stop offset="0.4316" stop-color="#00aaa0"/><stop offset="0.4485" stop-color="#00aa93"/><stop offset="0.4691" stop-color="#00aa93"/><stop offset="0.4860" stop-color="#00aa88"/><stop offset="0.5028" stop-color="#00aa8b"/><stop offset="0.5066" stop-color="#00aa88"/><stop offset="0.5084" stop-color="#00a97d"/><stop offset="0.5103" stop-color="#00a97d"/><stop offset="0.5122" stop-color="#00a773"/><stop offset="0.5215" stop-color="#00a773"/><stop offset="0.5253" stop-color="#00aa88"/><stop offset="0.5421" stop-color="#00aa95"/><stop offset="0.5590" stop-color="#00aaa3"/><stop offset="0.5927" stop-color="#0098dd"/><stop offset="0.6208" stop-color="#0078dd"/><stop offset="0.6433" stop-color="#0009dd"/><stop offset="0.6451" stop-color="#0009dd"/><stop offset="0.6470" stop-color="#0000dd"/><stop offset="0.6919" stop-color="#0000b9"/><stop offset="0.7051" stop-color="#0300aa"/><stop offset="0.7069" stop-color="#0d00a8"/><stop offset="0.7088" stop-color="#0d00a8"/><stop offset="0.7125" stop-color="#2300a6"/><stop offset="0.7144" stop-color="#2300a6"/><stop offset="0.7182" stop-color="#3800a3"/><stop offset="0.7200" stop-color="#3800a3"/><stop offset="0.7275" stop-color="#63009e"/><stop offset="0.7294" stop-color="#63009e"/><stop offset="0.7331" stop-color="#78009b"/><stop offset="0.7350" stop-color="#78009b"/><stop offset="0.7369" stop-color="#83009a"/><stop offset="0.7406" stop-color="#870098"/><stop offset="0.7425" stop-color="#0013dd"/><stop offset="0.7444" stop-color="#009fcb"/><stop offset="0.7500" stop-color="#009fcb"/><stop offset="0.7519" stop-color="#0082dd"/><stop offset="0.7537" stop-color="#0000c9"/><stop offset="0.7575" stop-color="#0000c9"/><stop offset="0.7594" stop-color="#007ddd"/><stop offset="0.7631" stop-color="#0085dd"/><stop offset="0.7706" stop-color="#0085dd"/><stop offset="0.7725" stop-color="#0078dd"/><stop offset="0.7800" stop-color="#0078dd"/><stop offset="0.7818" stop-color="#0090dd"/><stop offset="0.7837" stop-color="#009cd3"/><stop offset="0.7912" stop-color="#009cd3"/><stop offset="0.7931" stop-color="#0000c9"/><stop offset="0.7949" stop-color="#0000c9"/><stop offset="0.7968" stop-color="#0000dd"/><stop offset="0.7987" stop-color="#00aaab"/><stop offset="0.8062" stop-color="#00aaab"/><stop offset="0.8081" stop-color="#009adb"/><stop offset="0.8099" stop-color="#002fdd"/><stop offset="0.8137" stop-color="#001cdd"/><stop offset="0.8155" stop-color="#001cdd"/><stop offset="0.8193" stop-color="#0009dd"/><stop offset="0.8212" stop-color="#0009dd"/><stop offset="0.8230" stop-color="#0000dd"/><stop offset="0.8249" stop-color="#0038dd"/><stop offset="0.8268" stop-color="#005ddd"/><stop offset="0.8287" stop-color="#0000ad"/><stop offset="0.8305" stop-color="#870098"/><stop offset="0.8904" stop-color="#7f0090"/><stop offset="0.9092" stop-color="#770088"/><stop offset="0.9110" stop-color="#700080"/><stop offset="0.9129" stop-color="#700080"/><stop offset="0.9148" stop-color="#670075"/><stop offset="0.9167" stop-color="#670075"/><stop offset="0.9185" stop-color="#5d006b"/><stop offset="0.9204" stop-color="#5d006b"/><stop offset="0.9223" stop-color="#540060"/><stop offset="0.9242" stop-color="#540060"/><stop offset="0.9260" stop-color="#4b0055"/><stop offset="0.9298" stop-color="#4b0055"/><stop offset="0.9316" stop-color="#41004b"/><stop offset="0.9354" stop-color="#41004b"/><stop offset="0.9373" stop-color="#380040"/><stop offset="0.9410" stop-color="#380040"/><stop offset="0.9429" stop-color="#2f0035"/><stop offset="0.9466" stop-color="#2f0035"/><stop offset="0.9485" stop-color="#25002b"/><stop offset="0.9541" stop-color="#25002b"/><stop offset="0.9560" stop-color="#1c0020"/><stop offset="0.9616" stop-color="#1c0020"/><stop offset="0.9635" stop-color="#130015"/><stop offset="0.9691" stop-color="#130015"/><stop offset="0.9710" stop-color="#09000b"/><stop offset="0.9785" stop-color="#09000b"/><stop offset="0.9803" stop-color="#000000"/><stop offset="0.9991" stop-color="#000000"/></linearGradient>
<linearGradient id="r9"><stop offset="0.0009" stop-color="#00ff00"/><stop offset="0.0028" stop-color="#00ff00"/><stop offset="0.0047" stop-color="#870098"/><stop offset="0.0066" stop-color="#870098"/><stop offset="0.0084" stop-color="#2f0035"/><stop offset="0.0702" stop-color="#2f0035"/><stop offset="0.0721" stop-color="#25002b"/><stop offset="0.1114" stop-color="#25002b"/><stop offset="0.1133" stop-color="#2f0035"/><stop offset="0.1526" stop-color="#2f0035"/><stop offset="0.1545" stop-color="#380040"/><stop offset="0.1657" stop-color="#380040"/><stop offset="0.1676" stop-color="#41004b"/><stop offset="0.1770" stop-color="#41004b"/><stop offset="0.1788" stop-color="#4b0055"/><stop offset="0.1826" stop-color="#4b0055"/><stop offset="0.1845" stop-color="#540060"/><stop offset="0.1882" stop-color="#540060"/><stop offset="0.1901" stop-color="#5d006b"/><stop offset="0.1919" stop-color="#5d006b"/><stop offset="0.1938" stop-color="#670075"/><stop offset="0.1957" stop-color="#670075"/><stop offset="0.1994" stop-color="#770088"/><stop offset="0.2219" stop-color="#870098"/><stop offset="0.2257" stop-color="#83009a"/><stop offset="0.2275" stop-color="#2d00a4"/><stop offset="0.2294" stop-color="#0000bd"/><stop offset="0.2388" stop-color="#0000dd"/><stop offset="0.2406" stop-color="#0009dd"/><stop offset="0.2425" stop-color="#0009dd"/><stop offset="0.2444" stop-color="#0013dd"/><stop offset="0.2500" stop-color="#0013dd"/><stop offset="0.2519" stop-color="#001cdd"/><stop offset="0.2575" stop-color="#001cdd"/><stop offset="0.2594" stop-color="#0025dd"/><stop offset="0.2631" stop-color="#004bdd"/><stop offset="0.2650" stop-color="#0054dd"/><stop offset="0.2669" stop-color="#0067dd"/><stop offset="0.2725" stop-color="#007add"/><stop offset="0.3137" stop-color="#0098dd"/><stop offset="0.3380" stop-color="#009cd3"/><stop offset="0.3661" stop-color="#00a3bf"/><stop offset="0.3811" stop-color="#00a7b3"/><stop offset="0.3961" stop-color="#00a8af"/><stop offset="0.4110" stop-color="#00aaa3"/><stop offset="0.4316" stop-color="#00aaa0"/><stop offset="0.4485" stop-color="#00aa93"/><stop offset="0.4691" stop-color="#00aa93"/><stop offset="0.4860" stop-color="#00aa88"/><stop offset="0.5028" stop-color="#00aa8b"/><stop offset="0.5066" stop-color="#00aa88"/><stop offset="0.5084" stop-color="#00a97d"/><stop offset="0.5103" stop-color="#00a97d"/><stop offset="0.5122" stop-color="#00a773"/><stop offset="0.5215" stop-color="#00a773"/><stop offset="0.5253" stop-color="#00aa88"/><stop offset="0.5421" stop-color="#00aa95"/><stop offset="0.5590" stop-color="#00aaa3"/><stop offset="0.5927" stop-color="#0098dd"/><stop offset="0.6208" stop-color="#0078dd"/><stop offset="0.6433" stop-color="#0009dd"/><stop offset="0.6451" stop-color="#0009dd"/><stop offset="0.6470" stop-color="#0000dd"/><stop offset="0.6919" stop-color="#0000b9"/><stop offset="0.7051" stop-color="#0300aa"/><stop offset="0.7069" stop-color="#0d00a8"/><stop offset="0.7088" stop-color="#0d00a8"/><stop offset="0.7125" stop-color="#2300a6"/><stop offset="0.7144" stop-color="#2300a6"/><stop offset="0.7182" stop-color="#3800a3"/><stop offset="0.7200" stop-color="#3800a3"/><stop offset="0.7275" stop-color="#63009e"/><stop offset="0.7294" stop-color="#63009e"/><stop offset="0.7331" stop-color="#78009b"/><stop offset="0.7350" stop-color="#78009b"/><stop offset="0.7369" stop-color="#83009a"/><stop offset="0.7406" stop-color="#870098"/><stop offset="0.7425" stop-color="#0013dd"/><stop offset="0.7444" stop-color="#009fcb"/><stop offset="0.7500" stop-color="#009fcb"/><stop offset="0.7519" stop-color="#0082dd"/><stop offset="0.7537" stop-color="#0000c9"/><stop offset="0.7575" stop-color="#0000c9"/><stop offset="0.7594" stop-color="#007ddd"/><stop offset="0.7631" stop-color="#0085dd"/><stop offset="0.7706" stop-color="#0085dd"/><stop offset="0.7725" stop-color="#0078dd"/><stop offset="0.7800" stop-color="#0078dd"/><stop offset="0.7818" stop-color="#0090dd"/><stop offset="0.7837" stop-color="#009cd3"/><stop offset="0.7912" stop-color="#009cd3"/><stop offset="0.7931" stop-color="#0000c9"/><stop offset="0.7949" stop-color="#0000c9"/><stop offset="0.7968" stop-color="#0000dd"/><stop offset="0.7987" stop-color="#00aaab"/><stop offset="0.8062" stop-color="#00aaab"/><stop offset="0.8081" stop-color="#009adb"/><stop offset="0.8099" stop-color="#002fdd"/><stop offset="0.8137" stop-color="#001cdd"/><stop offset="0.8155" stop-color="#001cdd"/><stop offset="0.8193" stop-color="#0009dd"/><stop offset="0.8212" stop-color="#0009dd"/><stop offset="0.8230" stop-color="#0000dd"/><stop offset="0.8249" stop-color="#0038dd"/><stop offset="0.8268" stop-color="#005ddd"/><stop offset="0.8287" stop-color="#0000ad"/><stop offset="0.8305" stop-color="#870098"/><stop offset="0.8904" stop-color="#7f0090"/><stop offset="0.9092" stop-color="#770088"/><stop offset="0.9110" stop-color="#700080"/><stop offset="0.9129" stop-color="#700080"/><stop offset="0.9148" stop-color="#670075"/><stop offset="0.9167" stop-color="#670075"/><stop offset="0.9185" stop-color="#5d006b"/><stop offset="0.9204" stop-color="#5d006b"/><stop offset="0.9223" stop-color="#540060"/><stop offset="0.9242" stop-color="#540060"/><stop offset="0.9260" stop-color="#4b0055"/><stop offset="0.9298" stop-color="#4b0055"/><stop offset="0.9316" stop-color="#41004b"/><stop offset="0.9354" stop-color="#41004b"/><stop offset="0.9373" stop-color="#380040"/><stop offset="0.9410" stop-color="#380040"/><stop offset="0.9429" stop-color="#2f0035"/><stop offset="0.9466" stop-color="#2f0035"/><stop offset="0.9485" stop-color="#25002b"/><stop offset="0.9541" stop-color="#25002b"/><stop offset="0.9560" stop-color="#1c0020"/><stop offset="0.9616" stop-color="#1c0020"/><stop offset="0.9635" stop-color="#130015"/><stop offset="0.9691" stop-color="#130015"/><stop offset="0.9710" stop-color="#09000b"/><stop offset="0.9785" stop-color="#09000b"/><stop offset="0.9803" stop-color="#000000"/><stop offset="0.9991" stop-color="#000000"/></linearGradient>
<linearGradient id="r10"><stop offset="0.0009" stop-color="#00ff00"/><stop offset="0.0028" stop-color="#00ff00"/><stop offset="0.0047" stop-color="#870098"/><stop offset="0.0066" stop-color="#870098"/><stop offset="0.0084" stop-color="#2f0035"/><stop offset="0.0702" stop-color="#2f0035"/><stop offset="0.0721" stop-color="#25002b"/><stop offset="0.1114" stop-color="#25002b"/><stop offset="0.1133" stop-color="#2f0035"/><stop offset="0.1526" stop-color="#2f0035"/><stop offset="0.1545" stop-color="#380040"/><stop offset="0.1657" stop-color="#380040"/><stop offset="0.1676" stop-color="#41004b"/><stop offset="0.1770" stop-color="#41004b"/><stop offset="0.1788" stop-color="#4b0055"/><stop offset="0.1826" stop-color="#4b0055"/><stop offset="0.1845" stop-color="#540060"/><stop offset="0.1882" stop-color="#540060"/><stop offset="0.1901" stop-color="#5d006b"/><stop offset="0.1919" stop-color="#5d006b"/><stop offset="0.1938" stop-color="#670075"/><stop offset="0.1957" stop-color="#670075"/><stop offset="0.1994" stop-color="#770088"/><stop offset="0.2219" stop-color="#870098"/><stop offset="0.2257" stop-color="#83009a"/><stop offset="0.2275" stop-color="#2d00a4"/><stop offset="0.2294" stop-color="#0000bd"/><stop offset="0.2350" stop-color="#0000d5"/><stop offset="0.2369" stop-color="#0000d9"/><stop offset="0.2406" stop-color="#0013dd"/><stop offset="0.2444" stop-color="#0013dd"/><stop offset="0.2463" stop-color="#001cdd"/><stop offset="0.2519" stop-color="#001cdd"/><stop offset="0.2537" stop-color="#0025dd"/><stop offset="0.2575" stop-color="#0025dd"/><stop offset="0.2594" stop-color="#002fdd"/><stop offset="0.2612" stop-color="#0041dd"/><stop offset="0.2631" stop-color="#004bdd"/><stop offset="0.2669" stop-color="#0070dd"/><stop offset="0.2743" stop-color="#0080dd"/><stop offset="0.3099" stop-color="#009adb"/><stop offset="0.3605" stop-color="#00a3bf"/><stop offset="0.3773" stop-color="#00a8af"/><stop offset="0.3998" stop-color="#00aaa5"/><stop offset="0.4129" stop-color="#00aa9d"/><stop offset="0.4298" stop-color="#00aa9d"/><stop offset="0.4485" stop-color="#00aa8d"/><stop offset="0.4691" stop-color="#00aa8d"/><stop offset="0.4747" stop-color="#00aa88"/><stop offset="0.4766" stop-color="#00a97d"/><stop offset="0.4785" stop-color="#00a97d"/><stop offset="0.4803" stop-color="#00a773"/><stop offset="0.4897" stop-color="#00a773"/><stop offset="0.4916" stop-color="#00a97d"/><stop offset="0.4953" stop-color="#00a97d"/><stop offset="0.4972" stop-color="#00aa88"/><stop offset="0.4991" stop-color="#00a97d"/><stop offset="0.5028" stop-color="#00a97d"/><stop offset="0.5047" stop-color="#00a773"/><stop offset="0.5066" stop-color="#00a773"/><stop offset="0.5103" stop-color="#00a55d"/><stop offset="0.5215" stop-color="#00a55d"/><stop offset="0.5234" stop-color="#00a668"/><stop offset="0.5253" stop-color="#00a668"/><stop offset="0.5309" stop-color="#00aa88"/><stop offset="0.5440" stop-color="#00aa90"/><stop offset="0.5609" stop-color="#00aaa0"/><stop offset="0.5964" stop-color="#0098dd"/><stop offset="0.6227" stop-color="#0078dd"/><stop offset="0.6451" stop-color="#0009dd"/><stop offset="0.6489" stop-color="#0009dd"/><stop offset="0.6507" stop-color="#0000dd"/><stop offset="0.6976" stop-color="#0000b5"/><stop offset="0.7069" stop-color="#0300aa"/><stop offset="0.7107" stop-color="#1800a7"/><stop offset="0.7125" stop-color="#1800a7"/><stop offset="0.7163" stop-color="#2d00a4"/><stop offset="0.7182" stop-color="#2d00a4"/><stop offset="0.7257" stop-color="#58009f"/><stop offset="0.7275" stop-color="#58009f"/><stop offset="0.7331" stop-color="#78009b"/><stop offset="0.7350" stop-color="#78009b"/><stop offset="0.7369" stop-color="#83009a"/><stop offset="0.7406" stop-color="#870098"/><stop offset="0.7425" stop-color="#0013dd"/><stop offset="0.7444" stop-color="#009fcb"/><stop offset="0.7500" stop-color="#009fcb"/><stop offset="0.7519" stop-color="#0082dd"/><stop offset="0.7537" stop-color="#0000c9"/><stop offset="0.7575" stop-color="#0000c9"/><stop offset="0.7594" stop-color="#007ddd"/><stop offset="0.7631" stop-color="#0085dd"/><stop offset="0.7706" stop-color="#0085dd"/><stop offset="0.7725" stop-color="#0078dd"/><stop offset="0.7800" stop-color="#0078dd"/><stop offset="0.7818" stop-color="#0090dd"/><stop offset="0.7837" stop-color="#009cd3"/><stop offset="0.7912" stop-color="#009cd3"/><stop offset="0.7931" stop-color="#0000c9"/><stop offset="0.7949" stop-color="#0000c9"/><stop offset="0.7968" stop-color="#0000dd"/><stop offset="0.7987" stop-color="#00aaab"/><stop offset="0.8062" stop-color="#00aaab"/><stop offset="0.8081" stop-color="#009adb"/><stop offset="0.8099" stop-color="#002fdd"/><stop offset="0.8137" stop-color="#001cdd"/><stop offset="0.8155" stop-color="#001cdd"/><stop offset="0.8193" stop-color="#0009dd"/><stop offset="0.8212" stop-color="#0009dd"/><stop offset="0.8230" stop-color="#0000dd"/><stop offset="0.8249" stop-color="#0038dd"/><stop offset="0.8268" stop-color="#005ddd"/><stop offset="0.8287" stop-color="#0000ad"/><stop offset="0.8305" stop-color="#870098"/><stop offset="0.8904" stop-color="#7f0090"/><stop offset="0.9092" stop-color="#770088"/><stop offset="0.9110" stop-color="#700080"/><stop offset="0.9129" stop-color="#700080"/><stop offset="0.9148" stop-color="#670075"/><stop offset="0.9167" stop-color="#670075"/><stop offset="0.9185" stop-color="#5d006b"/><stop offset="0.9204" stop-color="#5d006b"/><stop offset="0.9223" stop-color="#540060"/><stop offset="0.9242" stop-color="#540060"/><stop offset="0.9260" stop-color="#4b0055"/><stop offset="0.9298" stop-color="#4b0055"/><stop offset="0.9316" stop-color="#41004b"/><stop offset="0.9354" stop-color="#41004b"/><stop offset="0.9373" stop-color="#380040"/><stop offset="0.9410" stop-color="#380040"/><stop offset="0.9429" stop-color="#2f0035"/><stop offset="0.9466" stop-color="#2f0035"/><stop offset="0.9485" stop-color="#25002b"/><stop offset="0.9541" stop-color="#25002b"/><stop offset="0.9560" stop-color="#1c0020"/><stop offset="0.9616" stop-color="#1c0020"/><stop offset="0.9635" stop-color="#130015"/><stop offset="0.9691" stop-color="#130015"/><stop offset="0.9710" stop-color="#09000b"/><stop offset="0.9785" stop-color="#09000b"/><stop offset="0.9803" stop-color="#000000"/><stop offset="0.9991" stop-color="#000000"/></linearGradient>
<linearGradient id="r11"><stop offset="0.0009" stop-color="#00ff00"/><stop offset="0.0028" stop-color="#00ff00"/><stop offset="0.0047" stop-color="#870098"/><stop offset="0.0066" stop-color="#870098"/><stop offset="0.0084" stop-color="#2f0035"/><stop offset="0.1526" stop-color="#2f0035"/><stop offset="0.1545" stop-color="#380040"/><stop offset="0.1657" stop-color="#380040"/><stop offset="0.1676" stop-color="#41004b"/><stop offset="0.1770" stop-color="#41004b"/><stop offset="0.1788" stop-color="#4b0055"/><stop offset="0.1826" stop-color="#4b0055"/><stop offset="0.1845" stop-color="#540060"/><stop offset="0.1882" stop-color="#540060"/><stop offset="0.1901" stop-color="#5d006b"/><stop offset="0.1919" stop-color="#5d006b"/><stop offset="0.1938" stop-color="#670075"/><stop offset="0.1957" stop-color="#670075"/><stop offset="0.1994" stop-color="#770088"/><stop offset="0.2219" stop-color="#870098"/><stop offset="0.2257" stop-color="#83009a"/><stop offset="0.2275" stop-color="#2300a6"/><stop offset="0.2294" stop-color="#0000c5"/><stop offset="0.2313" stop-color="#0000d9"/><stop offset="0.2350" stop-color="#0038dd"/><stop offset="0.2369" stop-color="#004bdd"/><stop offset="0.2406" stop-color="#005ddd"/><stop offset="0.2444" stop-color="#005ddd"/><stop offset="0.2463" stop-color="#0067dd"/><stop offset="0.2537" stop-color="#0067dd"/><stop offset="0.2556" stop-color="#0070dd"/><stop offset="0.2725" stop-color="#0090dd"/><stop offset="0.2837" stop-color="#009adb"/><stop offset="0.3043" stop-color="#009fcb"/><stop offset="0.3399" stop-color="#00a4bb"/><stop offset="0.3830" stop-color="#00aaa5"/><stop offset="0.3979" stop-color="#00aaa0"/><stop offset="0.4148" stop-color="#00aa95"/><stop offset="0.4316" stop-color="#00aa95"/><stop offset="0.4466" stop-color="#00aa88"/><stop offset="0.4485" stop-color="#00a97d"/><stop offset="0.4504" stop-color="#00aa88"/><stop offset="0.4672" stop-color="#00aa88"/><stop offset="0.4710" stop-color="#00a773"/><stop offset="0.4728" stop-color="#00a773"/><stop offset="0.4766" stop-color="#00a55d"/><stop offset="0.4785" stop-color="#00a55d"/><stop offset="0.4803" stop-color="#00a353"/><stop offset="0.4878" stop-color="#00a353"/><stop offset="0.4897" stop-color="#00a55d"/><stop offset="0.4934" stop-color="#00a55d"/><stop offset="0.4953" stop-color="#00a668"/><stop offset="0.4991" stop-color="#00a668"/><stop offset="0.5009" stop-color="#00a55d"/><stop offset="0.5047" stop-color="#00a55d"/><stop offset="0.5084" stop-color="#00a248"/><stop offset="0.5103" stop-color="#00a248"/><stop offset="0.5122" stop-color="#00a13d"/><stop offset="0.5215" stop-color="#00a13d"/><stop offset="0.5234" stop-color="#00a248"/><stop offset="0.5253" stop-color="#00a248"/><stop offset="0.5346" stop-color="#00a97d"/><stop offset="0.5365" stop-color="#00a97d"/><stop offset="0.5384" stop-color="#00aa88"/><stop offset="0.5552" stop-color="#00aa93"/><stop offset="0.5833" stop-color="#00a3bf"/><stop offset="0.6002" stop-color="#009adb"/><stop offset="0.6264" stop-color="#0078dd"/><stop offset="0.6339" stop-color="#0054dd"/><stop offset="0.6358" stop-color="#0041dd"/><stop offset="0.6451" stop-color="#0013dd"/><stop offset="0.6489" stop-color="#0013dd"/><stop offset="0.6507" stop-color="#0009dd"/><stop offset="0.6526" stop-color="#0009dd"/><stop offset="0.6545" stop-color="#0000dd"/><stop offset="0.6957" stop-color="#0000b9"/><stop offset="0.7069" stop-color="#0300aa"/><stop offset="0.7088" stop-color="#0d00a8"/><stop offset="0.7107" stop-color="#0d00a8"/><stop offset="0.7144" stop-color="#2300a6"/><stop offset="0.7163" stop-color="#2300a6"/><stop offset="0.7238" stop-color="#4d00a0"/><stop offset="0.7257" stop-color="#4d00a0"/><stop offset="0.7313" stop-color="#6d009c"/><stop offset="0.7331" stop-color="#6d009c"/><stop offset="0.7369" stop-color="#83009a"/><stop offset="0.7406" stop-color="#870098"/><stop offset="0.7425" stop-color="#0013dd"/><stop offset="0.7444" stop-color="#009fcb"/><stop offset="0.7500" stop-color="#009fcb"/><stop offset="0.7519" stop-color="#0082dd"/><stop offset="0.7537" stop-color="#0000c9"/><stop offset="0.7575" stop-color="#0000c9"/><stop offset="0.7594" stop-color="#007ddd"/><stop offset="0.7631" stop-color="#0085dd"/><stop offset="0.7706" stop-color="#0085dd"/><stop offset="0.7725" stop-color="#0078dd"/><stop offset="0.7800" stop-color="#0078dd"/><stop offset="0.7818" stop-color="#0090dd"/><stop offset="0.7837" stop-color="#009cd3"/><stop offset="0.7912" stop-color="#009cd3"/><stop offset="0.7931" stop-color="#0000c9"/><stop offset="0.7949" stop-color="#0000c9"/><stop offset="0.7968" stop-color="#0000dd"/><stop offset="0.7987" stop-color="#00aaab"/><stop offset="0.8062" stop-color="#00aaab"/><stop offset="0.8081" stop-color="#009adb"/><stop offset="0.8099" stop-color="#002fdd"/><stop offset="0.8137" stop-color="#001cdd"/><stop offset="0.8155" stop-color="#001cdd"/><stop offset="0.8193" stop-color="#0009dd"/><stop offset="0.8212" stop-color="#0009dd"/><stop offset="0.8230" stop-color="#0000dd"/><stop offset="0.8249" stop-color="#0038dd"/><stop offset="0.8268" stop-color="#005ddd"/><stop offset="0.8287" stop-color="#0000ad"/><stop offset="0.8305" stop-color="#870098"/><stop offset="0.8904" stop-color="#7f0090"/><stop offset="0.9092" stop-color="#770088"/><stop offset="0.9110" stop-color="#700080"/><stop offset="0.9129" stop-color="#700080"/><stop offset="0.9148" stop-color="#670075"/><stop offset="0.9167" stop-color="#670075"/><stop offset="0.9185" stop-color="#5d006b"/><stop offset="0.9204" stop-color="#5d006b"/><stop offset="0.9223" stop-color="#540060"/><stop offset="0.9242" stop-color="#540060"/><stop offset="0.9260" stop-color="#4b0055"/><stop offset="0.9298" stop-color="#4b0055"/><stop offset="0.9316" stop-color="#41004b"/><stop offset="0.9354" stop-color="#41004b"/><stop offset="0.9373" stop-color="#380040"/><stop offset="0.9410" stop-color="#380040"/><stop offset="0.9429" stop-color="#2f0035"/><stop offset="0.9466" stop-color="#2f0035"/><stop offset="0.9485" stop-color="#25002b"/><stop offset="0.9541" stop-color="#25002b"/><stop offset="0.9560" stop-color="#1c0020"/><stop offset="0.9616" stop-color="#1c0020"/><stop offset="0.9635" stop-color="#130015"/><stop offset="0.9691" stop-color="#130015"/><stop offset="0.9710" stop-color="#09000b"/><stop offset="0.9785" stop-color="#09000b"/><stop offset="0.9803" stop-color="#000000"/><stop offset="0.9991" stop-color="#000000"/></linearGradient>
<linearGradient id="r12"><stop offset="0.0009" stop-color="#00ff00"/><stop offset="0.0028" stop-color="#00ff00"/><stop offset="0.0047" stop-color="#870098"/><stop offset="0.0066" stop-color="#870098"/><stop offset="0.0084" stop-color="#2f0035"/><stop offset="0.1526" stop-color="#2f0035"/><stop offset="0.1545" stop-color="#380040"/><stop offset="0.1657" stop-color="#380040"/><stop offset="0.1676" stop-color="#41004b"/><stop offset="0.1770" stop-color="#41004b"/><stop offset="0.1788" stop-color="#4b0055"/><stop offset="0.1826" stop-color="#4b0055"/><stop offset="0.1845" stop-color="#540060"/><stop offset="0.1882" stop-color="#540060"/><stop offset="0.1901" stop-color="#5d006b"/><stop offset="0.1919" stop-color="#5d006b"/><stop offset="0.1938" stop-color="#670075"/><stop offset="0.1957" stop-color="#670075"/><stop offset="0.1994" stop-color="#770088"/><stop offset="0.2219" stop-color="#870098"/><stop offset="0.2257" stop-color="#83009a"/><stop offset="0.2275" stop-color="#2d00a4"/><stop offset="0.2294" stop-color="#0000bd"/><stop offset="0.2388" stop-color="#0000dd"/><stop offset="0.2406" stop-color="#0009dd"/><stop offset="0.2425" stop-color="#0009dd"/><stop offset="0.2444" stop-color="#0013dd"/><stop offset="0.2500" stop-color="#0013dd"/><stop offset="0.2519" stop-color="#001cdd"/><stop offset="0.2575" stop-color="#001cdd"/><stop offset="0.2594" stop-color="#0025dd"/><stop offset="0.2631" stop-color="#004bdd"/><stop offset="0.2650" stop-color="#0054dd"/><stop offset="0.2669" stop-color="#0067dd"/><stop offset="0.2725" stop-color="#007add"/><stop offset="0.3137" stop-color="#0098dd"/><stop offset="0.3380" stop-color="#009cd3"/><stop offset="0.3661" stop-color="#00a3bf"/><stop offset="0.3811" stop-color="#00a7b3"/><stop offset="0.3961" stop-color="#00a8af"/><stop offset="0.4110" stop-color="#00aaa3"/><stop offset="0.4316" stop-color="#00aaa0"/><stop offset="0.4485" stop-color="#00aa93"/><stop offset="0.4691" stop-color="#00aa93"/><stop offset="0.4860" stop-color="#00aa88"/><stop offset="0.5028" stop-color="#00aa8b"/><stop offset="0.5066" stop-color="#00aa88"/><stop offset="0.5084" stop-color="#00a97d"/><stop offset="0.5103" stop-color="#00a97d"/><stop offset="0.5122" stop-color="#00a773"/><stop offset="0.5215" stop-color="#00a773"/><stop offset="0.5253" stop-color="#00aa88"/><stop offset="0.5421" stop-color="#00aa95"/><stop offset="0.5590" stop-color="#00aaa3"/><stop offset="0.5927" stop-color="#0098dd"/><stop offset="0.6208" stop-color="#0078dd"/><stop offset="0.6433" stop-color="#0009dd"/><stop offset="0.6451" stop-color="#0009dd"/><stop offset="0.6470" stop-color="#0000dd"/><stop offset="0.6919" stop-color="#0000b9"/><stop offset="0.7051" stop-color="#0300aa"/><stop offset="0.7069" stop-color="#0d00a8"/><stop offset="0.7088" stop-color="#0d00a8"/><stop offset="0.7125" stop-color="#2300a6"/><stop offset="0.7144" stop-color="#2300a6"/><stop offset="0.7182" stop-color="#3800a3"/><stop offset="0.7200" stop-color="#3800a3"/><stop offset="0.7275" stop-color="#63009e"/><stop offset="0.7294" stop-color="#63009e"/><stop offset="0.7331" stop-color="#78009b"/><stop offset="0.7350" stop-color="#78009b"/><stop offset="0.7369" stop-color="#83009a"/><stop offset="0.7406" stop-color="#870098"/><stop offset="0.7425" stop-color="#0013dd"/><stop offset="0.7444" stop-color="#009fcb"/><stop offset="0.7500" stop-color="#009fcb"/><stop offset="0.7519" stop-color="#0082dd"/><stop offset="0.7537" stop-color="#0000c9"/><stop offset="0.7575" stop-color="#0000c9"/><stop offset="0.7594" stop-color="#007ddd"/><stop offset="0.7631" stop-color="#0085dd"/><stop offset="0.7706" stop-color="#0085dd"/><stop offset="0.7725" stop-color="#0078dd"/><stop offset="0.7800" stop-color="#0078dd"/><stop offset="0.7818" stop-color="#0090dd"/><stop offset="0.7837" stop-color="#009cd3"/><stop offset="0.7912" stop-color="#009cd3"/><stop offset="0.7931" stop-color="#0000c9"/><stop offset="0.7949" stop-color="#0000c9"/><stop offset="0.7968" stop-color="#0000dd"/><stop offset="0.7987" stop-color="#00aaab"/><stop offset="0.8062" stop-color="#00aaab"/><stop offset="0.8081" stop-color="#009adb"/><stop offset="0.8099" stop-color="#002fdd"/><stop offset="0.8137" stop-color="#001cdd"/><stop offset="0.8155" stop-color="#001cdd"/><stop offset="0.8193" stop-color="#0009dd"/><stop offset="0.8212" stop-color="#0009dd"/><stop offset="0.8230" stop-color="#0000dd"/><stop offset="0.8249" stop-color="#0038dd"/><stop offset="0.8268" stop-color="#005ddd"/><stop offset="0.8287" stop-color="#0000ad"/><stop offset="0.8305" stop-color="#870098"/><stop offset="0.8904" stop-color="#7f0090"/><stop offset="0.9092" stop-color="#770088"/><stop offset="0.9110" stop-color="#700080"/><stop offset="0.9129" stop-color="#700080"/><stop offset="0.9148" stop-color="#670075"/><stop offset="0.9167" stop-color="#670075"/><stop offset="0.9185" stop-color="#5d006b"/><stop offset="0.9204" stop-color="#5d006b"/><stop offset="0.9223" stop-color="#540060"/><stop offset="0.9242" stop-color="#540060"/><stop offset="0.9260" stop-color="#4b0055"/><stop offset="0.9298" stop-color="#4b0055"/><stop offset="0.9316" stop-color="#41004b"/><stop offset="0.9354" stop-color="#41004b"/><stop offset="0.9373" stop-color="#380040"/><stop offset="0.9410" stop-color="#380040"/><stop offset="0.9429" stop-color="#2f0035"/><stop offset="0.9466" stop-color="#2f0035"/><stop offset="0.9485" stop-color="#25002b"/><stop offset="0.9541" stop-color="#25002b"/><stop offset="0.9560" stop-color="#1c0020"/><stop offset="0.9616" stop-color="#1c0020"/><stop offset="0.9635" stop-color="#130015"/><stop offset="0.9691" stop-color="#130015"/><stop offset="0.9710" stop-color="#09000b"/><stop offset="0.9785" stop-color="#09000b"/><stop offset="0.9803" stop-color="#000000"/><stop offset="0.9991" stop-color="#000000"/></linearGradient>
<linearGradient id="r13"><stop offset="0.0009" stop-color="#00ff00"/><stop offset="0.0028" stop-color="#00ff00"/><stop offset="0.0047" stop-color="#870098"/><stop offset="0.0066" stop-color="#870098"/><stop offset="0.0084" stop-color="#2f0035"/><stop offset="0.1526" stop-color="#2f0035"/><stop offset="0.1545" stop-color="#380040"/><stop offset="0.1657" stop-color="#380040"/><stop offset="0.1676" stop-color="#41004b"/><stop offset="0.1770" stop-color="#41004b"/><stop offset="0.1788" stop-color="#4b0055"/><stop offset="0.1826" stop-color="#4b0055"/><stop offset="0.1845" stop-color="#540060"/><stop offset="0.1882" stop-color="#540060"/><stop offset="0.1901" stop-color="#5d006b"/><stop offset="0.1919" stop-color="#5d006b"/><stop offset="0.1938" stop-color="#670075"/><stop offset="0.1957" stop-color="#670075"/><stop offset="0.1994" stop-color="#770088"/><stop offset="0.2219" stop-color="#870098"/><stop offset="0.2257" stop-color="#83009a"/><stop offset="0.2275" stop-color="#2300a6"/><stop offset="0.2294" stop-color="#0000cd"/><stop offset="0.2313" stop-color="#0013dd"/><stop offset="0.2331" stop-color="#004bdd"/><stop offset="0.2350" stop-color="#0070dd"/><stop offset="0.2388" stop-color="#007ddd"/><stop offset="0.2594" stop-color="#0082dd"/><stop offset="0.2706" stop-color="#009adb"/><stop offset="0.2912" stop-color="#00a2c3"/><stop offset="0.3305" stop-color="#00a7b3"/><stop offset="0.3848" stop-color="#00aaa3"/><stop offset="0.3998" stop-color="#00aa9b"/><stop offset="0.4167" stop-color="#00aa93"/><stop offset="0.4298" stop-color="#00aa93"/><stop offset="0.4391" stop-color="#00aa88"/><stop offset="0.4410" stop-color="#00a97d"/><stop offset="0.4429" stop-color="#00a97d"/><stop offset="0.4448" stop-color="#00a773"/><stop offset="0.4522" stop-color="#00a773"/><stop offset="0.4541" stop-color="#00a97d"/><stop offset="0.4654" stop-color="#00a97d"/><stop offset="0.4672" stop-color="#00a773"/><stop offset="0.4691" stop-color="#00a773"/><stop offset="0.4728" stop-color="#00a55d"/><stop offset="0.4747" stop-color="#00a55d"/><stop offset="0.4785" stop-color="#00a248"/><stop offset="0.4897" stop-color="#00a248"/><stop offset="0.4916" stop-color="#00a353"/><stop offset="0.5028" stop-color="#00a353"/><stop offset="0.5066" stop-color="#00a13d"/><stop offset="0.5084" stop-color="#00a13d"/><stop offset="0.5103" stop-color="#009f33"/><stop offset="0.5122" stop-color="#009f33"/><stop offset="0.5140" stop-color="#009e28"/><stop offset="0.5197" stop-color="#009e28"/><stop offset="0.5215" stop-color="#009f33"/><stop offset="0.5234" stop-color="#009f33"/><stop offset="0.5328" stop-color="#00a668"/><stop offset="0.5346" stop-color="#00a668"/><stop offset="0.5384" stop-color="#00a97d"/><stop offset="0.5459" stop-color="#00a97d"/><stop offset="0.5478" stop-color="#00aa88"/><stop offset="0.5571" stop-color="#00aa90"/><stop offset="0.5833" stop-color="#00a4bb"/><stop offset="0.6021" stop-color="#009adb"/><stop offset="0.6264" stop-color="#0078dd"/><stop offset="0.6470" stop-color="#0013dd"/><stop offset="0.6507" stop-color="#0013dd"/><stop offset="0.6526" stop-color="#0009dd"/><stop offset="0.6545" stop-color="#0009dd"/><stop offset="0.6564" stop-color="#0000dd"/><stop offset="0.6957" stop-color="#0000b9"/><stop offset="0.7088" stop-color="#0300aa"/><stop offset="0.7125" stop-color="#1800a7"/><stop offset="0.7144" stop-color="#1800a7"/><stop offset="0.7238" stop-color="#4d00a0"/><stop offset="0.7257" stop-color="#4d00a0"/><stop offset="0.7313" stop-color="#6d009c"/><stop offset="0.7331" stop-color="#6d009c"/><stop offset="0.7369" stop-color="#83009a"/><stop offset="0.7406" stop-color="#870098"/><stop offset="0.7425" stop-color="#0013dd"/><stop offset="0.7444" stop-color="#009fcb"/><stop offset="0.7500" stop-color="#009fcb"/><stop offset="0.7519" stop-color="#0082dd"/><stop offset="0.7537" stop-color="#0000c9"/><stop offset="0.7575" stop-color="#0000c9"/><stop offset="0.7594" stop-color="#007ddd"/><stop offset="0.7631" stop-color="#0085dd"/><stop offset="0.7706" stop-color="#0085dd"/><stop offset="0.7725" stop-color="#0078dd"/><stop offset="0.7800" stop-color="#0078dd"/><stop offset="0.7818" stop-color="#0090dd"/><stop offset="0.7837" stop-color="#009cd3"/><stop offset="0.7912" stop-color="#009cd3"/><stop offset="0.7931" stop-color="#0000c9"/><stop offset="0.7949" stop-color="#0000c9"/><stop offset="0.7968" stop-color="#0000dd"/><stop offset="0.7987" stop-color="#00aaab"/><stop offset="0.8062" stop-color="#00aaab"/><stop offset="0.8081" stop-color="#009adb"/><stop offset="0.8099" stop-color="#002fdd"/><stop offset="0.8137" stop-color="#001cdd"/><stop offset="0.8155" stop-color="#001cdd"/><stop offset="0.8193" stop-color="#0009dd"/><stop offset="0.8212" stop-color="#0009dd"/><stop offset="0.8230" stop-color="#0000dd"/><stop offset="0.8249" stop-color="#0038dd"/><stop offset="0.8268" stop-color="#005ddd"/><stop offset="0.8287" stop-color="#0000ad"/><stop offset="0.8305" stop-color="#870098"/><stop offset="0.8904" stop-color="#7f0090"/><stop offset="0.9092" stop-color="#770088"/><stop offset="0.9110" stop-color="#700080"/><stop offset="0.9129" stop-color="#700080"/><stop offset="0.9148" stop-color="#670075"/><stop offset="0.9167" stop-color="#670075"/><stop offset="0.9185" stop-color="#5d006b"/><stop offset="0.9204" stop-color="#5d006b"/><stop offset="0.9223" stop-color="#540060"/><stop offset="0.9242" stop-color="#540060"/><stop offset="0.9260" stop-color="#4b0055"/><stop offset="0.9298" stop-color="#4b0055"/><stop offset="0.9316" stop-color="#41004b"/><stop offset="0.9354" stop-color="#41004b"/><stop offset="0.9373" stop-color="#380040"/><stop offset="0.9410" stop-color="#380040"/><stop offset="0.9429" stop-color="#2f0035"/><stop offset="0.9466" stop-color="#2f0035"/><stop offset="0.9485" stop-color="#25002b"/><stop offset="0.9541" stop-color="#25002b"/><stop offset="0.9560" stop-color="#1c0020"/><stop offset="0.9616" stop-color="#1c0020"/><stop offset="0.9635" stop-color="#130015"/><stop offset="0.9691" stop-color="#130015"/><stop offset="0.9710" stop-color="#09000b"/><stop offset="0.9785" stop-color="#09000b"/><stop offset="0.9803" stop-color="#000000"/><stop offset="0.9991" stop-color="#000000"/></linearGradient>
<linearGradient id="r14"><stop offset="0.0009" stop-color="#00ff00"/><stop offset="0.0028" stop-color="#00ff00"/><stop offset="0.0047" stop-color="#870098"/><stop offset="0.0066" stop-color="#870098"/><stop offset="0.0084" stop-color="#2f0035"/><stop offset="0.1526" stop-color="#2f0035"/><stop offset="0.1545" stop-color="#380040"/><stop offset="0.1657" stop-color="#380040"/><stop offset="0.1676" stop-color="#41004b"/><stop offset="0.1770" stop-color="#41004b"/><stop offset="0.1788" stop-color="#4b0055"/><stop offset="0.1826" stop-color="#4b0055"/><stop offset="0.1845" stop-color="#540060"/><stop offset="0.1882" stop-color="#540060"/><stop offset="0.1901" stop-color="#5d006b"/><stop offset="0.1919" stop-color="#5d006b"/><stop offset="0.1938" stop-color="#670075"/><stop offset="0.1957" stop-color="#670075"/><stop offset="0.1994" stop-color="#770088"/><stop offset="0.2219" stop-color="#870098"/><stop offset="0.2257" stop-color="#83009a"/><stop offset="0.2275" stop-color="#2300a6"/><stop offset="0.2294" stop-color="#0000c9"/><stop offset="0.2313" stop-color="#0009dd"/><stop offset="0.2331" stop-color="#0041dd"/><stop offset="0.2350" stop-color="#0067dd"/><stop offset="0.2388" stop-color="#007add"/><stop offset="0.2594" stop-color="#0080dd"/><stop offset="0.2706" stop-color="#0098dd"/><stop offset="0.2912" stop-color="#009fcb"/><stop offset="0.3174" stop-color="#00a3bf"/><stop offset="0.3661" stop-color="#00a8af"/><stop offset="0.3830" stop-color="#00aaa8"/><stop offset="0.3998" stop-color="#00aaa3"/><stop offset="0.4148" stop-color="#00aa98"/><stop offset="0.4316" stop-color="#00aa98"/><stop offset="0.4485" stop-color="#00aa8b"/><stop offset="0.4691" stop-color="#00aa8b"/><stop offset="0.4728" stop-color="#00a97d"/><stop offset="0.4747" stop-color="#00a773"/><stop offset="0.4766" stop-color="#00a773"/><stop offset="0.4785" stop-color="#00a668"/><stop offset="0.4803" stop-color="#00a668"/><stop offset="0.4822" stop-color="#00a55d"/><stop offset="0.4860" stop-color="#00a55d"/><stop offset="0.4878" stop-color="#00a668"/><stop offset="0.4916" stop-color="#00a668"/><stop offset="0.4934" stop-color="#00a773"/><stop offset="0.5009" stop-color="#00a773"/><stop offset="0.5028" stop-color="#00a668"/><stop offset="0.5047" stop-color="#00a668"/><stop offset="0.5066" stop-color="#00a55d"/><stop offset="0.5084" stop-color="#00a55d"/><stop offset="0.5103" stop-color="#00a353"/><stop offset="0.5122" stop-color="#00a353"/><stop offset="0.5140" stop-color="#00a248"/><stop offset="0.5197" stop-color="#00a248"/><stop offset="0.5215" stop-color="#00a353"/><stop offset="0.5234" stop-color="#00a353"/><stop offset="0.5328" stop-color="#00aa88"/><stop offset="0.5552" stop-color="#00aa95"/><stop offset="0.5815" stop-color="#00a3bf"/><stop offset="0.5983" stop-color="#0098dd"/><stop offset="0.6245" stop-color="#0078dd"/><stop offset="0.6451" stop-color="#0013dd"/><stop offset="0.6470" stop-color="#0013dd"/><stop offset="0.6489" stop-color="#0009dd"/><stop offset="0.6507" stop-color="#0009dd"/><stop offset="0.6526" stop-color="#0000dd"/><stop offset="0.6938" stop-color="#0000b9"/><stop offset="0.7069" stop-color="#0300aa"/><stop offset="0.7088" stop-color="#0d00a8"/><stop offset="0.7107" stop-color="#0d00a8"/><stop offset="0.7163" stop-color="#2d00a4"/><stop offset="0.7182" stop-color="#2d00a4"/><stop offset="0.7257" stop-color="#58009f"/><stop offset="0.7275" stop-color="#58009f"/><stop offset="0.7313" stop-color="#6d009c"/><stop offset="0.7331" stop-color="#6d009c"/><stop offset="0.7369" stop-color="#83009a"/><stop offset="0.7406" stop-color="#870098"/><stop offset="0.7425" stop-color="#0013dd"/><stop offset="0.7444" stop-color="#009fcb"/><stop offset="0.7500" stop-color="#009fcb"/><stop offset="0.7519" stop-color="#0082dd"/><stop offset="0.7537" stop-color="#0000c9"/><stop offset="0.7575" stop-color="#0000c9"/><stop offset="0.7594" stop-color="#007ddd"/><stop offset="0.7631" stop-color="#0085dd"/><stop offset="0.7706" stop-color="#0085dd"/><stop offset="0.7725" stop-color="#0078dd"/><stop offset="0.7800" stop-color="#0078dd"/><stop offset="0.7818" stop-color="#0090dd"/><stop offset="0.7837" stop-color="#009cd3"/><stop offset="0.7912" stop-color="#009cd3"/><stop offset="0.7931" stop-color="#0000c9"/><stop offset="0.7949" stop-color="#0000c9"/><stop offset="0.7968" stop-color="#0000dd"/><stop offset="0.7987" stop-color="#00aaab"/><stop offset="0.8062" stop-color="#00aaab"/><stop offset="0.8081" stop-color="#009adb"/><stop offset="0.8099" stop-color="#002fdd"/><stop offset="0.8137" stop-color="#001cdd"/><stop offset="0.8155" stop-color="#001cdd"/><stop offset="0.8193" stop-color="#0009dd"/><stop offset="0.8212" stop-color="#0009dd"/><stop offset="0.8230" stop-color="#0000dd"/><stop offset="0.8249" stop-color="#0038dd"/><stop offset="0.8268" stop-color="#005ddd"/><stop offset="0.8287" stop-color="#0000ad"/><stop offset="0.8305" stop-color="#870098"/><stop offset="0.8904" stop-color="#7f0090"/><stop offset="0.9092" stop-color="#770088"/><stop offset="0.9110" stop-color="#700080"/><stop offset="0.9129" stop-color="#700080"/><stop offset="0.9148" stop-color="#670075"/><stop offset="0.9167" stop-color="#670075"/><stop offset="0.9185" stop-color="#5d006b"/><stop offset="0.9204" stop-color="#5d006b"/><stop offset="0.9223" stop-color="#540060"/><stop offset="0.9242" stop-color="#540060"/><stop offset="0.9260" stop-color="#4b0055"/><stop offset="0.9298" stop-color="#4b0055"/><stop offset="0.9316" stop-color="#41004b"/><stop offset="0.9354" stop-color="#41004b"/><stop offset="0.9373" stop-color="#380040"/><stop offset="0.9410" stop-color="#380040"/><stop offset="0.9429" stop-color="#2f0035"/><stop offset="0.9466" stop-color="#2f0035"/><stop offset="0.9485" stop-color="#25002b"/><stop offset="0.9541" stop-color="#25002b"/><stop offset="0.9560" stop-color="#1c0020"/><stop offset="0.9616" stop-color="#1c0020"/><stop offset="0.9635" stop-color="#130015"/><stop offset="0.9691" stop-color="#130015"/><stop offset="0.9710" stop-color="#09000b"/><stop offset="0.9785" stop-color="#09000b"/><stop offset="0.9803" stop-color="#000000"/><stop offset="0.9991" stop-color="#000000"/></linearGradient>
<linearGradient id="r15"><stop offset="0.0009" stop-color="#00ff00"/><stop offset="0.0028" stop-color="#00ff00"/><stop offset="0.0047" stop-color="#870098"/><stop offset="0.0066" stop-color="#870098"/><stop offset="0.0084" stop-color="#2f0035"/><stop offset="0.1526" stop-color="#2f0035"/><stop offset="0.1545" stop-color="#380040"/><stop offset="0.1657" stop-color="#380040"/><stop offset="0.1676" stop-color="#41004b"/><stop offset="0.1770" stop-color="#41004b"/><stop offset="0.1788" stop-color="#4b0055"/><stop offset="0.1826" stop-color="#4b0055"/><stop offset="0.1845" stop-color="#540060"/><stop offset="0.1882" stop-color="#540060"/><stop offset="0.1901" stop-color="#5d006b"/><stop offset="0.1919" stop-color="#5d006b"/><stop offset="0.1938" stop-color="#670075"/><stop offset="0.1957" stop-color="#670075"/><stop offset="0.1994" stop-color="#770088"/><stop offset="0.2219" stop-color="#870098"/><stop offset="0.2257" stop-color="#83009a"/><stop offset="0.2275" stop-color="#2d00a4"/><stop offset="0.2294" stop-color="#0000c9"/><stop offset="0.2313" stop-color="#0009dd"/><stop offset="0.2331" stop-color="#0041dd"/><stop offset="0.2350" stop-color="#005ddd"/><stop offset="0.2369" stop-color="#0070dd"/><stop offset="0.2406" stop-color="#007add"/><stop offset="0.2612" stop-color="#0082dd"/><stop offset="0.2725" stop-color="#0095dd"/><stop offset="0.3043" stop-color="#00a0c7"/><stop offset="0.3324" stop-color="#00a3bf"/><stop offset="0.3661" stop-color="#00a7b3"/><stop offset="0.3848" stop-color="#00aaab"/><stop offset="0.3867" stop-color="#ffad00"/><stop offset="0.3923" stop-color="#ffad00"/><stop offset="0.3942" stop-color="#00aaab"/><stop offset="0.4110" stop-color="#00aa9d"/><stop offset="0.4298" stop-color="#00aa9d"/><stop offset="0.4485" stop-color="#00aa8d"/><stop offset="0.4691" stop-color="#00aa8d"/><stop offset="0.4747" stop-color="#00aa88"/><stop offset="0.4766" stop-color="#00a97d"/><stop offset="0.4785" stop-color="#00a97d"/><stop offset="0.4803" stop-color="#00a773"/><stop offset="0.4897" stop-color="#00a773"/><stop offset="0.4916" stop-color="#00a97d"/><stop offset="0.4953" stop-color="#00a97d"/><stop offset="0.4972" stop-color="#00aa88"/><stop offset="0.4991" stop-color="#00a97d"/><stop offset="0.5028" stop-color="#00a97d"/><stop offset="0.5047" stop-color="#00a773"/><stop offset="0.5066" stop-color="#00a773"/><stop offset="0.5103" stop-color="#00a55d"/><stop offset="0.5215" stop-color="#00a55d"/><stop offset="0.5234" stop-color="#00a668"/><stop offset="0.5253" stop-color="#00a668"/><stop offset="0.5309" stop-color="#00aa88"/><stop offset="0.5440" stop-color="#00aa90"/><stop offset="0.5609" stop-color="#00aaa0"/><stop offset="0.5964" stop-color="#0098dd"/><stop offset="0.6227" stop-color="#0078dd"/><stop offset="0.6451" stop-color="#0009dd"/><stop offset="0.6489" stop-color="#0009dd"/><stop offset="0.6507" stop-color="#0000dd"/><stop offset="0.6976" stop-color="#0000b5"/><stop offset="0.7069" stop-color="#0300aa"/><stop offset="0.7107" stop-color="#1800a7"/><stop offset="0.7125" stop-color="#1800a7"/><stop offset="0.7163" stop-color="#2d00a4"/><stop offset="0.7182" stop-color="#2d00a4"/><stop offset="0.7257" stop-color="#58009f"/><stop offset="0.7275" stop-color="#58009f"/><stop offset="0.7331" stop-color="#78009b"/><stop offset="0.7350" stop-color="#78009b"/><stop offset="0.7369" stop-color="#83009a"/><stop offset="0.7406" stop-color="#870098"/><stop offset="0.7425" stop-color="#0013dd"/><stop offset="0.7444" stop-color="#009fcb"/><stop offset="0.7500" stop-color="#009fcb"/><stop offset="0.7519" stop-color="#0082dd"/><stop offset="0.7537" stop-color="#0000c9"/><stop offset="0.7575" stop-color="#0000c9"/><stop offset="0.7594" stop-color="#007ddd"/><stop offset="0.7631" stop-color="#0085dd"/><stop offset="0.7706" stop-color="#0085dd"/><stop offset="0.7725" stop-color="#0078dd"/><stop offset="0.7800" stop-color="#0078dd"/><stop offset="0.7818" stop-color="#0090dd"/><stop offset="0.7837" stop-color="#009cd3"/><stop offset="0.7912" stop-color="#009cd3"/><stop offset="0.7931" stop-color="#0000c9"/><stop offset="0.7949" stop-color="#0000c9"/><stop offset="0.7968" stop-color="#0000dd"/><stop offset="0.7987" stop-color="#00aaab"/><stop offset="0.8062" stop-color="#00aaab"/><stop offset="0.8081" stop-color="#009adb"/><stop offset="0.8099" stop-color="#002fdd"/><stop offset="0.8137" stop-color="#001cdd"/><stop offset="0.8155" stop-color="#001cdd"/><stop offset="0.8193" stop-color="#0009dd"/><stop offset="0.8212" stop-color="#0009dd"/><stop offset="0.8230" stop-color="#0000dd"/><stop offset="0.8249" stop-color="#0038dd"/><stop offset="0.8268" stop-color="#005ddd"/><stop offset="0.8287" stop-color="#0000ad"/><stop offset="0.8305" stop-color="#870098"/><stop offset="0.8904" stop-color="#7f0090"/><stop offset="0.9092" stop-color="#770088"/><stop offset="0.9110" stop-color="#700080"/><stop offset="0.9129" stop-color="#700080"/><stop offset="0.9148" stop-color="#670075"/><stop offset="0.9167" stop-color="#670075"/><stop offset="0.9185" stop-color="#5d006b"/><stop offset="0.9204" stop-color="#5d006b"/><stop offset="0.9223" stop-color="#540060"/><stop offset="0.9242" stop-color="#540060"/><stop offset="0.9260" stop-color="#4b0055"/><stop offset="0.9298" stop-color="#4b0055"/><stop offset="0.9316" stop-color="#41004b"/><stop offset="0.9354" stop-color="#41004b"/><stop offset="0.9373" stop-color="#380040"/><stop offset="0.9410" stop-color="#380040"/><stop offset="0.9429" stop-color="#2f0035"/><stop offset="0.9466" stop-color="#2f0035"/><stop offset="0.9485" stop-color="#25002b"/><stop offset="0.9541" stop-color="#25002b"/><stop offset="0.9560" stop-color="#1c0020"/><stop offset="0.9616" stop-color="#1c0020"/><stop offset="0.9635" stop-color="#130015"/><stop offset="0.9691" stop-color="#130015"/><stop offset="0.9710" stop-color="#09000b"/><stop offset="0.9785" stop-color="#09000b"/><stop offset="0.9803" stop-color="#000000"/><stop offset="0.9991" stop-color="#000000"/></linearGradient>
<linearGradient id="r16"><stop offset="0.0009" stop-color="#00ff00"/><stop offset="0.0028" stop-color="#00ff00"/><stop offset="0.0047" stop-color="#870098"/><stop offset="0.0066" stop-color="#870098"/><stop offset="0.0084" stop-color="#2f0035"/><stop offset="0.1526" stop-color="#2f0035"/><stop offset="0.1545" stop-color="#380040"/><stop offset="0.1657" stop-color="#380040"/><stop offset="0.1676" stop-color="#41004b"/><stop offset="0.1770" stop-color="#41004b"/><stop offset="0.1788" stop-color="#4b0055"/><stop offset="0.1826" stop-color="#4b0055"/><stop offset="0.1845" stop-color="#540060"/><stop offset="0.1882" stop-color="#540060"/><stop offset="0.1901" stop-color="#5d006b"/><stop offset="0.1919" stop-color="#5d006b"/><stop offset="0.1938" stop-color="#670075"/><stop offset="0.1957" stop-color="#670075"/><stop offset="0.1994" stop-color="#770088"/><stop offset="0.2219" stop-color="#870098"/><stop offset="0.2257" stop-color="#83009a"/><stop offset="0.2275" stop-color="#2300a6"/><stop offset="0.2294" stop-color="#0000c9"/><stop offset="0.2313" stop-color="#0009dd"/><stop offset="0.2331" stop-color="#0041dd"/><stop offset="0.2350" stop-color="#0067dd"/><stop offset="0.2388" stop-color="#007add"/><stop offset="0.2594" stop-color="#0080dd"/><stop offset="0.2706" stop-color="#0098dd"/><stop offset="0.2912" stop-color="#009fcb"/><stop offset="0.3174" stop-color="#00a3bf"/><stop offset="0.3661" stop-color="#00a8af"/><stop offset="0.3830" stop-color="#00aaa8"/><stop offset="0.3998" stop-color="#00aaa3"/><stop offset="0.4148" stop-color="#00aa98"/><stop offset="0.4316" stop-color="#00aa98"/><stop offset="0.4485" stop-color="#00aa8b"/><stop offset="0.4691" stop-color="#00aa8b"/><stop offset="0.4728" stop-color="#00a97d"/><stop offset="0.4747" stop-color="#00a773"/><stop offset="0.4766" stop-color="#00a773"/><stop offset="0.4785" stop-color="#00a668"/><stop offset="0.4803" stop-color="#00a668"/><stop offset="0.4822" stop-color="#00a55d"/><stop offset="0.4860" stop-color="#00a55d"/><stop offset="0.4878" stop-color="#00a668"/><stop offset="0.4916" stop-color="#00a668"/><stop offset="0.4934" stop-color="#00a773"/><stop offset="0.5009" stop-color="#00a773"/><stop offset="0.5028" stop-color="#00a668"/><stop offset="0.5047" stop-color="#00a668"/><stop offset="0.5066" stop-color="#00a55d"/><stop offset="0.5084" stop-color="#00a55d"/><stop offset="0.5103" stop-color="#00a353"/><stop offset="0.5122" stop-color="#00a353"/><stop offset="0.5140" stop-color="#00a248"/><stop offset="0.5197" stop-color="#00a248"/><stop offset="0.5215" stop-color="#00a353"/><stop offset="0.5234" stop-color="#00a353"/><stop offset="0.5328" stop-color="#00aa88"/><stop offset="0.5552" stop-color="#00aa95"/><stop offset="0.5815" stop-color="#00a3bf"/><stop offset="0.5983" stop-color="#0098dd"/><stop offset="0.6245" stop-color="#0078dd"/><stop offset="0.6451" stop-color="#0013dd"/><stop offset="0.6470" stop-color="#0013dd"/><stop offset="0.6489" stop-color="#0009dd"/><stop offset="0.6507" stop-color="#0009dd"/><stop offset="0.6526" stop-color="#0000dd"/><stop offset="0.6938" stop-color="#0000b9"/><stop offset="0.7069" stop-color="#0300aa"/><stop offset="0.7088" stop-color="#0d00a8"/><stop offset="0.7107" stop-color="#0d00a8"/><stop offset="0.7163" stop-color="#2d00a4"/><stop offset="0.7182" stop-color="#2d00a4"/><stop offset="0.7257" stop-color="#58009f"/><stop offset="0.7275" stop-color="#58009f"/><stop offset="0.7313" stop-color="#6d009c"/><stop offset="0.7331" stop-color="#6d009c"/><stop offset="0.7369" stop-color="#83009a"/><stop offset="0.7406" stop-color="#870098"/><stop offset="0.7425" stop-color="#0013dd"/><stop offset="0.7444" stop-color="#009fcb"/><stop offset="0.7500" stop-color="#009fcb"/><stop offset="0.7519" stop-color="#0082dd"/><stop offset="0.7537" stop-color="#0000c9"/><stop offset="0.7575" stop-color="#0000c9"/><stop offset="0.7594" stop-color="#007ddd"/><stop offset="0.7631" stop-color="#0085dd"/><stop offset="0.7706" stop-color="#0085dd"/><stop offset="0.7725" stop-color="#0078dd"/><stop offset="0.7800" stop-color="#0078dd"/><stop offset="0.7818" stop-color="#0090dd"/><stop offset="0.7837" stop-color="#009cd3"/><stop offset="0.7912" stop-color="#009cd3"/><stop offset="0.7931" stop-color="#0000c9"/><stop offset="0.7949" stop-color="#0000c9"/><stop offset="0.7968" stop-color="#0000dd"/><stop offset="0.7987" stop-color="#00aaab"/><stop offset="0.8062" stop-color="#00aaab"/><stop offset="0.8081" stop-color="#009adb"/><stop offset="0.8099" stop-color="#002fdd"/><stop offset="0.8137" stop-color="#001cdd"/><stop offset="0.8155" stop-color="#001cdd"/><stop offset="0.8193" stop-color="#0009dd"/><stop offset="0.8212" stop-color="#0009dd"/><stop offset="0.8230" stop-color="#0000dd"/><stop offset="0.8249" stop-color="#0038dd"/><stop offset="0.8268" stop-color="#005ddd"/><stop offset="0.8287" stop-color="#0000ad"/><stop offset="0.8305" stop-color="#870098"/><stop offset="0.8904" stop-color="#7f0090"/><stop offset="0.9092" stop-color="#770088"/><stop offset="0.9110" stop-color="#700080"/><stop offset="0.9129" stop-color="#700080"/><stop offset="0.9148" stop-color="#670075"/><stop offset="0.9167" stop-color="#670075"/><stop offset="0.9185" stop-color="#5d006b"/><stop offset="0.9204" stop-color="#5d006b"/><stop offset="0.9223" stop-color="#540060"/><stop offset="0.9242" stop-color="#540060"/><stop offset="0.9260" stop-color="#4b0055"/><stop offset="0.9298" stop-color="#4b0055"/><stop offset="0.9316" stop-color="#41004b"/><stop offset="0.9354" stop-color="#41004b"/><stop offset="0.9373" stop-color="#380040"/><stop offset="0.9410" stop-color="#380040"/><stop offset="0.9429" stop-color="#2f0035"/><stop offset="0.9466" stop-color="#2f0035"/><stop offset="0.9485" stop-color="#25002b"/><stop offset="0.9541" stop-color="#25002b"/><stop offset="0.9560" stop-color="#1c0020"/><stop offset="0.9616" stop-color="#1c0020"/><stop offset="0.9635" stop-color="#130015"/><stop offset="0.9691" stop-color="#130015"/><stop offset="0.9710" stop-color="#09000b"/><stop offset="0.9785" stop-color="#09000b"/><stop offset="0.9803" stop-color="#000000"/><stop offset="0.9991" stop-color="#000000"/></linearGradient>
<linearGradient id="r17"><stop offset="0.0009" stop-color="#00ff00"/><stop offset="0.0028" stop-color="#00ff00"/><stop offset="0.0047" stop-color="#870098"/><stop offset="0.0066" stop-color="#870098"/><stop offset="0.0084" stop-color="#2f0035"/><stop offset="0.1526" stop-color="#2f0035"/><stop offset="0.1545" stop-color="#380040"/><stop offset="0.1657" stop-color="#380040"/><stop offset="0.1676" stop-color="#41004b"/><stop offset="0.1770" stop-color="#41004b"/><stop offset="0.1788" stop-color="#4b0055"/><stop offset="0.1826" stop-color="#4b0055"/><stop offset="0.1845" stop-color="#540060"/><stop offset="0.1882" stop-color="#540060"/><stop offset="0.1901" stop-color="#5d006b"/><stop offset="0.1919" stop-color="#5d006b"/><stop offset="0.1938" stop-color="#670075"/><stop offset="0.1957" stop-color="#670075"/><stop offset="0.1994" stop-color="#770088"/><stop offset="0.2219" stop-color="#870098"/><stop offset="0.2257" stop-color="#83009a"/><stop offset="0.2275" stop-color="#2300a6"/><stop offset="0.2294" stop-color="#0000c9"/><stop offset="0.2313" stop-color="#0009dd"/><stop offset="0.2331" stop-color="#0041dd"/><stop offset="0.2350" stop-color="#0067dd"/><stop offset="0.2388" stop-color="#007add"/><stop offset="0.2594" stop-color="#0080dd"/><stop offset="0.2706" stop-color="#0098dd"/><stop offset="0.2912" stop-color="#009fcb"/><stop offset="0.3174" stop-color="#00a3bf"/><stop offset="0.3661" stop-color="#00a8af"/><stop offset="0.3830" stop-color="#00aaa8"/><stop offset="0.3998" stop-color="#00aaa3"/><stop offset="0.4148" stop-color="#00aa98"/><stop offset="0.4316" stop-color="#00aa98"/><stop offset="0.4485" stop-color="#00aa8b"/><stop offset="0.4691" stop-color="#00aa8b"/><stop offset="0.4728" stop-color="#00a97d"/><stop offset="0.4747" stop-color="#00a773"/><stop offset="0.4766" stop-color="#00a773"/><stop offset="0.4785" stop-color="#00a668"/><stop offset="0.4803" stop-color="#00a668"/><stop offset="0.4822" stop-color="#00a55d"/><stop offset="0.4860" stop-color="#00a55d"/><stop offset="0.4878" stop-color="#00a668"/><stop offset="0.4916" stop-color="#00a668"/><stop offset="0.4934" stop-color="#00a773"/><stop offset="0.5009" stop-color="#00a773"/><stop offset="0.5028" stop-color="#00a668"/><stop offset="0.5047" stop-color="#00a668"/><stop offset="0.5066" stop-color="#00a55d"/><stop offset="0.5084" stop-color="#00a55d"/><stop offset="0.5103" stop-color="#00a353"/><stop offset="0.5122" stop-color="#00a353"/><stop offset="0.5140" stop-color="#00a248"/><stop offset="0.5197" stop-color="#00a248"/><stop offset="0.5215" stop-color="#00a353"/><stop offset="0.5234" stop-color="#00a353"/><stop offset="0.5328" stop-color="#00aa88"/><stop offset="0.5552" stop-color="#00aa95"/><stop offset="0.5815" stop-color="#00a3bf"/><stop offset="0.5983" stop-color="#0098dd"/><stop offset="0.6245" stop-color="#0078dd"/><stop offset="0.6451" stop-color="#0013dd"/><stop offset="0.6470" stop-color="#0013dd"/><stop offset="0.6489" stop-color="#0009dd"/><stop offset="0.6507" stop-color="#0009dd"/><stop offset="0.6526" stop-color="#0000dd"/><stop offset="0.6938" stop-color="#0000b9"/><stop offset="0.7069" stop-color="#0300aa"/><stop offset="0.7088" stop-color="#0d00a8"/><stop offset="0.7107" stop-color="#0d00a8"/><stop offset="0.7163" stop-color="#2d00a4"/><stop offset="0.7182" stop-color="#2d00a4"/><stop offset="0.7257" stop-color="#58009f"/><stop offset="0.7275" stop-color="#58009f"/><stop offset="0.7313" stop-color="#6d009c"/><stop offset="0.7331" stop-color="#6d009c"/><stop offset="0.7369" stop-color="#83009a"/><stop offset="0.7406" stop-color="#870098"/><stop offset="0.7425" stop-color="#0013dd"/><stop offset="0.7444" stop-color="#009fcb"/><stop offset="0.7500" stop-color="#009fcb"/><stop offset="0.7519" stop-color="#0082dd"/><stop offset="0.7537" stop-color="#0000c9"/><stop offset="0.7575" stop-color="#0000c9"/><stop offset="0.7594" stop-color="#007ddd"/><stop offset="0.7631" stop-color="#0085dd"/><stop offset="0.7706" stop-color="#0085dd"/><stop offset="0.7725" stop-color="#0078dd"/><stop offset="0.7800" stop-color="#0078dd"/><stop offset="0.7818" stop-color="#0090dd"/><stop offset="0.7837" stop-color="#009cd3"/><stop offset="0.7912" stop-color="#009cd3"/><stop offset="0.7931" stop-color="#0000c9"/><stop offset="0.7949" stop-color="#0000c9"/><stop offset="0.7968" stop-color="#0000dd"/><stop offset="0.7987" stop-color="#00aaab"/><stop offset="0.8062" stop-color="#00aaab"/><stop offset="0.8081" stop-color="#009adb"/><stop offset="0.8099" stop-color="#002fdd"/><stop offset="0.8137" stop-color="#001cdd"/><stop offset="0.8155" stop-color="#001cdd"/><stop offset="0.8193" stop-color="#0009dd"/><stop offset="0.8212" stop-color="#0009dd"/><stop offset="0.8230" stop-color="#0000dd"/><stop offset="0.8249" stop-color="#0038dd"/><stop offset="0.8268" stop-color="#005ddd"/><stop offset="0.8287" stop-color="#0000ad"/><stop offset="0.8305" stop-color="#870098"/><stop offset="0.8904" stop-color="#7f0090"/><stop offset="0.9092" stop-color="#770088"/><stop offset="0.9110" stop-color="#700080"/><stop offset="0.9129" stop-color="#700080"/><stop offset="0.9148" stop-color="#670075"/><stop offset="0.9167" stop-color="#670075"/><stop offset="0.9185" stop-color="#5d006b"/><stop offset="0.9204" stop-color="#5d006b"/><stop offset="0.9223" stop-color="#540060"/><stop offset="0.9242" stop-color="#540060"/><stop offset="0.9260" stop-color="#4b0055"/><stop offset="0.9298" stop-color="#4b0055"/><stop offset="0.9316" stop-color="#41004b"/><stop offset="0.9354" stop-color="#41004b"/><stop offset="0.9373" stop-color="#380040"/><stop offset="0.9410" stop-color="#380040"/><stop offset="0.9429" stop-color="#2f0035"/><stop offset="0.9466" stop-color="#2f0035"/><stop offset="0.9485" stop-color="#25002b"/><stop offset="0.9541" stop-color="#25002b"/><stop offset="0.9560" stop-color="#1c0020"/><stop offset="0.9616" stop-color="#1c0020"/><stop offset="0.9635" stop-color="#130015"/><stop offset="0.9691" stop-color="#130015"/><stop offset="0.9710" stop-color="#09000b"/><stop offset="0.9785" stop-color="#09000b"/><stop offset="0.9803" stop-color="#000000"/><stop offset="0.9991" stop-color="#000000"/></linearGradient>
<linearGradient id="r18"><stop offset="0.0009" stop-color="#00ff00"/><stop offset="0.0028" stop-color="#00ff00"/><stop offset="0.0047" stop-color="#870098"/><stop offset="0.0066" stop-color="#870098"/><stop offset="0.0084" stop-color="#2f0035"/><stop offset="0.1526" stop-color="#2f0035"/><stop offset="0.1545" stop-color="#380040"/><stop offset="0.1657" stop-color="#380040"/><stop offset="0.1676" stop-color="#41004b"/><stop offset="0.1770" stop-color="#41004b"/><stop offset="0.1788" stop-color="#4b0055"/><stop offset="0.1826" stop-color="#4b0055"/><stop offset="0.1845" stop-color="#540060"/><stop offset="0.1882" stop-color="#540060"/><stop offset="0.1901" stop-color="#5d006b"/><stop offset="0.1919" stop-color="#5d006b"/><stop offset="0.1938" stop-color="#670075"/><stop offset="0.1957" stop-color="#670075"/><stop offset="0.1994" stop-color="#770088"/><stop offset="0.2219" stop-color="#870098"/><stop offset="0.2257" stop-color="#83009a"/><stop offset="0.2275" stop-color="#2300a6"/><stop offset="0.2294" stop-color="#0000c5"/><stop offset="0.2313" stop-color="#0000dd"/><stop offset="0.2331" stop-color="#002fdd"/><stop offset="0.2350" stop-color="#004bdd"/><stop offset="0.2369" stop-color="#005ddd"/><stop offset="0.2406" stop-color="#0070dd"/><stop offset="0.2463" stop-color="#0070dd"/><stop offset="0.2500" stop-color="#0078dd"/><stop offset="0.2594" stop-color="#007add"/><stop offset="0.2706" stop-color="#0092dd"/><stop offset="0.2856" stop-color="#009bd7"/><stop offset="0.3006" stop-color="#009fcb"/><stop offset="0.3305" stop-color="#00a3bf"/><stop offset="0.3624" stop-color="#00a7b3"/><stop offset="0.3811" stop-color="#00aaa8"/><stop offset="0.3998" stop-color="#00aaa3"/><stop offset="0.4148" stop-color="#00aa98"/><stop offset="0.4316" stop-color="#00aa98"/><stop offset="0.4485" stop-color="#00aa8b"/><stop offset="0.4691" stop-color="#00aa8b"/><stop offset="0.4728" stop-color="#00a97d"/><stop offset="0.4747" stop-color="#00a773"/><stop offset="0.4766" stop-color="#00a773"/><stop offset="0.4785" stop-color="#00a668"/><stop offset="0.4803" stop-color="#00a668"/><stop offset="0.4822" stop-color="#00a55d"/><stop offset="0.4860" stop-color="#00a55d"/><stop offset="0.4878" stop-color="#00a668"/><stop offset="0.4916" stop-color="#00a668"/><stop offset="0.4934" stop-color="#00a773"/><stop offset="0.5009" stop-color="#00a773"/><stop offset="0.5028" stop-color="#00a668"/><stop offset="0.5047" stop-color="#00a668"/><stop offset="0.5066" stop-color="#00a55d"/><stop offset="0.5084" stop-color="#00a55d"/><stop offset="0.5103" stop-color="#00a353"/><stop offset="0.5122" stop-color="#00a353"/><stop offset="0.5140" stop-color="#00a248"/><stop offset="0.5197" stop-color="#00a248"/><stop offset="0.5215" stop-color="#00a353"/><stop offset="0.5234" stop-color="#00a353"/><stop offset="0.5328" stop-color="#00aa88"/><stop offset="0.5552" stop-color="#00aa95"/><stop offset="0.5815" stop-color="#00a3bf"/><stop offset="0.5983" stop-color="#0098dd"/><stop offset="0.6245" stop-color="#0078dd"/><stop offset="0.6451" stop-color="#0013dd"/><stop offset="0.6470" stop-color="#0013dd"/><stop offset="0.6489" stop-color="#0009dd"/><stop offset="0.6507" stop-color="#0009dd"/><stop offset="0.6526" stop-color="#0000dd"/><stop offset="0.6938" stop-color="#0000b9"/><stop offset="0.7069" stop-color="#0300aa"/><stop offset="0.7088" stop-color="#0d00a8"/><stop offset="0.7107" stop-color="#0d00a8"/><stop offset="0.7163" stop-color="#2d00a4"/><stop offset="0.7182" stop-color="#2d00a4"/><stop offset="0.7257" stop-color="#58009f"/><stop offset="0.7275" stop-color="#58009f"/><stop offset="0.7313" stop-color="#6d009c"/><stop offset="0.7331" stop-color="#6d009c"/><stop offset="0.7369" stop-color="#83009a"/><stop offset="0.7406" stop-color="#870098"/><stop offset="0.7425" stop-color="#0013dd"/><stop offset="0.7444" stop-color="#009fcb"/><stop offset="0.7500" stop-color="#009fcb"/><stop offset="0.7519" stop-color="#0082dd"/><stop offset="0.7537" stop-color="#0000c9"/><stop offset="0.7575" stop-color="#0000c9"/><stop offset="0.7594" stop-color="#007ddd"/><stop offset="0.7631" stop-color="#0085dd"/><stop offset="0.7706" stop-color="#0085dd"/><stop offset="0.7725" stop-color="#0078dd"/><stop offset="0.7800" stop-color="#0078dd"/><stop offset="0.7818" stop-color="#0090dd"/><stop offset="0.7837" stop-color="#009cd3"/><stop offset="0.7912" stop-color="#009cd3"/><stop offset="0.7931" stop-color="#0000c9"/><stop offset="0.7949" stop-color="#0000c9"/><stop offset="0.7968" stop-color="#0000dd"/><stop offset="0.7987" stop-color="#00aaab"/><stop offset="0.8062" stop-color="#00aaab"/><stop offset="0.8081" stop-color="#009adb"/><stop offset="0.8099" stop-color="#002fdd"/><stop offset="0.8137" stop-color="#001cdd"/><stop offset="0.8155" stop-color="#001cdd"/><stop offset="0.8193" stop-color="#0009dd"/><stop offset="0.8212" stop-color="#0009dd"/><stop offset="0.8230" stop-color="#0000dd"/><stop offset="0.8249" stop-color="#0038dd"/><stop offset="0.8268" stop-color="#005ddd"/><stop offset="0.8287" stop-color="#0000ad"/><stop offset="0.8305" stop-color="#870098"/><stop offset="0.8904" stop-color="#7f0090"/><stop offset="0.9092" stop-color="#770088"/><stop offset="0.9110" stop-color="#700080"/><stop offset="0.9129" stop-color="#700080"/><stop offset="0.9148" stop-color="#670075"/><stop offset="0.9167" stop-color="#670075"/><stop offset="0.9185" stop-color="#5d006b"/><stop offset="0.9204" stop-color="#5d006b"/><stop offset="0.9223" stop-color="#540060"/><stop offset="0.9242" stop-color="#540060"/><stop offset="0.9260" stop-color="#4b0055"/><stop offset="0.9298" stop-color="#4b0055"/><stop offset="0.9316" stop-color="#41004b"/><stop offset="0.9354" stop-color="#41004b"/><stop offset="0.9373" stop-color="#380040"/><stop offset="0.9410" stop-color="#380040"/><stop offset="0.9429" stop-color="#2f0035"/><stop offset="0.9466" stop-color="#2f0035"/><stop offset="0.9485" stop-color="#25002b"/><stop offset="0.9541" stop-color="#25002b"/><stop offset="0.9560" stop-color="#1c0020"/><stop offset="0.9616" stop-color="#1c0020"/><stop offset="0.9635" stop-color="#130015"/><stop offset="0.9691" stop-color="#130015"/><stop offset="0.9710" stop-color="#09000b"/><stop offset="0.9785" stop-color="#09000b"/><stop offset="0.9803" stop-color="#000000"/><stop offset="0.9991" stop-color="#000000"/></linearGradient>
<linearGradient id="r19"><stop offset="0.0009" stop-color="#00ff00"/><stop offset="0.0028" stop-color="#00ff00"/><stop offset="0.0047" stop-color="#870098"/><stop offset="0.0066" stop-color="#870098"/><stop offset="0.0084" stop-color="#2f0035"/><stop offset="0.0440" stop-color="#2f0035"/><stop offset="0.0459" stop-color="#25002b"/><stop offset="0.1938" stop-color="#25002b"/><stop offset="0.1957" stop-color="#2f0035"/><stop offset="0.2406" stop-color="#2f0035"/><stop offset="0.2425" stop-color="#380040"/><stop offset="0.2650" stop-color="#380040"/><stop offset="0.2669" stop-color="#41004b"/><stop offset="0.8343" stop-color="#41004b"/><stop offset="0.8361" stop-color="#380040"/><stop offset="0.8624" stop-color="#380040"/><stop offset="0.8642" stop-color="#2f0035"/><stop offset="0.8886" stop-color="#2f0035"/><stop offset="0.8904" stop-color="#25002b"/><stop offset="0.9073" stop-color="#25002b"/><stop offset="0.9092" stop-color="#1c0020"/><stop offset="0.9279" stop-color="#1c0020"/><stop offset="0.9298" stop-color="#130015"/><stop offset="0.9429" stop-color="#130015"/><stop offset="0.9448" stop-color="#09000b"/><stop offset="0.9579" stop-color="#09000b"/><stop offset="0.9597" stop-color="#000000"/><stop offset="0.9991" stop-color="#000000"/></linearGradient>
<linearGradient id="r20"><stop offset="0.0009" stop-color="#00ff00"/><stop offset="0.0028" stop-color="#00ff00"/><stop offset="0.0047" stop-color="#870098"/><stop offset="0.0066" stop-color="#870098"/><stop offset="0.0084" stop-color="#130015"/><stop offset="0.1938" stop-color="#130015"/><stop offset="0.1957" stop-color="#1c0020"/><stop offset="0.8773" stop-color="#1c0020"/><stop offset="0.8792" stop-color="#130015"/><stop offset="0.9148" stop-color="#130015"/><stop offset="0.9167" stop-color="#09000b"/><stop offset="0.9466" stop-color="#09000b"/><stop offset="0.9485" stop-color="#000000"/><stop offset="0.9991" stop-color="#000000"/></linearGradient>
<linearGradient id="r21"><stop offset="0.0009" stop-color="#00ff00"/><stop offset="0.0028" stop-color="#00ff00"/><stop offset="0.0047" stop-color="#870098"/><stop offset="0.0066" stop-color="#870098"/><stop offset="0.0084" stop-color="#540060"/><stop offset="0.0665" stop-color="#540060"/><stop offset="0.0684" stop-color="#5d006b"/><stop offset="0.1039" stop-color="#5d006b"/><stop offset="0.1058" stop-color="#670075"/><stop offset="0.1320" stop-color="#670075"/><stop offset="0.1339" stop-color="#700080"/><stop offset="0.1376" stop-color="#700080"/><stop offset="0.1395" stop-color="#770088"/><stop offset="0.1770" stop-color="#810092"/><stop offset="0.1882" stop-color="#870098"/><stop offset="0.1901" stop-color="#6d009c"/><stop offset="0.1919" stop-color="#2d00a4"/><stop offset="0.1938" stop-color="#0000b1"/><stop offset="0.1976" stop-color="#0000d1"/><stop offset="0.1994" stop-color="#0009dd"/><stop offset="0.2013" stop-color="#002fdd"/><stop offset="0.2032" stop-color="#005ddd"/><stop offset="0.2051" stop-color="#007ddd"/><stop offset="0.2107" stop-color="#0095dd"/><stop offset="0.2238" stop-color="#00a6b7"/><stop offset="0.2275" stop-color="#00aa8d"/><stop offset="0.2313" stop-color="#009c00"/><stop offset="0.2331" stop-color="#00aa00"/><stop offset="0.2463" stop-color="#00ba00"/><stop offset="0.2800" stop-color="#00cf00"/><stop offset="0.3193" stop-color="#00ff00"/><stop offset="0.3212" stop-color="#0fff00"/><stop offset="0.3230" stop-color="#0fff00"/><stop offset="0.3249" stop-color="#1dff00"/><stop offset="0.3343" stop-color="#1dff00"/><stop offset="0.3361" stop-color="#2cff00"/><stop offset="0.3474" stop-color="#2cff00"/><stop offset="0.3493" stop-color="#1dff00"/><stop offset="0.3530" stop-color="#1dff00"/><stop offset="0.3549" stop-color="#0fff00"/><stop offset="0.3605" stop-color="#0fff00"/><stop offset="0.3624" stop-color="#00ff00"/><stop offset="0.3867" stop-color="#00ff00"/><stop offset="0.3886" stop-color="#0fff00"/><stop offset="0.3923" stop-color="#0fff00"/><stop offset="0.3942" stop-color="#1dff00"/><stop offset="0.3961" stop-color="#1dff00"/><stop offset="0.3979" stop-color="#2cff00"/><stop offset="0.4167" stop-color="#2cff00"/><stop offset="0.4185" stop-color="#1dff00"/><stop offset="0.4223" stop-color="#1dff00"/><stop offset="0.4242" stop-color="#0fff00"/><stop offset="0.4279" stop-color="#0fff00"/><stop offset="0.4298" stop-color="#00ff00"/><stop offset="0.5365" stop-color="#00f400"/><stop offset="0.5665" stop-color="#00e700"/><stop offset="0.6077" stop-color="#00ac00"/><stop offset="0.6189" stop-color="#009a00"/><stop offset="0.6227" stop-color="#009b13"/><stop offset="0.6320" stop-color="#00a97d"/><stop offset="0.6358" stop-color="#00aa90"/><stop offset="0.6545" stop-color="#00a4bb"/><stop offset="0.6620" stop-color="#009ecf"/><stop offset="0.6770" stop-color="#0095dd"/><stop offset="0.7069" stop-color="#0078dd"/><stop offset="0.7219" stop-color="#002fdd"/><stop offset="0.7238" stop-color="#002fdd"/><stop offset="0.7257" stop-color="#0025dd"/><stop offset="0.7275" stop-color="#0025dd"/><stop offset="0.7294" stop-color="#001cdd"/><stop offset="0.7313" stop-color="#001cdd"/><stop offset="0.7350" stop-color="#0009dd"/><stop offset="0.7369" stop-color="#0009dd"/><stop offset="0.7388" stop-color="#0000dd"/><stop offset="0.7406" stop-color="#0000dd"/><stop offset="0.7425" stop-color="#0009dd"/><stop offset="0.7444" stop-color="#0080dd"/><stop offset="0.7463" stop-color="#0092dd"/><stop offset="0.7500" stop-color="#0092dd"/><stop offset="0.7519" stop-color="#0067dd"/><stop offset="0.7537" stop-color="#0013dd"/><stop offset="0.7575" stop-color="#0013dd"/><stop offset="0.7594" stop-color="#002fdd"/><stop offset="0.7612" stop-color="#005ddd"/><stop offset="0.7818" stop-color="#005ddd"/><stop offset="0.7856" stop-color="#0013dd"/><stop offset="0.7912" stop-color="#0013dd"/><stop offset="0.7931" stop-color="#0098dd"/><stop offset="0.7949" stop-color="#0098dd"/><stop offset="0.7968" stop-color="#0070dd"/><stop offset="0.7987" stop-color="#002fdd"/><stop offset="0.8006" stop-color="#0080dd"/><stop offset="0.8024" stop-color="#0092dd"/><stop offset="0.8043" stop-color="#007ddd"/><stop offset="0.8062" stop-color="#0013dd"/><stop offset="0.8212" stop-color="#0013dd"/><stop offset="0.8230" stop-color="#007ddd"/><stop offset="0.8249" stop-color="#0085dd"/><stop offset="0.8268" stop-color="#0013dd"/><stop offset="0.8287" stop-color="#0000dd"/><stop offset="0.8755" stop-color="#0000cd"/><stop offset="0.8942" stop-color="#0000bd"/><stop offset="0.8998" stop-color="#0000ad"/><stop offset="0.9036" stop-color="#2300a6"/><stop offset="0.9054" stop-color="#2d00a4"/><stop offset="0.9092" stop-color="#58009f"/><stop offset="0.9110" stop-color="#63009e"/><stop offset="0.9129" stop-color="#78009b"/><stop offset="0.9148" stop-color="#83009a"/><stop offset="0.9260" stop-color="#850096"/><stop offset="0.9485" stop-color="#770088"/><stop offset="0.9541" stop-color="#5d006b"/><stop offset="0.9560" stop-color="#5d006b"/><stop offset="0.9579" stop-color="#540060"/><stop offset="0.9597" stop-color="#540060"/><stop offset="0.9616" stop-color="#4b0055"/><stop offset="0.9654" stop-color="#4b0055"/><stop offset="0.9672" stop-color="#41004b"/><stop offset="0.9691" stop-color="#41004b"/><stop offset="0.9710" stop-color="#380040"/><stop offset="0.9766" stop-color="#380040"/><stop offset="0.9785" stop-color="#2f0035"/><stop offset="0.9841" stop-color="#2f0035"/><stop offset="0.9860" stop-color="#25002b"/><stop offset="0.9916" stop-color="#25002b"/><stop offset="0.9934" stop-color="#1c0020"/><stop offset="0.9991" stop-color="#1c0020"/></linearGradient>
</defs>
<rect width="640" height="440" fill="#fff"/>
<g clip-path="url(#cl)"><rect x="48" y="28.00" width="267" height="368.00" fill="url(#l0)"/>
<rect x="48" y="44.73" width="267" height="351.27" fill="url(#l1)"/>
<rect x="48" y="61.45" width="267" height="334.55" fill="url(#l2)"/>
<rect x="48" y="78.18" width="267" height="317.82" fill="url(#l3)"/>
<rect x="48" y="94.91" width="267" height="301.09" fill="url(#l4)"/>
<rect x="48" y="111.64" width="267" height="284.36" fill="url(#l5)"/>
<rect x="48" y="128.36" width="267" height="267.64" fill="url(#l6)"/>
<rect x="48" y="145.09" width="267" height="250.91" fill="url(#l7)"/>
<rect x="48" y="161.82" width="267" height="234.18" fill="url(#l8)"/>
<rect x="48" y="178.55" width="267" height="217.45" fill="url(#l9)"/>
<rect x="48" y="195.27" width="267" height="200.73" fill="url(#l10)"/>
<rect x="48" y="212.00" width="267" height="184.00" fill="url(#l11)"/>
<rect x="48" y="228.73" width="267" height="167.27" fill="url(#l12)"/>
<rect x="48" y="245.45" width="267" height="150.55" fill="url(#l13)"/>
<rect x="48" y="262.18" width="267" height="133.82" fill="url(#l14)"/>
<rect x="48" y="278.91" width="267" height="117.09" fill="url(#l15)"/>
<rect x="48" y="295.64" width="267" height="100.36" fill="url(#l16)"/>
<rect x="48" y="312.36" width="267" height="83.64" fill="url(#l17)"/>
<rect x="48" y="329.09" width="267" height="66.91" fill="url(#l18)"/>
<rect x="48" y="345.82" width="267" height="50.18" fill="url(#l19)"/>
<rect x="48" y="362.55" width="267" height="33.45" fill="url(#l20)"/>
<rect x="48" y="379.27" width="267" height="16.73" fill="url(#l21)"/></g>
<g clip-path="url(#cr)"><rect x="328" y="28.00" width="267" height="368.00" fill="url(#r0)"/>
<rect x="328" y="44.73" width="267" height="351.27" fill="url(#r1)"/>
<rect x="328" y="61.45" width="267" height="334.55" fill="url(#r2)"/>
<rect x="328" y="78.18" width="267" height="317.82" fill="url(#r3)"/>
<rect x="328" y="94.91" width="267" height="301.09" fill="url(#r4)"/>
<rect x="328" y="111.64" width="267" height="284.36" fill="url(#r5)"/>
<rect x="328" y="128.36" width="267" height="267.64" fill="url(#r6)"/>
<rect x="328" y="145.09" width="267" height="250.91" fill="url(#r7)"/>
<rect x="328" y="161.82" width="267" height="234.18" fill="url(#r8)"/>
<rect x="328" y="178.55" width="267" height="217.45" fill="url(#r9)"/>
<rect x="328" y="195.27" width="267" height="200.73" fill="url(#r10)"/>
<rect x="328" y="212.00" width="267" height="184.00" fill="url(#r11)"/>
<rect x="328" y="228.73" width="267" height="167.27" fill="url(#r12)"/>
<rect x="328" y="245.45" width="267" height="150.55" fill="url(#r13)"/>
<rect x="328" y="262.18" width="267" height="133.82" fill="url(#r14)"/>
<rect x="328" y="278.91" width="267" height="117.09" fill="url(#r15)"/>
<rect x="328" y="295.64" width="267" height="100.36" fill="url(#r16)"/>
<rect x="328" y="312.36" width="267" height="83.64" fill="url(#r17)"/>
<rect x="328" y="329.09" width="267" height="66.91" fill="url(#r18)"/>
<rect x="328" y="345.82" width="267" height="50.18" fill="url(#r19)"/>
<rect x="328" y="362.55" width="267" height="33.45" fill="url(#r20)"/>
<rect x="328" y="379.27" width="267" height="16.73" fill="url(#r21)"/></g>
<g><rect x="48" y="35.86" width="2.2" height="1" fill="#fff" opacity=".4"/><rect x="328" y="35.86" width="2.2" height="1" fill="#fff" opacity=".4"/><rect x="48" y="52.59" width="2.2" height="1" fill="#fff" opacity=".4"/><rect x="328" y="52.59" width="2.2" height="1" fill="#fff" opacity=".4"/><rect x="48" y="69.32" width="2.2" height="1" fill="#fff" opacity=".4"/><rect x="328" y="69.32" width="2.2" height="1" fill="#fff" opacity=".4"/><rect x="48" y="86.05" width="2.2" height="1" fill="#fff" opacity=".4"/><rect x="328" y="86.05" width="2.2" height="1" fill="#fff" opacity=".4"/><rect x="48" y="102.77" width="2.2" height="1" fill="#fff" opacity=".4"/><rect x="328" y="102.77" width="2.2" height="1" fill="#fff" opacity=".4"/><rect x="48" y="119.50" width="2.2" height="1" fill="#fff" opacity=".4"/><rect x="328" y="119.50" width="2.2" height="1" fill="#fff" opacity=".4"/><rect x="48" y="136.23" width="2.2" height="1" fill="#fff" opacity=".4"/><rect x="328" y="136.23" width="2.2" height="1" fill="#fff" opacity=".4"/><rect x="48" y="152.95" width="2.2" height="1" fill="#fff" opacity=".4"/><rect x="328" y="152.95" width="2.2" height="1" fill="#fff" opacity=".4"/><rect x="48" y="169.68" width="2.2" height="1" fill="#fff" opacity=".4"/><rect x="328" y="169.68" width="2.2" height="1" fill="#fff" opacity=".4"/><rect x="48" y="186.41" width="2.2" height="1" fill="#fff" opacity=".4"/><rect x="328" y="186.41" width="2.2" height="1" fill="#fff" opacity=".4"/><rect x="48" y="203.14" width="2.2" height="1" fill="#fff" opacity=".4"/><rect x="328" y="203.14" width="2.2" height="1" fill="#fff" opacity=".4"/><rect x="48" y="219.86" width="2.2" height="1" fill="#fff" opacity=".4"/><rect x="328" y="219.86" width="2.2" height="1" fill="#fff" opacity=".4"/><rect x="48" y="236.59" width="2.2" height="1" fill="#fff" opacity=".4"/><rect x="328" y="236.59" width="2.2" height="1" fill="#fff" opacity=".4"/><rect x="48" y="253.32" width="2.2" height="1" fill="#fff" opacity=".4"/><rect x="328" y="253.32" width="2.2" height="1" fill="#fff" opacity=".4"/><rect x="48" y="270.05" width="2.2" height="1" fill="#fff" opacity=".4"/><rect x="328" y="270.05" width="2.2" height="1" fill="#fff" opacity=".4"/><rect x="48" y="286.77" width="2.2" height="1" fill="#fff" opacity=".4"/><rect x="328" y="286.77" width="2.2" height="1" fill="#fff" opacity=".4"/><rect x="48" y="303.50" width="2.2" height="1" fill="#fff" opacity=".4"/><rect x="328" y="303.50" width="2.2" height="1" fill="#fff" opacity=".4"/><rect x="48" y="320.23" width="2.2" height="1" fill="#fff" opacity=".4"/><rect x="328" y="320.23" width="2.2" height="1" fill="#fff" opacity=".4"/><rect x="48" y="336.95" width="2.2" height="1" fill="#fff" opacity=".4"/><rect x="328" y="336.95" width="2.2" height="1" fill="#fff" opacity=".4"/><rect x="48" y="353.68" width="2.2" height="1" fill="#fff" opacity=".4"/><rect x="328" y="353.68" width="2.2" height="1" fill="#fff" opacity=".4"/><rect x="48" y="370.41" width="2.2" height="1" fill="#fff" opacity=".4"/><rect x="328" y="370.41" width="2.2" height="1" fill="#fff" opacity=".4"/><rect x="48" y="387.14" width="2.2" height="1" fill="#fff" opacity=".4"/><rect x="328" y="387.14" width="2.2" height="1" fill="#fff" opacity=".4"/></g>
<g clip-path="url(#cl)" fill="none" stroke="#fff" stroke-width="2.1" stroke-linejoin="round" stroke-linecap="square"><path d="M48.4,127.0 49.2,301.5 89.8,301.5 95.5,300.0 96.3,299.6 99.5,296.6 100.3,295.5 102.8,290.3 104.4,285.3 105.2,282.5 108.5,268.5 110.9,256.9 113.3,242.6 115.8,232.1 119.0,221.8 121.4,216.3 122.3,215.1 123.1,214.1 124.7,212.6 129.6,209.1 130.4,208.3 131.2,208.0 132.0,207.0 132.8,206.7 134.4,205.0 135.2,204.9 136.1,204.6 136.9,203.9 137.7,203.8 140.1,202.8 141.7,201.5 142.5,202.4 143.4,201.0 144.2,200.8 145.0,200.1 146.6,199.6 147.4,199.0 149.0,199.3 149.8,198.8 151.5,198.9 152.3,198.5 153.1,198.5 153.9,196.7 154.7,196.2 156.3,194.4 157.2,194.5 158.0,193.6 160.4,196.2 161.2,196.8 162.0,196.2 162.8,195.9 165.3,191.6 166.1,191.2 167.7,191.2 169.3,193.7 170.1,194.4 170.9,194.0 171.8,194.1 173.4,192.6 175.0,189.3 176.6,188.0 177.4,189.2 179.1,190.3 179.9,192.3 180.7,190.9 181.5,192.5 182.3,192.8 183.1,192.0 183.9,192.0 184.7,191.8 185.6,192.4 186.4,193.6 187.2,195.3 188.0,197.4 188.8,198.9 189.6,201.6 191.2,202.8 192.1,203.8 192.9,203.1 193.7,203.2 194.5,204.2 196.1,206.9 197.7,210.2 198.5,210.7 200.2,212.9 201.8,214.4 202.6,216.1 203.4,215.6 204.2,217.9 205.0,218.5 205.8,220.1 206.7,220.6 207.5,221.9 208.3,223.6 209.1,226.3 209.9,226.6 211.5,230.7 212.3,230.9 214.0,234.6 214.8,235.6 215.6,237.4 216.4,238.5 218.8,243.6 219.6,244.6 222.9,251.7 223.7,252.2 224.5,254.5 225.3,255.8 226.1,256.2 226.9,257.7 227.8,258.7 229.4,259.9 233.4,264.3 234.3,264.7 244.8,277.2 245.6,272.7 246.4,230.2 247.2,219.9 248.0,263.2 248.9,257.5 249.7,218.7 250.5,279.5 251.3,235.0 252.1,234.4 252.9,251.4 253.7,260.1 254.5,260.6 255.4,261.6 256.2,245.9 257.0,240.1 257.8,236.2 258.6,202.4 260.2,236.0 261.0,209.0 261.8,264.7 262.7,269.7 263.5,247.5 264.3,280.1 265.1,280.4 265.9,273.2 266.7,270.9 267.5,261.8 268.3,286.6 270.8,287.6 274.0,289.2 274.8,289.5 276.5,290.4 278.9,291.2 279.7,291.7 283.8,293.4 286.2,294.6 288.6,296.4 295.1,300.2 296.7,300.7 302.4,303.2 305.7,304.2 307.3,304.3 308.9,304.7 314.6,305.1"/>
<path d="M48.4,128.2 49.2,300.6 89.8,300.6 95.5,299.2 96.3,298.8 99.5,295.8 100.3,294.6 102.8,289.5 105.2,281.8 107.6,271.5 110.9,256.3 114.1,238.9 116.6,230.0 119.0,222.7 122.3,215.7 123.1,214.7 127.1,211.1 127.9,210.7 131.2,208.4 132.0,207.3 132.8,207.4 133.6,206.4 134.4,206.1 135.2,205.1 136.9,204.4 137.7,203.3 138.5,203.7 139.3,202.6 140.1,203.1 140.9,202.7 141.7,201.9 142.5,202.9 143.4,202.3 144.2,201.2 145.8,199.9 147.4,199.7 148.2,198.7 149.0,198.8 149.8,199.5 150.7,102.4 151.5,198.4 152.3,198.7 153.1,198.5 155.5,195.1 156.3,194.3 157.2,194.8 158.8,194.9 159.6,195.6 160.4,196.0 161.2,197.2 162.0,196.7 162.8,195.2 163.6,194.7 164.5,192.9 165.3,191.9 166.1,191.6 166.9,190.8 168.5,193.0 170.9,195.2 173.4,192.6 174.2,190.1 175.0,188.9 175.8,188.3 176.6,189.4 177.4,189.2 178.3,189.9 179.1,191.3 179.9,191.4 180.7,192.2 182.3,191.2 183.9,190.9 184.7,190.4 186.4,192.8 187.2,194.5 188.0,195.5 188.8,198.6 189.6,199.8 190.4,200.5 191.2,202.2 192.1,202.3 192.9,202.1 193.7,202.7 194.5,202.4 195.3,204.4 196.1,205.6 197.7,209.2 198.5,210.2 199.4,211.7 200.2,212.2 201.0,213.9 201.8,214.5 202.6,214.7 203.4,216.7 204.2,216.8 206.7,220.7 207.5,221.1 208.3,223.7 209.1,224.5 210.7,228.2 212.3,230.7 214.0,234.4 214.8,235.2 215.6,237.0 218.8,242.2 219.6,244.3 222.1,249.2 222.9,251.5 223.7,252.7 224.5,254.6 226.1,255.8 227.8,258.2 228.6,258.4 229.4,259.8 230.2,260.2 231.0,261.5 231.8,262.3 232.6,263.1 233.4,263.6 235.1,265.1 235.9,266.4 238.3,269.0 244.8,276.9 245.6,277.5 246.4,277.6 247.2,265.9 248.0,226.2 248.9,265.3 249.7,254.7 250.5,279.1 251.3,234.5 252.1,272.0 252.9,264.0 253.7,220.2 254.5,243.7 255.4,216.4 256.2,230.5 257.0,220.8 257.8,273.6 258.6,238.3 259.4,242.4 260.2,218.0 261.0,254.7 261.8,235.9 262.7,276.8 263.5,259.8 264.3,274.6 265.1,278.4 265.9,268.6 266.7,272.8 267.5,260.6 268.3,286.0 276.5,289.8 278.1,290.2 280.5,291.4 285.4,293.3 287.8,295.1 291.9,297.3 293.5,298.6 296.7,300.2 298.4,300.6 300.0,301.4 302.4,302.2 304.0,303.0 305.7,303.4 307.3,303.5 308.1,303.8 311.3,303.9 312.2,304.2 314.6,304.2"/>
<path d="M48.4,129.4 49.2,301.2 89.8,301.2 95.5,299.8 96.3,299.4 99.5,296.4 100.3,295.3 102.8,290.2 103.6,287.9 105.2,282.5 107.6,272.4 114.1,241.3 115.0,238.3 116.6,232.8 119.8,223.9 123.1,217.6 123.9,216.6 127.9,213.1 130.4,211.5 132.0,210.0 132.8,210.1 135.2,207.6 136.9,206.8 137.7,205.8 138.5,205.8 139.3,204.6 140.1,204.5 140.9,204.0 141.7,204.8 143.4,204.0 144.2,204.0 145.0,203.3 145.8,202.2 146.6,202.3 148.2,200.3 149.0,200.5 149.8,200.4 151.5,201.1 152.3,201.0 153.9,200.4 155.5,198.5 157.2,195.9 158.0,195.8 158.8,196.6 160.4,196.6 161.2,197.3 162.0,198.8 163.6,197.7 164.5,197.6 166.1,193.4 166.9,193.5 167.7,193.0 168.5,192.9 169.3,194.2 170.1,195.1 170.9,195.7 171.8,196.8 172.6,196.0 173.4,195.9 175.8,191.0 176.6,191.0 177.4,190.3 178.3,190.6 179.1,192.1 179.9,192.4 180.7,193.1 181.5,193.4 182.3,192.7 183.1,192.6 184.7,192.1 185.6,192.1 186.4,192.3 187.2,192.9 188.0,195.4 188.8,196.9 189.6,199.8 190.4,201.4 191.2,202.3 192.1,204.0 192.9,203.4 193.7,203.3 194.5,204.3 195.3,204.9 196.1,206.0 198.5,211.1 199.4,211.9 201.0,214.3 201.8,216.0 202.6,216.4 204.2,217.8 205.0,219.4 205.8,220.1 206.7,221.2 207.5,222.9 208.3,224.0 209.9,227.9 211.5,230.2 213.2,233.5 214.8,236.1 217.2,241.6 218.0,242.8 218.8,243.3 220.5,247.7 221.3,248.5 222.1,250.9 223.7,253.3 224.5,255.3 226.1,257.0 226.9,258.8 227.8,259.0 228.6,259.6 230.2,261.9 231.0,261.8 233.4,264.9 235.1,266.1 235.9,267.3 244.8,278.0 245.6,267.7 246.4,224.4 247.2,202.3 248.0,201.9 248.9,202.8 251.3,224.9 252.1,222.6 253.7,211.9 255.4,204.7 257.0,199.9 257.8,200.1 258.6,202.1 260.2,208.7 261.0,208.2 261.8,205.5 262.7,210.5 263.5,226.4 264.3,261.1 265.1,263.9 265.9,265.8 266.7,259.4 267.5,260.1 268.3,287.0 272.4,288.8 273.2,289.0 274.8,290.0 275.6,290.0 276.5,290.6 281.3,292.3 284.6,293.8 294.3,299.8 298.4,301.4 299.2,301.9 300.8,302.3 301.6,302.8 303.2,303.3 304.0,303.8 305.7,304.3 308.9,304.4 312.2,304.9 313.8,304.9 314.6,305.1"/>
<path d="M48.4,130.6 49.2,300.4 89.8,300.4 95.5,299.0 96.3,298.6 99.5,295.7 100.3,294.5 102.8,289.5 103.6,287.2 105.2,282.0 107.6,272.0 111.7,253.1 115.0,239.9 117.4,232.6 120.6,224.9 121.4,223.2 124.7,218.0 126.3,216.3 127.9,215.0 129.6,213.4 130.4,213.2 132.0,211.6 132.8,211.3 134.4,210.3 135.2,209.2 136.1,209.3 136.9,208.9 138.5,206.5 139.3,206.4 140.1,205.7 140.9,205.5 141.7,206.0 142.5,205.4 144.2,204.8 145.0,203.9 147.4,202.1 148.2,202.4 149.0,201.7 149.8,202.3 150.7,202.2 151.5,202.7 152.3,201.8 153.1,202.1 153.9,201.1 154.7,200.9 156.3,198.1 158.0,197.3 158.8,197.3 161.2,199.5 162.0,199.2 162.8,199.3 163.6,198.6 164.5,197.3 166.1,195.4 166.9,194.7 167.7,193.4 168.5,194.6 169.3,195.1 170.1,197.0 171.8,197.4 172.6,197.4 173.4,195.9 174.2,195.2 175.8,192.1 176.6,191.2 177.4,191.5 179.1,193.0 179.9,193.4 180.7,194.9 181.5,195.1 182.3,194.8 183.1,193.2 184.7,191.3 185.6,191.0 186.4,191.3 187.2,192.7 190.4,200.4 192.1,202.4 192.9,202.5 193.7,202.2 194.5,202.5 195.3,204.1 196.1,204.7 197.7,208.7 201.0,213.9 201.8,214.1 203.4,216.8 204.2,217.0 205.0,219.1 205.8,219.4 209.9,227.5 210.7,228.6 212.3,232.3 213.2,233.1 214.0,235.1 214.8,235.8 215.6,237.6 216.4,239.0 217.2,239.9 218.0,242.6 218.8,242.7 219.6,244.0 222.1,250.2 222.9,251.2 223.7,253.3 225.3,256.4 226.1,256.5 226.9,257.5 227.8,259.1 228.6,259.4 229.4,260.7 230.2,260.7 231.0,262.1 232.6,263.3 234.3,265.3 235.1,266.0 235.9,267.1 236.7,267.7 238.3,269.9 239.9,271.6 244.8,277.6 245.6,272.0 246.4,272.5 247.2,246.3 248.0,262.0 248.9,249.5 249.7,274.1 250.5,219.6 251.3,268.9 252.1,241.8 252.9,262.0 253.7,220.6 254.5,232.6 255.4,271.0 256.2,214.3 257.0,204.3 257.8,207.9 259.4,269.9 260.2,267.1 261.0,213.5 262.7,268.3 263.5,232.7 264.3,268.2 265.9,275.3 266.7,272.1 267.5,276.0 268.3,286.5 273.2,288.5 276.5,290.0 279.7,291.1 280.5,291.6 285.4,293.5 289.4,296.3 294.3,299.1 299.2,301.2 300.0,301.3 300.8,301.9 304.9,303.4 310.5,304.1 313.0,304.1 313.8,304.4 314.6,304.3"/>
<path d="M48.4,131.8 49.2,301.0 89.8,301.0 95.5,299.6 96.3,299.2 99.5,296.3 100.3,295.2 102.8,290.2 105.2,282.8 107.6,272.9 111.7,254.5 115.0,242.6 118.2,234.0 122.3,225.5 126.3,219.2 127.1,218.3 127.9,217.8 128.7,216.8 130.4,215.4 132.0,214.2 134.4,212.9 136.9,210.7 138.5,210.3 139.3,209.8 140.1,208.6 140.9,208.3 142.5,207.0 143.4,207.5 144.2,206.3 145.0,205.8 145.8,206.0 147.4,204.5 148.2,204.8 149.0,204.9 149.8,204.3 150.7,204.9 151.5,204.9 152.3,150.0 153.1,203.8 155.5,200.6 156.3,200.9 157.2,199.6 159.6,200.6 160.4,200.7 161.2,201.3 162.0,201.5 162.8,200.6 163.6,200.1 164.5,198.1 165.3,197.0 166.1,196.8 166.9,196.8 167.7,197.2 169.3,198.3 170.1,199.3 170.9,199.8 171.8,199.4 172.6,198.0 173.4,197.3 174.2,196.2 175.0,194.1 175.8,194.5 176.6,193.9 177.4,194.1 179.1,196.2 179.9,196.4 180.7,197.0 182.3,195.8 183.1,194.0 183.9,193.5 185.6,191.8 186.4,191.6 190.4,201.5 191.2,202.2 193.7,202.0 194.5,202.5 196.1,204.9 199.4,212.6 200.2,214.0 201.8,216.2 202.6,216.4 203.4,217.0 204.2,218.7 205.0,219.8 205.8,221.8 206.7,222.2 208.3,224.9 211.5,231.5 212.3,232.0 214.0,236.1 214.8,237.1 215.6,238.6 216.4,239.2 217.2,242.0 218.0,242.7 219.6,245.4 222.1,251.6 225.3,257.4 226.1,258.5 226.9,258.6 231.0,263.2 231.8,263.0 232.6,264.6 233.4,265.4 234.3,265.8 236.7,269.0 239.9,272.6 244.8,278.7 245.6,273.7 246.4,262.8 247.2,221.9 248.0,279.0 248.9,251.9 249.7,278.8 250.5,273.2 251.3,226.8 252.1,242.6 252.9,253.9 253.7,244.8 254.5,217.2 255.4,254.8 256.2,234.4 257.0,225.5 257.8,252.3 258.6,240.0 259.4,222.8 260.2,215.3 261.0,270.0 261.8,210.5 262.7,280.6 263.5,239.9 264.3,264.8 265.1,278.7 265.9,274.6 266.7,263.4 267.5,280.7 268.3,287.5 273.2,289.6 278.9,291.6 282.9,293.4 284.6,293.8 294.3,299.8 304.0,303.8 308.1,304.6 314.6,305.1"/>
<path d="M48.4,133.0 49.2,301.4 89.8,301.4 95.5,300.0 96.3,299.6 99.5,296.8 100.3,295.7 102.8,290.8 103.6,288.5 105.2,283.4 111.7,255.8 115.8,242.8 119.0,235.4 123.9,226.2 127.9,220.0 129.6,218.6 130.4,218.2 131.2,217.1 132.0,216.7 133.6,215.4 135.2,214.6 136.1,213.6 136.9,213.1 137.7,213.7 138.5,212.5 140.1,211.2 141.7,209.6 143.4,209.3 144.2,208.5 145.0,208.2 145.8,207.7 146.6,206.5 147.4,206.3 148.2,206.8 149.0,205.9 149.8,206.7 150.7,206.5 151.5,207.3 152.3,206.1 153.1,206.7 154.7,203.6 156.3,202.5 158.0,202.0 158.8,201.9 159.6,203.5 160.4,203.7 161.2,203.1 162.0,203.7 162.8,202.6 164.5,201.0 166.1,198.0 167.7,198.4 168.5,198.9 169.3,200.3 170.1,201.0 171.8,201.4 172.6,200.7 174.2,197.6 175.8,196.5 176.6,194.9 177.4,195.8 178.3,197.5 179.1,197.9 179.9,199.1 180.7,198.7 181.5,199.2 182.3,198.3 183.1,196.4 183.9,195.9 184.7,194.4 185.6,193.4 186.4,192.9 187.2,193.2 188.0,194.6 188.8,197.6 189.6,199.3 190.4,201.8 192.1,202.7 192.9,201.9 194.5,202.8 195.3,203.9 196.9,207.3 199.4,213.1 200.2,214.3 201.0,215.0 201.8,216.8 203.4,218.9 204.2,218.8 207.5,224.5 208.3,225.4 210.7,230.6 211.5,233.2 214.0,236.3 214.8,238.3 215.6,239.3 217.2,242.6 218.0,243.5 219.6,247.5 220.5,248.0 222.1,251.8 222.9,253.1 223.7,255.4 224.5,256.8 225.3,257.9 226.9,259.5 227.8,260.9 228.6,260.9 229.4,262.5 230.2,262.9 231.0,262.9 232.6,265.5 233.4,266.1 239.1,272.5 244.8,279.5 245.6,271.3 247.2,265.4 248.0,252.3 248.9,267.0 249.7,256.3 250.5,220.9 251.3,248.9 252.1,261.1 252.9,263.8 253.7,215.2 254.5,248.5 255.4,206.2 256.2,240.3 257.0,238.7 257.8,208.5 260.2,250.2 261.0,217.1 261.8,249.9 262.7,215.9 263.5,277.2 264.3,272.4 265.1,272.1 265.9,266.5 266.7,275.6 267.5,264.2 268.3,288.1 276.5,291.5 277.3,248.1 278.1,248.1 278.9,292.3 284.6,294.5 295.9,301.1 297.6,301.6 304.0,304.4 304.9,304.7 312.2,305.4 314.6,305.8"/>
<path d="M48.4,134.2 49.2,300.8 89.8,300.8 95.5,299.4 96.3,299.0 99.5,296.2 100.3,295.1 102.8,290.2 103.6,288.0 105.2,282.9 111.7,255.9 112.5,253.2 116.6,242.1 119.8,235.4 123.1,230.0 124.7,226.5 128.7,220.3 131.2,217.9 132.0,217.9 132.8,216.8 133.6,216.6 134.4,215.1 135.2,215.3 136.1,214.4 138.5,213.3 139.3,212.3 140.1,211.7 140.9,211.5 141.7,210.2 142.5,210.2 143.4,209.5 144.2,209.2 145.0,208.4 145.8,208.7 146.6,207.2 149.0,206.8 149.8,207.1 150.7,207.9 152.3,207.4 153.1,206.5 154.7,204.0 155.5,204.1 157.2,202.7 158.0,202.7 159.6,204.1 162.0,204.1 162.8,202.5 163.6,202.3 164.5,200.4 165.3,199.4 166.1,198.7 166.9,198.5 168.5,200.3 169.3,201.0 170.1,201.3 170.9,202.2 173.4,199.6 174.2,197.8 175.0,197.3 175.8,196.5 177.4,196.5 178.3,198.4 179.1,198.8 179.9,199.5 180.7,199.7 181.5,199.2 182.3,197.6 183.1,196.9 183.9,195.1 185.6,193.6 186.4,193.7 187.2,195.0 188.0,195.7 190.4,201.0 193.7,201.2 194.5,202.1 195.3,202.5 196.9,205.6 197.7,208.7 198.5,210.0 199.4,212.6 201.0,215.0 201.8,216.6 203.4,218.3 205.0,220.7 207.5,223.7 208.3,226.4 209.9,228.9 210.7,231.3 211.5,231.9 212.3,233.0 214.0,237.1 216.4,239.7 218.8,245.5 219.6,246.6 220.5,248.7 222.1,251.3 223.7,255.3 225.3,257.5 226.1,258.3 226.9,260.1 227.8,260.2 230.2,263.1 231.8,264.6 232.6,264.6 233.4,265.9 235.9,268.4 244.8,279.4 245.6,268.0 246.4,262.2 247.2,249.7 248.9,277.0 249.7,265.8 250.5,222.9 251.3,233.9 252.1,274.4 252.9,242.7 253.7,247.9 254.5,237.5 255.4,230.7 256.2,256.8 257.0,203.0 257.8,243.3 258.6,231.4 259.4,232.7 260.2,267.7 261.0,276.5 262.7,227.1 263.5,236.5 264.3,266.4 265.1,279.1 265.9,267.1 266.7,263.7 267.5,262.7 268.3,288.0 277.3,291.6 278.1,291.7 282.9,293.4 283.8,294.0 284.6,294.0 295.9,300.7 297.6,301.1 298.4,301.7 299.2,301.8 302.4,303.3 305.7,304.4 307.3,304.4 309.7,304.8 311.3,304.7 312.2,305.0 314.6,305.3"/>
<path d="M48.4,135.4 49.2,301.6 89.8,301.6 95.5,300.2 96.3,299.9 99.5,297.1 100.3,296.0 102.8,291.1 103.6,289.0 105.2,283.9 107.6,274.3 110.9,260.0 112.5,254.9 116.6,244.9 120.6,237.4 123.1,233.6 125.5,228.5 127.9,224.5 129.6,222.3 132.8,219.3 133.6,219.1 136.1,216.6 138.5,215.7 140.1,214.0 141.7,212.9 142.5,212.9 143.4,212.4 144.2,211.2 145.0,211.2 145.8,210.3 146.6,209.9 147.4,210.0 148.2,209.2 149.8,209.4 151.5,209.9 153.1,209.0 153.9,207.7 154.7,207.2 156.3,204.7 157.2,205.5 158.0,204.3 160.4,206.5 161.2,206.0 162.0,206.1 162.8,205.7 163.6,204.9 164.5,202.8 165.3,201.3 166.1,201.3 166.9,200.7 167.7,200.8 168.5,201.3 169.3,202.7 170.1,202.7 170.9,203.9 171.8,203.9 172.6,203.4 173.4,202.4 174.2,200.4 175.0,199.5 175.8,198.9 177.4,198.4 178.3,199.1 179.9,201.2 180.7,201.8 183.1,199.5 183.9,198.3 184.7,196.3 185.6,196.3 186.4,195.5 187.2,195.1 188.8,197.4 189.6,200.1 190.4,201.4 191.2,202.3 192.1,202.1 192.9,203.1 193.7,201.7 196.1,204.9 196.9,207.4 198.5,210.8 199.4,214.0 201.0,216.5 201.8,217.1 202.6,218.3 203.4,218.8 204.2,221.0 205.0,221.4 205.8,223.1 206.7,223.9 208.3,226.6 209.1,228.8 209.9,229.8 210.7,231.5 211.5,233.8 213.2,236.1 214.8,239.4 217.2,243.2 218.0,245.2 218.8,246.3 219.6,248.8 220.5,249.0 221.3,251.5 222.1,252.4 222.9,254.7 226.1,260.5 227.8,261.6 230.2,264.2 231.8,265.5 234.3,268.2 235.1,268.7 235.9,269.9 236.7,270.7 238.3,272.9 244.8,280.7 245.6,280.6 246.4,279.9 247.2,261.1 248.0,261.3 248.9,266.3 249.7,240.6 250.5,278.5 251.3,247.9 252.1,271.3 252.9,238.1 253.7,279.5 254.5,258.3 255.4,209.4 256.2,238.5 257.0,215.2 257.8,227.8 258.6,232.8 259.4,266.4 260.2,239.5 261.0,278.1 261.8,220.5 262.7,213.3 263.5,234.4 264.3,280.0 265.1,275.2 265.9,276.2 266.7,278.6 267.5,267.9 268.3,289.0 273.2,291.1 274.0,291.3 274.8,291.8 275.6,291.9 282.9,294.6 283.8,294.7 286.2,295.8 289.4,297.8 290.2,298.5 291.1,298.7 292.7,299.9 294.3,300.6 295.1,301.3 304.0,304.8 306.5,305.4 309.7,305.5 314.6,306.1"/>
<path d="M48.4,136.6 49.2,300.5 89.8,300.5 95.5,299.2 96.3,298.8 99.5,296.0 100.3,294.9 102.8,290.2 103.6,288.0 105.2,283.0 107.6,273.5 110.9,259.3 112.5,254.7 117.4,243.9 123.1,234.8 126.3,228.0 128.7,224.6 129.6,222.9 131.2,221.2 132.0,220.7 132.8,219.4 133.6,219.0 134.4,218.2 136.1,217.6 136.9,216.6 137.7,216.0 138.5,215.9 140.1,214.6 140.9,214.3 142.5,212.4 143.4,212.6 144.2,212.0 145.0,210.7 148.2,209.1 150.7,209.4 151.5,210.5 152.3,209.3 154.7,207.2 156.3,206.1 157.2,205.1 158.0,205.6 158.8,204.9 160.4,206.6 162.0,206.2 162.8,205.6 163.6,203.7 166.1,200.7 166.9,200.7 167.7,201.0 169.3,203.1 170.9,204.0 172.6,203.3 175.0,199.1 175.8,198.3 177.4,199.0 179.9,201.6 180.7,201.9 181.5,201.6 182.3,200.5 183.9,197.3 184.7,196.5 186.4,195.7 187.2,195.8 188.0,197.4 189.6,198.0 190.4,200.1 191.2,201.4 192.1,201.6 192.9,202.0 193.7,201.4 194.5,201.7 195.3,202.6 197.7,208.0 199.4,212.6 201.0,216.0 202.6,216.9 205.0,221.4 205.8,222.3 206.7,222.6 208.3,226.2 209.9,228.8 210.7,230.8 211.5,232.0 212.3,234.2 213.2,234.9 214.0,236.9 214.8,238.0 215.6,240.3 216.4,241.0 218.0,244.0 219.6,248.0 221.3,250.4 223.7,255.7 224.5,256.7 225.3,258.5 226.1,259.7 226.9,259.6 227.8,260.9 228.6,261.5 229.4,263.1 230.2,263.4 231.0,264.0 233.4,266.3 235.9,269.4 236.7,270.0 244.8,279.9 245.6,270.4 246.4,273.7 247.2,220.6 248.0,211.2 248.9,265.6 249.7,240.1 250.5,240.5 251.3,246.8 252.1,275.4 252.9,239.1 253.7,237.3 254.5,220.8 255.4,219.7 256.2,255.2 257.0,222.4 257.8,210.9 258.6,210.5 259.4,268.7 260.2,279.1 261.0,233.6 261.8,264.8 262.7,241.2 263.5,229.4 264.3,273.4 265.1,276.7 265.9,274.0 266.7,266.8 268.3,288.4 270.0,288.9 274.8,290.9 276.5,291.3 277.3,291.8 281.3,293.0 283.8,293.9 284.6,294.0 288.6,296.3 291.9,298.4 295.9,300.6 296.7,300.9 297.6,301.4 303.2,303.4 304.0,303.9 308.1,304.6 314.6,305.1"/>
<path d="M48.4,137.8 49.2,301.3 89.8,301.3 95.5,300.0 96.3,299.6 99.5,296.8 100.3,295.8 102.8,291.1 103.6,288.9 105.2,284.0 107.6,274.5 110.9,260.5 112.5,256.4 118.2,245.2 123.1,238.1 127.1,229.7 130.4,224.7 131.2,223.9 132.0,222.7 134.4,221.0 136.1,219.1 136.9,219.0 137.7,218.3 139.3,217.7 140.1,216.7 140.9,216.6 143.4,214.4 144.2,214.5 145.0,213.1 145.8,212.1 146.6,212.0 148.2,211.1 149.0,211.0 149.8,211.4 150.7,211.3 151.5,212.5 153.1,211.1 153.9,210.0 154.7,209.8 157.2,206.8 158.0,207.2 158.8,206.8 159.6,207.0 160.4,208.1 161.2,80.0 162.0,208.2 162.8,207.4 163.6,207.1 164.5,205.8 165.3,203.8 166.1,202.6 166.9,202.9 167.7,202.6 168.5,203.8 169.3,204.5 170.1,205.9 171.8,206.3 172.6,204.9 173.4,204.3 175.0,201.1 175.8,201.4 176.6,199.8 178.3,201.2 179.9,203.8 180.7,204.1 182.3,203.6 183.9,200.4 184.7,199.7 186.4,197.3 187.2,198.1 188.0,197.8 188.8,199.2 189.6,198.9 190.4,200.9 191.2,202.4 192.1,202.9 192.9,202.2 193.7,203.1 194.5,203.3 195.3,203.1 196.1,204.5 198.5,211.3 200.2,215.1 202.6,219.0 204.2,221.1 205.8,224.0 207.5,225.1 210.7,232.9 211.5,234.0 212.3,235.7 213.2,236.7 214.0,238.8 214.8,239.6 215.6,241.3 218.0,245.3 218.8,247.9 219.6,248.9 221.3,251.6 222.9,255.5 225.3,259.8 226.1,261.0 227.8,262.6 229.4,263.9 230.2,264.3 231.8,266.6 232.6,267.1 235.1,269.6 244.8,281.2 245.6,267.7 246.4,224.4 247.2,202.3 248.0,201.9 248.9,202.8 251.3,224.9 252.1,222.6 253.7,211.9 255.4,204.7 257.0,199.9 257.8,200.1 258.6,202.1 260.2,208.7 261.0,208.2 261.8,205.5 262.7,210.5 263.5,226.4 264.3,261.1 265.1,263.9 265.9,265.8 266.7,259.4 267.5,260.1 268.3,289.6 271.6,290.7 273.2,291.5 274.0,291.6 275.6,292.1 278.1,293.1 281.3,293.9 285.4,295.4 286.2,296.0 288.6,297.2 289.4,297.9 290.2,298.2 292.7,299.6 295.1,301.2 296.7,301.8 297.6,302.3 299.2,302.6 300.0,303.2 303.2,304.5 306.5,305.4 308.9,305.5 309.7,305.9 310.5,305.6 314.6,306.2"/>
<path d="M48.4,139.0 49.2,300.9 89.8,300.9 95.5,299.6 96.3,299.2 99.5,296.5 100.3,295.4 102.8,290.8 103.6,288.6 105.2,283.8 107.6,274.4 110.9,260.6 111.7,258.6 113.3,255.3 119.0,245.7 123.1,240.4 124.7,236.5 127.9,229.8 128.7,228.8 130.4,226.0 132.0,223.7 133.6,222.4 134.4,222.2 135.2,221.3 136.9,220.1 137.7,219.0 138.5,219.0 139.3,218.6 140.1,218.1 140.9,217.0 141.7,217.0 144.2,215.3 145.0,214.2 145.8,213.4 147.4,212.8 149.0,212.4 149.8,211.9 150.7,212.8 151.5,212.3 152.3,212.7 153.9,210.5 154.7,209.9 156.3,207.8 157.2,208.5 158.0,208.0 158.8,208.2 159.6,208.7 160.4,209.8 161.2,210.1 162.8,208.6 164.5,206.1 165.3,205.2 166.1,203.4 166.9,203.3 167.7,203.8 169.3,206.3 170.1,207.0 171.8,206.6 172.6,205.1 173.4,204.5 175.0,201.4 178.3,202.5 179.9,205.0 180.7,204.6 181.5,204.5 182.3,202.9 183.1,202.0 185.6,198.6 186.4,197.9 187.2,199.0 188.0,198.9 188.8,200.3 189.6,200.3 190.4,201.2 191.2,201.4 192.1,202.4 192.9,201.3 193.7,201.6 195.3,203.2 196.1,205.0 196.9,206.2 197.7,209.0 198.5,210.8 199.4,213.8 200.2,214.7 201.0,216.3 201.8,216.9 202.6,218.7 205.0,222.1 205.8,223.9 206.7,224.5 207.5,225.7 209.1,229.8 209.9,230.8 210.7,232.6 211.5,233.6 212.3,235.5 215.6,241.2 216.4,243.1 217.2,244.5 218.0,245.3 219.6,248.9 220.5,249.8 221.3,252.3 222.1,253.2 222.9,255.7 223.7,257.2 225.3,259.7 226.1,260.1 226.9,261.5 227.8,262.5 228.6,262.6 229.4,263.4 230.2,265.1 231.0,266.3 231.8,266.8 232.6,266.8 233.4,268.3 234.3,268.6 236.7,271.3 244.8,281.3 246.4,259.7 247.2,251.7 248.0,238.3 248.9,264.2 249.7,263.4 250.5,260.1 251.3,255.4 252.1,276.2 252.9,233.3 253.7,241.0 255.4,275.1 256.2,220.7 257.0,270.4 257.8,270.2 258.6,270.7 259.4,274.8 260.2,215.5 261.0,261.4 261.8,257.9 262.7,222.3 264.3,277.3 265.1,273.5 265.9,267.5 266.7,272.9 267.5,266.2 268.3,289.7 269.1,289.7 270.8,290.5 271.6,290.5 274.0,291.6 276.5,292.2 278.9,293.2 279.7,293.3 286.2,295.5 288.6,297.2 289.4,297.5 292.7,299.4 295.1,301.0 295.9,301.1 299.2,302.6 300.0,302.7 304.9,305.0 314.6,305.8"/>
<path d="M48.4,140.2 49.2,301.5 89.8,301.5 95.5,300.2 96.3,299.8 99.5,297.1 100.3,296.1 102.8,291.4 103.6,289.3 105.2,284.5 107.6,275.2 110.9,261.5 111.7,259.8 113.3,256.8 119.8,247.2 123.1,243.3 124.7,239.2 128.7,230.8 129.6,229.7 132.0,225.6 132.8,225.2 133.6,223.9 134.4,223.7 136.1,221.6 136.9,222.0 137.7,221.5 138.5,220.5 139.3,220.1 140.1,218.7 140.9,219.3 141.7,217.8 142.5,218.1 143.4,217.4 144.2,217.4 145.0,217.0 146.6,214.4 148.2,213.9 149.0,213.1 149.8,214.4 150.7,213.6 151.5,213.6 152.3,214.2 153.1,213.8 153.9,212.9 155.5,211.9 156.3,210.4 157.2,210.1 158.0,208.8 158.8,208.7 160.4,209.7 162.0,211.5 162.8,211.0 163.6,210.1 164.5,208.5 165.3,207.5 166.1,205.6 166.9,205.5 167.7,204.5 168.5,206.1 169.3,205.7 170.1,207.2 170.9,207.5 171.8,208.2 172.6,208.3 175.0,204.7 175.8,202.9 176.6,203.0 177.4,202.6 179.1,203.7 180.7,205.1 181.5,206.1 182.3,206.5 183.1,205.4 186.4,199.4 188.0,199.7 188.8,200.3 190.4,200.1 191.2,202.4 192.1,202.9 192.9,204.1 194.5,203.8 196.1,205.1 196.9,206.6 199.4,213.7 201.0,217.4 202.6,219.8 203.4,220.6 204.2,222.4 205.8,224.9 206.7,225.5 209.9,232.2 210.7,233.1 211.5,235.4 212.3,236.1 213.2,237.2 214.0,239.3 215.6,241.5 216.4,244.0 217.2,245.0 218.0,245.6 218.8,248.1 220.5,251.0 221.3,253.2 222.9,256.3 223.7,257.0 225.3,261.3 226.1,261.2 226.9,262.5 229.4,265.1 230.2,265.4 231.0,266.9 231.8,267.2 235.1,270.4 238.3,274.5 244.8,282.3 245.6,270.0 246.4,242.8 247.2,251.8 248.0,275.9 248.9,240.4 249.7,227.0 250.5,268.9 251.3,266.1 253.7,219.1 254.5,271.8 255.4,266.9 256.2,217.9 257.0,228.7 257.8,222.7 258.6,202.3 259.4,209.5 260.2,220.0 261.0,224.4 261.8,251.2 262.7,235.8 263.5,270.9 264.3,265.9 265.9,270.0 267.5,273.1 268.3,290.5 273.2,292.2 278.9,293.8 279.7,294.2 285.4,296.0 287.8,297.2 295.1,301.8 299.2,303.2 304.9,305.5 305.7,305.8 306.5,305.7 314.6,306.6"/>
<path d="M48.4,141.4 49.2,300.5 89.8,300.5 95.5,299.2 96.3,298.8 99.5,296.2 100.3,295.1 102.8,290.5 103.6,288.4 105.2,283.6 107.6,274.4 110.9,260.8 111.7,259.3 114.1,255.5 121.4,246.0 123.1,244.3 125.5,238.2 128.7,231.5 131.2,227.8 132.0,226.2 133.6,224.7 134.4,224.2 135.2,223.0 136.9,221.9 138.5,219.9 139.3,219.9 140.1,219.2 140.9,219.3 141.7,218.3 143.4,217.6 144.2,217.1 145.0,217.1 145.8,215.4 146.6,215.0 148.2,213.6 149.0,213.3 149.8,213.4 150.7,213.3 151.5,213.5 152.3,213.9 153.1,213.9 154.7,212.5 155.5,211.6 157.2,208.8 158.0,209.6 158.8,208.9 159.6,209.6 160.4,140.0 161.2,210.5 162.8,211.2 165.3,208.0 166.1,206.0 166.9,205.3 167.7,205.1 169.3,205.7 170.1,206.9 170.9,206.9 171.8,208.1 172.6,208.2 173.4,207.0 174.2,206.5 175.0,205.0 176.6,202.8 177.4,202.6 178.3,202.1 179.1,203.7 179.9,204.5 180.7,205.2 181.5,205.3 182.3,206.1 183.1,205.5 183.9,203.7 184.7,202.9 187.2,199.0 188.0,199.0 188.8,200.4 189.6,199.7 190.4,200.1 192.1,202.9 192.9,202.7 193.7,203.8 194.5,202.2 196.1,204.2 197.7,207.3 198.5,210.8 200.2,215.3 201.0,216.6 202.6,218.4 203.4,220.5 204.2,221.9 207.5,226.6 208.3,228.5 209.9,231.5 210.7,232.1 211.5,234.7 212.3,235.3 213.2,237.4 215.6,241.2 216.4,243.3 218.8,247.6 222.1,254.4 223.7,256.7 225.3,260.3 226.1,261.0 227.8,262.9 229.4,264.5 230.2,264.6 231.8,267.0 235.1,270.0 244.8,281.9 245.6,273.8 246.4,259.1 247.2,237.9 248.0,223.9 248.9,251.2 249.7,221.8 250.5,222.7 251.3,259.3 252.1,272.9 252.9,232.8 253.7,212.4 254.5,270.2 255.4,226.7 257.0,206.3 257.8,271.0 258.6,273.8 259.4,205.8 260.2,272.6 261.0,268.1 261.8,237.6 262.7,249.5 263.5,240.0 264.3,277.2 265.1,265.3 265.9,277.7 266.7,264.4 267.5,279.6 268.3,289.8 274.0,291.7 274.8,292.2 277.3,292.6 279.7,293.5 284.6,294.7 286.2,295.5 295.1,300.8 296.7,301.5 297.6,301.6 299.2,302.5 301.6,303.3 304.0,304.4 307.3,305.1 308.1,305.0 314.6,305.8"/>
<path d="M48.4,142.6 49.2,301.1 89.8,301.1 95.5,299.8 96.3,299.5 99.5,296.8 100.3,295.8 102.8,291.2 103.6,289.1 105.2,284.4 107.6,275.3 110.9,261.8 111.7,260.3 114.1,256.9 123.1,246.6 126.3,238.6 130.4,230.7 132.0,228.7 133.6,226.0 134.4,225.7 136.1,224.3 137.7,222.3 138.5,222.0 139.3,221.1 140.9,220.7 141.7,219.7 142.5,219.9 143.4,218.8 145.0,218.7 145.8,217.1 146.6,216.6 147.4,215.5 148.2,214.9 149.0,214.9 149.8,215.1 150.7,214.6 151.5,215.3 153.1,215.7 153.9,214.6 154.7,213.8 155.5,214.0 157.2,211.6 158.0,210.8 158.8,210.6 159.6,211.1 160.4,211.0 161.2,211.7 162.0,212.9 163.6,211.8 164.5,210.8 165.3,209.7 166.1,207.8 166.9,207.1 167.7,207.2 168.5,206.3 170.1,208.2 170.9,209.5 171.8,209.9 172.6,209.8 175.0,206.7 175.8,204.2 176.6,204.6 177.4,204.7 178.3,203.9 179.1,205.4 179.9,206.3 180.7,206.7 181.5,208.0 182.3,207.6 183.1,206.8 185.6,203.0 186.4,201.0 187.2,201.2 188.0,200.7 188.8,200.8 191.2,201.8 192.1,203.1 193.7,203.6 194.5,204.3 195.3,203.2 196.1,204.4 199.4,213.8 200.2,215.5 201.0,216.7 201.8,218.5 203.4,220.9 204.2,222.8 207.5,227.7 208.3,229.6 211.5,235.2 213.2,238.6 215.6,242.8 216.4,243.5 218.8,248.4 220.5,252.3 222.9,257.1 223.7,258.1 225.3,261.5 226.1,262.1 226.9,263.0 228.6,264.0 229.4,265.9 230.2,265.9 231.0,267.2 232.6,268.8 233.4,269.0 234.3,270.4 235.1,270.8 236.7,273.1 238.3,274.9 244.8,282.8 245.6,276.8 246.4,240.3 247.2,245.2 248.0,276.5 248.9,203.2 249.7,217.6 250.5,222.9 251.3,267.2 252.1,258.0 252.9,266.6 254.5,278.6 255.4,242.6 256.2,271.3 257.0,266.7 257.8,211.4 259.4,267.0 260.2,232.6 261.0,261.7 261.8,241.2 262.7,261.0 263.5,252.8 264.3,268.5 265.9,275.0 266.7,263.9 267.5,262.8 268.3,290.8 273.2,292.4 274.0,292.4 278.1,293.9 282.1,294.9 282.9,294.9 283.8,295.3 284.6,295.5 287.0,296.8 287.8,297.1 288.6,297.7 291.9,299.5 292.7,300.2 294.3,301.0 295.1,301.6 298.4,302.8 300.8,303.9 301.6,304.1 303.2,305.0 304.0,305.1 304.9,305.5 305.7,305.5 307.3,305.8 309.7,306.0 310.5,305.9 312.2,306.2 314.6,306.4"/></g>
<g clip-path="url(#cr)" fill="none" stroke="#fff" stroke-width="2.1" stroke-linejoin="round" stroke-linecap="square"><path d="M328.4,147.7 329.2,301.5 369.8,301.5 375.5,300.1 376.3,299.7 379.5,296.7 380.3,295.6 382.8,290.5 385.2,282.9 387.6,272.0 390.1,258.6 391.7,251.3 394.1,242.2 398.2,231.9 403.1,222.2 408.7,214.9 410.4,214.0 411.2,213.0 412.0,212.6 412.8,211.7 414.4,210.8 415.2,209.9 416.1,209.5 416.9,208.1 418.5,207.0 420.1,206.5 421.7,205.3 423.4,205.0 424.2,203.9 425.0,203.9 425.8,203.7 427.4,201.5 428.2,201.0 429.0,200.8 429.8,201.0 430.7,200.0 431.5,200.4 433.1,200.4 433.9,199.4 434.7,199.2 435.5,197.0 436.3,196.5 438.0,194.3 438.8,193.9 440.4,194.5 441.2,195.1 442.8,195.1 444.5,193.5 446.1,190.0 447.7,187.4 449.3,187.7 451.8,189.9 452.6,188.7 453.4,188.9 454.2,187.4 455.0,186.7 455.8,184.2 457.4,183.0 459.9,184.7 460.7,185.8 461.5,186.4 462.3,186.4 463.1,186.2 464.7,184.6 466.4,184.2 467.2,183.8 468.0,184.9 468.8,186.9 469.6,189.8 471.2,193.0 472.9,194.2 474.5,194.4 476.1,197.9 476.9,198.9 479.4,203.8 481.8,207.0 485.8,214.9 486.7,215.7 489.1,221.6 490.7,224.4 491.5,226.5 493.2,229.4 494.0,231.9 495.6,235.0 496.4,237.1 498.0,239.6 498.8,241.4 499.6,242.1 501.3,245.3 502.1,246.1 502.9,247.5 503.7,248.1 505.3,251.1 506.9,252.6 507.8,254.1 508.6,254.8 510.2,257.4 511.8,259.4 512.6,259.9 515.9,264.3 516.7,264.9 518.3,267.1 519.1,267.8 522.4,271.7 524.8,274.3 525.6,274.8 526.4,237.2 527.2,261.0 528.0,196.3 528.9,257.5 529.7,231.2 530.5,233.7 531.3,202.2 532.1,249.8 533.7,211.7 534.5,247.8 536.2,226.5 537.0,204.8 537.8,208.6 538.6,202.1 540.2,206.7 541.0,200.4 541.8,213.9 542.7,219.6 543.5,250.0 544.3,259.0 545.1,231.9 545.9,261.1 546.7,236.5 548.3,264.0 549.1,284.9 552.4,286.5 554.8,287.5 555.6,288.0 564.6,291.7 569.4,294.6 571.9,296.0 572.7,296.3 575.1,297.8 579.2,299.2 582.4,300.7 583.2,300.8 584.9,301.6 586.5,301.9 588.9,302.1 593.0,302.9 594.6,303.0"/>
<path d="M328.4,148.9 329.2,300.6 369.8,300.6 375.5,299.2 376.3,298.8 379.5,295.9 380.3,294.7 382.8,289.7 385.2,282.1 387.6,271.2 390.1,257.9 391.7,250.8 394.1,241.9 395.0,239.6 399.0,230.0 403.1,222.3 407.9,215.6 412.0,212.2 412.8,212.0 414.4,210.6 415.2,209.2 416.9,208.7 418.5,206.4 419.3,206.6 422.5,204.2 423.4,204.4 424.2,203.5 425.8,202.9 426.6,201.6 427.4,201.7 428.2,200.4 429.0,200.7 429.8,200.0 430.7,200.7 431.5,45.4 432.3,200.0 433.1,199.4 433.9,199.3 435.5,196.8 436.3,195.9 437.2,195.5 438.0,193.7 438.8,194.2 440.4,195.7 442.0,195.2 442.8,194.5 443.6,193.5 444.5,192.1 446.1,189.3 446.9,187.4 447.7,188.0 448.5,187.9 450.1,189.4 451.8,189.5 452.6,189.3 453.4,187.3 455.0,185.4 455.8,183.8 456.6,183.3 457.4,184.2 458.3,184.0 459.1,184.3 459.9,185.6 461.5,186.4 462.3,185.7 463.1,185.5 463.9,183.9 464.7,183.3 465.6,183.2 467.2,183.7 469.6,188.9 470.4,191.2 472.1,192.9 472.9,193.0 473.7,193.5 474.5,193.3 475.3,193.9 476.1,196.4 476.9,197.6 478.5,201.9 480.2,204.5 481.8,206.4 482.6,208.6 483.4,210.2 484.2,211.1 485.0,213.1 490.7,223.9 494.0,231.6 495.6,234.6 497.2,238.5 498.0,240.0 499.6,241.6 500.5,242.7 502.1,245.7 502.9,246.4 503.7,247.6 504.5,249.4 505.3,250.3 506.9,253.2 507.8,253.7 508.6,255.0 509.4,255.4 510.2,256.4 511.8,259.1 512.6,259.6 514.3,261.7 515.9,263.4 517.5,265.6 520.7,269.4 521.6,270.0 523.2,272.2 524.8,273.9 525.6,274.4 526.4,236.2 527.2,237.1 528.0,210.1 528.9,250.6 529.7,204.5 531.3,224.4 532.1,201.5 532.9,225.2 533.7,224.2 534.5,207.8 535.4,202.1 536.2,233.7 537.0,216.1 537.8,240.1 538.6,218.8 539.4,204.2 540.2,247.8 541.0,207.8 541.8,251.1 542.7,205.0 543.5,240.1 544.3,246.1 545.1,233.7 545.9,246.2 546.7,242.9 547.5,265.7 548.3,261.1 549.1,284.4 550.8,285.3 554.0,286.5 554.8,287.0 555.6,287.2 558.1,288.3 558.9,288.5 559.7,289.0 565.4,291.2 567.0,292.5 568.6,293.2 569.4,293.9 575.1,296.9 580.0,298.8 580.8,299.3 585.7,301.1 587.3,301.2 592.2,302.1 594.6,302.2"/>
<path d="M328.4,150.1 329.2,301.2 369.8,301.2 375.5,299.8 376.3,299.4 379.5,296.5 380.3,295.4 382.8,290.4 385.2,282.8 387.6,272.0 390.1,258.7 391.7,251.8 394.1,243.3 395.0,240.9 399.0,231.8 403.9,223.1 408.7,216.5 409.6,216.1 411.2,214.8 416.1,210.2 416.9,210.2 417.7,208.9 418.5,208.7 420.1,207.6 420.9,206.8 421.7,207.0 422.5,206.5 423.4,205.5 424.2,205.7 425.8,203.9 426.6,203.7 427.4,202.6 428.2,202.2 429.0,201.8 429.8,202.4 430.7,201.5 431.5,201.0 433.1,201.2 434.7,200.0 435.5,198.3 438.8,195.0 441.2,196.7 442.8,197.1 446.1,190.6 446.9,190.2 447.7,188.9 449.3,190.3 450.1,190.5 450.9,191.0 452.6,191.1 453.4,190.1 455.0,186.1 455.8,185.7 456.6,184.5 458.3,185.1 459.1,184.7 460.7,187.2 461.5,187.8 463.1,186.7 465.6,183.9 466.4,184.0 468.0,185.2 468.8,187.6 471.2,192.9 472.9,193.7 473.7,193.5 475.3,195.1 476.1,196.5 479.4,203.8 480.2,204.4 481.0,206.7 481.8,208.2 482.6,209.0 483.4,210.7 484.2,211.8 485.0,213.8 485.8,214.8 487.5,219.0 488.3,220.3 489.1,222.3 489.9,223.0 490.7,225.7 492.3,229.0 494.0,231.7 494.8,234.0 495.6,235.2 496.4,237.6 497.2,238.9 498.0,241.1 498.8,242.0 499.6,242.5 502.1,247.2 503.7,248.6 504.5,250.7 505.3,252.0 506.1,252.2 507.8,255.4 508.6,255.6 509.4,256.5 513.4,262.0 514.3,262.5 515.1,263.7 515.9,264.5 516.7,265.9 517.5,266.5 520.7,270.4 524.0,274.0 524.8,274.8 525.6,275.3 526.4,234.7 527.2,207.6 528.9,183.3 530.5,189.9 531.3,195.3 532.1,198.9 532.9,190.2 533.7,184.9 535.4,192.2 536.2,197.3 537.0,198.4 538.6,191.8 540.2,187.9 541.0,191.3 541.8,196.1 545.9,226.3 547.5,241.3 548.3,255.7 549.1,285.3 553.2,287.2 563.8,291.4 574.3,297.2 576.7,298.4 578.4,298.7 584.0,301.2 586.5,301.8 594.6,303.1"/>
<path d="M328.4,151.3 329.2,300.4 369.8,300.4 375.5,299.0 376.3,298.6 379.5,295.7 380.3,294.6 382.8,289.7 384.4,284.9 385.2,282.1 387.6,271.4 390.1,258.3 391.7,251.6 395.0,241.2 399.8,230.9 404.7,222.8 407.9,218.7 408.7,217.3 412.8,213.6 413.6,213.3 415.2,211.2 416.1,212.0 417.7,209.8 419.3,208.4 422.5,207.3 425.0,205.4 425.8,204.1 426.6,203.8 427.4,203.0 428.2,203.0 429.0,203.5 429.8,202.6 430.7,203.0 431.5,202.9 433.9,200.3 434.7,198.8 435.5,199.2 436.3,197.4 438.0,196.5 438.8,197.3 440.4,197.8 441.2,198.3 442.0,197.1 442.8,196.6 443.6,195.3 444.5,192.8 445.3,191.2 446.1,190.3 448.5,190.9 449.3,191.7 450.9,192.5 452.6,190.2 453.4,188.2 455.0,186.2 455.8,184.8 457.4,185.8 458.3,186.7 459.1,186.8 459.9,188.1 460.7,188.0 461.5,187.4 462.3,187.1 463.1,186.0 463.9,184.3 464.7,183.5 465.6,183.4 466.4,184.0 468.0,186.6 468.8,188.8 470.4,191.3 472.1,192.0 473.7,191.5 475.3,193.6 476.9,198.1 477.7,199.6 478.5,201.9 479.4,202.6 481.0,205.5 482.6,209.4 484.2,211.3 485.8,215.3 486.7,216.6 488.3,220.5 489.1,221.6 489.9,223.5 491.5,226.2 492.3,228.6 494.0,231.6 495.6,235.7 497.2,238.4 498.8,241.7 499.6,242.8 500.5,243.1 502.1,247.7 502.9,247.7 504.5,250.3 507.8,254.3 508.6,256.0 509.4,256.5 510.2,257.9 511.0,257.9 511.8,259.4 515.9,264.4 516.7,265.0 518.3,267.2 524.0,273.5 524.8,274.8 525.6,275.1 526.4,250.3 527.2,238.8 528.0,270.8 528.9,221.4 529.7,256.9 530.5,260.0 531.3,205.2 532.1,241.5 533.7,201.7 534.5,206.8 535.4,218.9 536.2,207.8 537.0,227.0 538.6,202.7 539.4,209.9 540.2,210.9 541.0,227.3 541.8,220.8 542.7,242.0 543.5,223.7 544.3,247.6 545.1,245.8 545.9,236.5 546.7,250.7 547.5,259.0 548.3,257.8 549.1,284.8 551.6,285.9 552.4,286.4 559.7,289.1 562.9,290.6 563.8,290.7 566.2,291.9 567.8,293.0 571.1,294.6 575.1,297.0 575.9,297.2 580.8,299.3 581.6,299.4 584.9,300.9 587.3,301.4 592.2,301.9 594.6,302.4"/>
<path d="M328.4,152.5 329.2,301.0 369.8,301.0 375.5,299.6 376.3,299.2 379.5,296.4 380.3,295.2 382.8,290.3 385.2,282.9 387.6,272.2 390.1,259.2 392.5,249.9 395.0,242.7 399.8,232.9 405.5,223.7 410.4,217.4 411.2,216.6 412.0,216.3 413.6,214.6 415.2,213.8 416.9,212.2 417.7,211.8 419.3,210.4 420.1,209.1 420.9,208.8 421.7,208.8 422.5,208.5 424.2,207.3 425.0,207.2 426.6,205.0 427.4,205.0 428.2,204.1 429.0,204.0 430.7,204.1 431.5,204.3 432.3,90.0 433.1,203.1 433.9,201.6 434.7,201.4 436.3,199.5 438.0,198.7 438.8,198.2 439.6,198.8 440.4,199.8 441.2,199.1 442.0,199.1 442.8,197.7 443.6,197.0 446.1,192.8 446.9,191.9 447.7,191.6 448.5,192.5 449.3,192.6 450.1,193.7 450.9,193.4 451.8,193.7 452.6,192.7 454.2,189.0 455.8,186.8 456.6,186.5 457.4,187.2 458.3,186.8 459.1,187.6 459.9,188.8 461.5,189.2 462.3,189.0 463.9,187.4 464.7,185.7 465.6,184.7 466.4,184.6 467.2,185.1 469.6,190.4 471.2,193.2 472.9,193.1 475.3,194.2 477.7,200.6 480.2,205.4 481.0,206.6 481.8,209.1 482.6,208.9 483.4,211.8 484.2,212.9 485.8,216.5 487.5,219.5 489.1,223.3 489.9,224.4 490.7,226.6 492.3,229.4 498.0,241.8 498.8,242.9 499.6,243.4 500.5,244.3 501.3,246.3 502.9,248.1 505.3,252.2 506.1,252.9 507.8,255.9 508.6,256.0 509.4,257.2 510.2,257.9 511.0,259.3 514.3,263.5 515.1,264.3 515.9,265.5 516.7,266.1 524.8,275.6 525.6,276.1 526.4,246.9 527.2,274.6 528.0,244.6 528.9,196.4 529.7,224.6 530.5,228.4 532.1,216.0 532.9,215.9 533.7,223.8 534.5,240.3 535.4,234.5 536.2,236.0 537.0,228.9 537.8,195.1 538.6,230.8 539.4,224.2 540.2,228.2 541.0,216.7 541.8,199.0 542.7,209.5 543.5,245.5 544.3,253.7 545.1,225.8 545.9,247.4 546.7,244.5 547.5,266.0 548.3,257.4 549.1,285.7 555.6,288.6 564.6,291.9 574.3,297.4 575.9,298.2 576.7,298.3 578.4,299.2 580.0,299.6 584.0,301.2 584.9,301.8 585.7,301.7 588.1,302.2 589.7,302.2 591.3,302.7 592.2,302.6 594.6,303.1"/>
<path d="M328.4,153.7 329.2,301.4 369.8,301.4 375.5,300.0 376.3,299.6 379.5,296.8 380.3,295.7 382.8,290.8 383.6,288.6 385.2,283.4 387.6,272.8 390.1,259.9 390.9,256.6 392.5,250.9 395.0,244.1 395.8,242.2 400.6,233.1 405.5,225.5 407.1,223.2 407.9,222.5 410.4,218.8 412.0,217.3 412.8,217.1 413.6,216.3 414.4,216.7 415.2,215.1 416.9,214.1 417.7,213.0 420.9,210.2 421.7,210.3 422.5,209.5 423.4,209.8 424.2,209.2 425.0,208.0 426.6,206.7 428.2,205.8 429.0,205.0 429.8,205.4 430.7,205.6 431.5,205.1 432.3,205.2 433.1,204.6 433.9,204.0 434.7,202.4 435.5,202.0 436.3,200.4 437.2,200.4 438.0,199.1 439.6,199.6 440.4,200.3 441.2,200.1 442.0,201.2 442.8,200.8 444.5,196.9 445.3,195.4 446.9,193.6 447.7,193.7 448.5,193.0 450.1,194.9 450.9,195.1 452.6,194.0 454.2,192.0 455.0,190.2 455.8,189.0 456.6,188.0 457.4,187.3 459.1,189.3 460.7,190.8 461.5,191.1 462.3,190.3 463.1,190.0 463.9,188.2 464.7,187.1 465.6,186.8 466.4,186.1 467.2,186.5 468.0,187.6 470.4,192.1 472.1,193.8 472.9,193.8 474.5,193.4 475.3,194.7 476.9,198.4 479.4,204.8 480.2,205.4 481.0,208.3 481.8,209.1 483.4,211.5 485.0,216.2 485.8,217.1 487.5,219.8 488.3,221.5 489.1,223.9 490.7,226.6 492.3,230.3 493.2,232.8 494.0,233.6 495.6,237.4 496.4,238.6 497.2,240.3 498.0,241.0 498.8,244.0 500.5,246.1 501.3,246.5 502.1,248.6 502.9,249.0 503.7,250.3 504.5,252.3 505.3,253.7 506.1,253.7 506.9,256.1 508.6,256.7 509.4,258.1 511.0,259.7 511.8,261.2 512.6,261.8 514.3,264.3 515.1,264.9 515.9,266.3 524.8,276.5 525.6,277.0 526.4,242.0 527.2,219.6 528.0,237.6 528.9,205.1 529.7,235.6 530.5,244.5 531.3,232.4 532.1,241.3 532.9,232.4 533.7,204.6 534.5,202.8 535.4,248.6 536.2,211.9 537.0,208.2 538.6,248.2 539.4,209.6 540.2,236.2 541.0,212.9 541.8,230.9 542.7,226.1 543.5,252.6 544.3,242.4 545.1,243.0 545.9,241.7 546.7,261.0 547.5,242.4 549.1,286.5 552.4,287.8 553.2,288.3 556.5,289.5 557.3,268.0 558.1,268.0 558.9,290.4 561.3,291.2 562.1,291.7 563.8,292.1 566.2,293.2 575.1,298.3 581.6,300.7 582.4,301.2 584.0,301.7 584.9,302.2 587.3,302.5 588.1,302.8 590.5,302.9 594.6,303.7"/>
<path d="M328.4,154.9 329.2,300.8 369.8,300.8 375.5,299.4 376.3,299.0 379.5,296.2 380.3,295.1 382.8,290.2 383.6,288.0 385.2,282.9 387.6,272.3 390.1,259.5 390.9,256.2 392.5,250.7 395.8,242.3 401.4,232.2 406.3,224.7 410.4,219.4 411.2,218.4 412.0,217.9 412.8,216.7 413.6,216.8 415.2,214.8 416.9,214.2 419.3,211.5 420.1,211.3 422.5,209.4 424.2,208.9 427.4,206.2 428.2,205.8 429.0,204.5 429.8,205.2 431.5,205.3 433.1,204.2 433.9,204.4 435.5,202.4 436.3,200.5 438.0,199.5 438.8,199.2 441.2,200.2 442.8,201.2 443.6,199.6 445.3,197.1 446.9,193.7 447.7,193.1 448.5,193.4 449.3,194.0 450.1,194.2 450.9,195.3 451.8,194.9 453.4,193.8 456.6,187.6 457.4,188.2 458.3,188.0 459.1,189.0 459.9,189.5 460.7,189.5 461.5,190.3 463.1,190.8 463.9,188.5 464.7,187.7 465.6,186.1 466.4,185.7 467.2,185.6 468.0,186.2 468.8,187.4 469.6,189.9 471.2,192.0 472.1,193.5 472.9,194.4 473.7,193.7 474.5,194.1 475.3,194.0 476.1,196.4 476.9,197.2 477.7,200.3 479.4,203.3 481.8,208.9 483.4,211.7 484.2,214.1 485.0,215.1 487.5,219.6 489.1,224.2 489.9,225.6 490.7,226.4 493.2,232.2 495.6,236.8 496.4,239.2 497.2,240.7 498.0,241.6 501.3,247.8 502.1,247.9 503.7,251.1 504.5,251.7 505.3,253.6 506.9,255.0 507.8,256.4 508.6,256.9 509.4,256.9 510.2,259.5 511.0,259.9 511.8,261.3 512.6,261.9 515.1,265.3 524.8,276.4 525.6,276.9 526.4,244.4 527.2,227.8 528.0,260.7 528.9,264.2 529.7,248.0 530.5,210.1 531.3,237.1 532.1,203.0 532.9,211.5 533.7,210.3 534.5,203.0 535.4,207.1 536.2,233.2 537.0,238.2 537.8,227.1 538.6,222.5 539.4,243.2 540.2,223.7 541.0,213.1 541.8,244.4 542.7,258.9 543.5,257.6 544.3,252.8 545.1,222.1 545.9,266.9 546.7,261.7 547.5,263.6 548.3,262.2 549.1,286.3 554.8,288.7 562.9,291.5 564.6,291.9 565.4,292.5 568.6,294.1 569.4,294.7 571.1,295.4 575.1,297.8 577.6,298.6 578.4,299.1 584.0,301.3 584.9,301.8 586.5,301.9 588.1,302.4 589.7,302.3 590.5,302.6 594.6,303.1"/>
<path d="M328.4,156.1 329.2,301.6 369.8,301.6 375.5,300.2 376.3,299.9 379.5,297.0 380.3,295.9 382.8,291.1 383.6,288.9 385.2,283.8 387.6,273.3 390.1,260.5 390.9,257.3 392.5,252.0 395.8,243.8 401.4,234.1 403.1,231.8 406.3,226.6 408.7,223.3 410.4,221.5 411.2,220.2 412.0,219.3 413.6,217.8 414.4,217.4 415.2,216.5 416.1,216.2 417.7,215.0 418.5,214.0 419.3,213.4 420.1,212.3 420.9,212.7 422.5,211.4 423.4,211.3 424.2,210.8 425.0,210.3 425.8,208.9 426.6,208.2 428.2,207.6 429.0,206.3 429.8,207.1 430.7,206.5 432.3,207.1 433.1,206.5 433.9,206.2 434.7,205.0 435.5,203.2 437.2,202.1 438.0,201.1 439.6,201.2 440.4,202.2 441.2,202.1 442.0,202.3 442.8,201.8 443.6,201.1 444.5,199.7 446.1,196.2 447.7,194.9 448.5,195.1 450.1,196.1 450.9,197.1 451.8,197.3 453.4,195.3 454.2,193.3 455.8,191.3 456.6,189.2 457.4,189.7 458.3,189.4 459.1,191.1 459.9,191.2 460.7,191.8 462.3,192.4 463.1,191.3 463.9,190.8 464.7,189.1 466.4,186.8 467.2,186.5 468.0,188.0 468.8,189.0 469.6,191.1 470.4,192.4 472.1,194.1 472.9,193.8 473.7,194.1 474.5,193.9 475.3,194.8 476.9,199.0 477.7,201.7 478.5,202.9 479.4,204.7 480.2,205.7 481.0,208.6 481.8,209.6 483.4,213.6 485.0,216.0 486.7,219.8 487.5,220.9 488.3,223.3 489.9,225.9 490.7,228.5 491.5,230.1 492.3,230.8 495.6,238.8 496.4,239.5 497.2,241.8 498.8,245.0 499.6,245.4 500.5,247.3 503.7,251.6 504.5,253.3 505.3,254.2 506.1,255.5 506.9,256.1 510.2,260.5 512.6,263.0 515.1,266.4 519.1,271.2 524.8,277.5 525.6,278.1 526.4,243.5 527.2,264.2 528.0,225.7 528.9,238.9 529.7,239.3 530.5,205.9 531.3,263.9 532.1,202.9 532.9,196.8 533.7,207.2 534.5,248.8 535.4,212.3 536.2,219.1 537.0,210.6 537.8,239.8 538.6,194.6 539.4,196.9 540.2,244.7 541.0,232.9 541.8,250.2 542.7,213.4 543.5,213.5 544.3,214.9 545.1,238.8 545.9,240.2 546.7,244.7 547.5,252.8 548.3,256.3 549.1,287.5 550.8,288.1 551.6,288.2 552.4,288.8 555.6,290.0 558.1,290.7 561.3,292.0 563.8,292.7 566.2,293.8 575.1,298.8 577.6,299.6 579.2,300.5 580.0,300.6 581.6,301.4 585.7,302.8 587.3,302.9 588.9,303.3 590.5,303.4 594.6,304.2"/>
<path d="M328.4,157.3 329.2,300.5 369.8,300.5 375.5,299.1 376.3,298.8 379.5,296.0 380.3,294.9 382.8,290.1 383.6,287.9 385.2,282.8 387.6,272.4 390.1,259.7 390.9,256.5 392.5,251.3 395.8,243.4 401.4,234.0 407.1,225.3 410.4,221.3 412.0,219.1 416.1,216.1 416.9,214.7 417.7,214.1 418.5,214.7 420.1,212.4 420.9,212.4 422.5,211.3 425.0,209.0 425.8,208.8 426.6,207.7 427.4,207.7 428.2,207.1 429.0,207.3 429.8,207.0 431.5,207.2 432.3,206.7 433.9,204.4 436.3,202.0 437.2,201.5 438.0,201.4 438.8,202.7 440.4,201.7 441.2,202.9 443.6,199.5 446.1,194.9 446.9,195.5 447.7,194.7 448.5,196.1 449.3,196.4 450.1,197.3 450.9,197.4 452.6,195.4 454.2,191.8 455.0,190.6 455.8,190.3 456.6,189.7 457.4,190.3 458.3,191.7 459.1,191.1 459.9,192.7 460.7,192.3 462.3,190.5 463.1,189.0 463.9,188.1 465.6,186.9 466.4,187.2 467.2,187.2 468.0,189.5 468.8,190.2 469.6,191.7 470.4,192.0 471.2,192.1 472.1,192.9 472.9,192.0 473.7,192.2 475.3,193.5 476.1,195.1 477.7,199.8 478.5,202.8 479.4,204.5 480.2,205.4 482.6,211.1 484.2,213.9 485.8,217.4 486.7,218.5 489.1,224.3 489.9,225.5 490.7,227.7 492.3,230.6 493.2,233.0 494.8,236.2 495.6,237.3 498.0,242.7 498.8,244.1 500.5,246.6 501.3,247.0 502.1,248.1 502.9,250.3 503.7,251.0 504.5,252.9 505.3,254.0 506.1,254.7 506.9,255.1 507.8,256.7 508.6,257.6 510.2,260.3 511.0,261.1 511.8,261.1 512.6,262.5 513.4,263.5 514.3,265.0 515.1,265.5 515.9,267.0 516.7,267.5 517.5,268.6 521.6,273.1 524.0,276.1 524.8,277.0 525.6,277.4 526.4,246.4 527.2,228.8 528.0,242.0 528.9,197.3 529.7,208.7 530.5,247.7 531.3,270.7 532.1,245.0 532.9,240.6 534.5,223.4 535.4,196.5 536.2,236.8 537.0,203.9 537.8,213.2 538.6,200.6 540.2,251.8 541.0,204.2 541.8,238.3 542.7,258.6 543.5,220.4 544.3,231.2 545.1,257.9 545.9,256.8 546.7,235.8 547.5,260.8 548.3,259.4 549.1,286.7 550.8,287.2 551.6,287.7 557.3,289.6 558.1,290.1 559.7,290.3 561.3,291.1 564.6,292.1 571.1,295.3 571.9,296.1 573.5,296.8 574.3,297.3 576.7,298.5 580.0,299.7 580.8,300.2 582.4,300.5 584.0,301.4 587.3,302.1 588.9,302.2 589.7,302.5 590.5,302.4 591.3,302.8 594.6,303.2"/>
<path d="M328.4,158.5 329.2,301.3 369.8,301.3 375.5,300.0 376.3,299.6 379.5,296.8 380.3,295.7 382.8,290.9 385.2,283.7 387.6,273.3 390.1,260.7 390.9,257.5 392.5,252.6 395.8,244.9 402.3,234.6 407.1,227.1 411.2,222.1 412.8,219.7 413.6,220.0 414.4,218.5 416.1,217.3 416.9,217.0 418.5,215.8 419.3,214.8 420.9,213.6 421.7,213.8 422.5,212.5 423.4,212.0 424.2,212.0 425.0,211.3 425.8,210.0 428.2,208.8 429.0,209.1 429.8,208.9 431.5,208.8 432.3,207.8 433.1,207.3 434.7,205.2 435.5,205.1 437.2,202.8 439.6,203.4 440.4,54.6 441.2,54.6 442.0,203.1 442.8,202.8 443.6,200.9 444.5,199.7 446.9,197.3 447.7,197.2 450.9,198.9 451.8,198.6 455.8,191.0 456.6,191.4 457.4,191.1 458.3,192.4 459.1,193.0 459.9,194.2 460.7,194.1 462.3,192.9 463.1,192.0 464.7,188.5 465.6,188.1 466.4,188.8 467.2,188.4 468.0,189.6 468.8,191.4 469.6,192.1 470.4,193.5 472.1,194.0 472.9,192.9 473.7,193.6 474.5,193.5 475.3,194.5 476.1,195.9 478.5,203.1 479.4,205.1 480.2,206.1 481.0,208.6 481.8,209.8 482.6,212.6 483.4,213.6 485.8,218.2 487.5,222.6 489.1,224.7 489.9,227.3 491.5,230.1 493.2,234.3 496.4,240.9 498.0,242.9 499.6,246.6 501.3,248.4 502.9,251.5 503.7,251.9 506.1,256.3 506.9,256.3 508.6,259.1 509.4,259.8 511.8,262.7 515.1,267.3 517.5,269.7 524.0,277.3 524.8,278.2 525.6,278.6 526.4,234.7 527.2,207.6 528.9,183.3 530.5,189.9 531.3,195.3 532.1,198.9 532.9,190.2 533.7,184.9 535.4,192.2 536.2,197.3 537.0,198.4 538.6,191.8 540.2,187.9 541.0,191.3 541.8,196.1 545.9,226.3 547.5,241.3 548.3,255.7 549.1,287.9 554.0,289.6 554.8,290.1 557.3,290.7 565.4,293.3 571.1,296.4 573.5,298.0 574.3,298.1 575.1,298.8 580.8,300.8 583.2,302.0 586.5,302.9 588.9,303.2 589.7,303.5 593.0,303.7 594.6,304.1"/>
<path d="M328.4,159.7 329.2,300.9 369.8,300.9 375.5,299.6 376.3,299.2 379.5,296.4 380.3,295.3 382.8,290.6 383.6,288.4 385.2,283.4 387.6,273.1 390.1,260.6 390.9,257.4 392.5,252.6 395.8,245.3 396.6,243.7 403.1,234.1 407.9,226.5 410.4,223.5 412.0,220.8 412.8,220.7 413.6,220.2 414.4,218.4 415.2,218.5 416.9,217.0 418.5,216.1 420.1,214.8 420.9,214.4 422.5,212.2 423.4,212.7 424.2,212.0 425.0,211.8 426.6,210.3 429.0,208.3 430.7,208.8 431.5,208.2 432.3,208.9 433.1,208.1 433.9,206.8 434.7,206.4 435.5,205.3 436.3,203.6 437.2,202.8 438.0,203.3 438.8,203.3 439.6,204.0 440.4,203.9 442.0,204.3 443.6,201.9 445.3,198.7 446.1,198.6 446.9,196.9 449.3,198.3 450.1,198.3 450.9,199.6 451.8,199.1 452.6,197.8 453.4,197.0 454.2,195.0 456.6,191.0 457.4,191.1 458.3,191.5 459.1,192.6 461.5,194.3 462.3,193.7 463.9,190.4 467.2,188.2 468.0,189.2 468.8,191.0 469.6,191.7 471.2,194.1 472.9,193.4 474.5,193.2 475.3,193.9 476.9,197.4 479.4,204.9 480.2,206.3 482.6,212.5 483.4,213.1 484.2,215.4 485.8,218.3 486.7,220.5 487.5,221.8 489.9,227.0 490.7,229.3 491.5,230.1 492.3,232.5 494.0,235.3 496.4,241.2 497.2,242.9 498.0,243.5 498.8,245.5 499.6,245.6 500.5,246.7 502.1,250.2 503.7,252.3 504.5,252.8 505.3,255.0 506.1,255.6 506.9,257.5 507.8,257.5 509.4,260.2 510.2,261.3 511.0,261.7 511.8,263.1 513.4,265.1 514.3,265.8 515.1,267.3 515.9,267.8 524.0,277.2 524.8,278.4 525.6,278.7 526.4,275.5 528.0,206.6 528.9,269.1 529.7,252.2 530.5,210.4 531.3,227.3 532.1,235.4 532.9,213.1 533.7,221.5 534.5,196.9 535.4,234.5 536.2,210.5 537.0,217.9 537.8,209.8 538.6,229.2 539.4,206.9 540.2,207.2 541.8,250.5 542.7,204.7 543.5,225.5 544.3,257.0 545.1,233.2 545.9,256.4 546.7,251.9 547.5,245.1 548.3,262.5 549.1,287.8 553.2,289.1 554.0,289.6 554.8,289.8 556.5,290.4 562.1,292.0 565.4,293.2 570.2,295.6 571.1,296.3 575.1,298.5 576.7,299.0 582.4,301.4 585.7,302.5 594.6,303.8"/>
<path d="M328.4,160.9 329.2,301.5 369.8,301.5 375.5,300.2 376.3,299.8 379.5,297.0 380.3,296.0 382.8,291.2 383.6,289.1 385.2,284.1 387.6,273.8 390.1,261.4 390.9,258.2 392.5,253.5 396.6,244.9 403.1,235.5 407.9,227.8 409.6,226.0 410.4,224.3 411.2,224.1 412.8,221.4 413.6,221.2 414.4,219.9 415.2,219.9 416.1,219.1 416.9,217.5 417.7,217.9 418.5,217.4 419.3,217.2 420.9,215.1 421.7,214.5 422.5,214.4 423.4,213.1 424.2,213.7 425.0,212.2 426.6,211.5 427.4,210.9 428.2,210.0 429.0,210.4 430.7,210.0 431.5,210.4 432.3,209.9 433.9,208.2 434.7,206.9 435.5,206.6 436.3,205.0 437.2,205.0 438.0,204.9 438.8,204.0 439.6,205.4 440.4,205.8 441.2,205.7 443.6,203.8 444.5,202.9 445.3,200.7 446.1,199.2 446.9,198.6 447.7,198.5 448.5,198.7 449.3,199.2 450.1,200.3 450.9,200.5 451.8,200.2 452.6,199.5 454.2,196.7 455.0,195.8 455.8,194.0 456.6,193.1 457.4,192.6 458.3,193.2 459.1,193.4 460.7,195.3 461.5,195.5 462.3,194.5 463.9,192.9 465.6,190.0 467.2,189.3 468.0,190.0 469.6,192.7 471.2,194.7 472.1,194.6 472.9,195.0 473.7,194.9 474.5,194.5 476.1,195.9 476.9,199.2 478.5,203.9 480.2,207.6 481.8,210.9 482.6,213.0 485.0,218.0 485.8,219.3 489.1,226.9 491.5,231.7 492.3,233.8 493.2,235.5 494.0,236.5 494.8,239.3 495.6,239.8 496.4,241.7 498.0,244.4 498.8,246.8 499.6,247.2 501.3,249.4 505.3,256.2 506.9,257.7 507.8,259.6 509.4,261.1 511.8,264.6 513.4,266.1 514.3,267.4 515.1,268.0 524.0,278.4 524.8,279.3 525.6,279.8 526.4,265.5 527.2,265.0 528.0,271.8 528.9,233.4 529.7,257.6 530.5,212.7 531.3,201.6 532.1,237.5 532.9,216.6 533.7,218.0 534.5,247.2 535.4,244.5 536.2,203.6 537.0,226.6 537.8,206.1 538.6,248.0 539.4,215.0 540.2,196.6 541.0,199.3 541.8,251.7 542.7,233.7 543.5,246.0 544.3,227.2 545.1,264.5 545.9,256.9 546.7,240.1 547.5,255.5 548.3,262.4 549.1,288.6 550.0,289.2 554.8,290.6 555.6,291.0 561.3,292.5 562.1,292.9 563.8,293.5 565.4,293.8 566.2,294.5 567.8,295.1 575.1,299.2 584.0,302.8 586.5,303.4 588.1,303.4 594.6,304.6"/>
<path d="M328.4,162.1 329.2,300.5 369.8,300.5 375.5,299.2 376.3,298.8 379.5,296.1 380.3,295.0 382.8,290.3 384.4,285.8 385.2,283.2 387.6,273.0 390.1,260.6 390.9,257.4 392.5,252.9 396.6,244.4 403.1,235.4 408.7,226.5 410.4,224.7 411.2,223.2 412.0,222.7 412.8,221.7 413.6,220.2 414.4,220.4 415.2,219.2 416.1,218.5 416.9,218.4 417.7,217.0 418.5,216.9 419.3,216.4 420.1,215.2 420.9,215.0 421.7,214.0 423.4,213.4 424.2,212.7 425.0,213.0 427.4,210.3 428.2,209.7 429.0,209.6 429.8,208.6 430.7,209.4 431.5,209.8 433.9,208.3 434.7,208.2 436.3,205.3 438.8,203.1 439.6,203.8 440.4,204.0 441.2,204.4 442.0,100.0 442.8,204.8 443.6,204.5 446.9,198.0 447.7,197.6 448.5,197.9 449.3,197.9 450.1,199.1 450.9,199.3 451.8,199.8 452.6,199.7 455.0,195.7 455.8,193.6 457.4,191.5 459.1,192.1 459.9,193.6 460.7,194.2 462.3,194.9 463.9,193.1 464.7,191.8 465.6,189.8 466.4,189.5 467.2,188.5 468.0,189.4 468.8,189.7 470.4,193.1 471.2,193.4 472.1,194.1 473.7,194.0 475.3,194.6 476.1,195.3 476.9,198.3 477.7,199.5 478.5,203.0 479.4,204.3 480.2,206.1 482.6,212.1 483.4,214.5 486.7,221.0 487.5,221.8 488.3,224.4 489.1,226.0 489.9,227.0 490.7,229.7 491.5,230.3 495.6,239.9 496.4,241.4 497.2,242.1 498.0,244.3 499.6,246.6 500.5,248.1 501.3,248.7 503.7,253.2 505.3,254.8 506.1,256.5 506.9,257.6 507.8,258.2 510.2,261.9 511.0,262.5 512.6,264.2 514.3,266.3 515.1,267.6 524.0,277.9 524.8,278.8 525.6,279.2 526.4,270.5 527.2,271.3 528.9,187.7 529.7,224.6 530.5,220.7 531.3,250.6 532.1,221.7 532.9,205.5 533.7,212.5 534.5,200.7 536.2,241.2 537.0,220.8 537.8,224.0 538.6,242.0 539.4,213.5 540.2,199.7 541.0,243.8 541.8,221.5 542.7,219.8 543.5,244.0 544.3,253.5 545.1,250.3 545.9,245.4 546.7,244.5 547.5,253.1 548.3,266.7 549.1,288.1 551.6,289.0 552.4,289.1 554.8,290.0 557.3,290.6 558.1,291.0 562.9,292.2 566.2,293.4 574.3,297.8 575.1,298.4 578.4,299.5 580.0,300.3 581.6,300.8 585.7,302.5 587.3,302.5 591.3,303.2 593.8,303.4 594.6,303.7"/>
<path d="M328.4,163.3 329.2,301.1 369.8,301.1 375.5,299.8 376.3,299.4 379.5,296.7 380.3,295.6 382.8,290.9 383.6,288.8 385.2,283.9 387.6,273.7 390.1,261.4 390.9,258.2 392.5,253.8 396.6,245.6 403.1,236.7 407.9,228.9 408.7,227.8 409.6,227.4 410.4,225.8 411.2,224.7 412.8,222.8 413.6,222.3 414.4,221.2 415.2,221.0 416.9,218.8 417.7,218.2 418.5,218.7 419.3,216.8 420.1,217.1 421.7,215.9 423.4,214.0 424.2,214.0 425.0,213.3 426.6,211.4 427.4,211.4 428.2,210.7 429.0,211.2 429.8,211.3 431.5,211.0 432.3,210.6 433.1,209.4 433.9,208.9 434.7,207.6 435.5,207.1 436.3,205.9 437.2,205.3 438.0,205.3 438.8,205.6 441.2,206.9 442.0,206.3 442.8,204.9 443.6,204.2 444.5,202.8 445.3,200.7 446.1,200.1 446.9,200.3 447.7,199.8 448.5,200.1 449.3,200.9 450.1,202.1 450.9,201.1 451.8,201.5 453.4,198.6 454.2,196.5 455.0,195.5 455.8,194.0 456.6,193.5 457.4,193.7 458.3,194.7 460.7,196.8 462.3,194.9 463.1,193.3 463.9,192.8 464.7,191.1 465.6,190.8 466.4,190.1 468.0,191.3 468.8,192.3 469.6,192.7 471.2,194.0 472.9,193.9 473.7,193.6 474.5,193.8 476.1,195.9 478.5,203.8 479.4,205.5 480.2,206.7 481.0,209.6 481.8,210.8 482.6,213.3 486.7,222.4 488.3,225.1 489.1,227.6 490.7,229.9 491.5,232.4 492.3,233.8 494.8,239.3 495.6,240.2 496.4,241.8 497.2,244.1 499.6,247.5 500.5,249.5 501.3,250.1 502.9,253.0 505.3,256.3 508.6,260.1 509.4,262.0 510.2,262.6 511.8,264.8 512.6,265.2 513.4,266.6 514.3,267.4 515.9,269.9 519.1,273.2 524.8,279.8 525.6,280.3 526.4,269.7 527.2,218.1 528.0,201.3 528.9,272.9 529.7,247.0 530.5,260.2 531.3,238.6 532.1,203.0 532.9,247.7 533.7,240.5 534.5,220.9 535.4,220.7 536.2,211.2 537.8,244.0 538.6,230.7 539.4,191.0 540.2,203.9 541.0,244.9 541.8,206.8 542.7,247.6 543.5,221.4 544.3,267.3 545.1,226.5 545.9,261.2 546.7,252.4 547.5,250.4 548.3,261.8 549.1,289.0 556.5,291.4 564.6,293.5 567.8,295.1 575.9,299.4 579.2,300.6 580.0,301.2 581.6,301.6 584.9,302.9 590.5,303.7 593.0,304.3 593.8,304.1 594.6,304.4"/></g>
<g clip-path="url(#cl)"><g fill="#fff" font-size="13.89px"><rect x="69.0" y="42.70" width="5" height="1.4"/><text x="79.3" y="49.00">25</text><text x="319.6" y="49.00" text-anchor="end">25</text><rect x="69.0" y="90.77" width="5" height="1.4"/><text x="79.3" y="97.07">20</text><text x="319.6" y="97.07" text-anchor="end">20</text><rect x="69.0" y="138.84" width="5" height="1.4"/><text x="79.3" y="145.14">15</text><text x="319.6" y="145.14" text-anchor="end">15</text><rect x="69.0" y="186.91" width="5" height="1.4"/><text x="79.3" y="193.21">10</text><text x="319.6" y="193.21" text-anchor="end">10</text><rect x="69.0" y="234.98" width="5" height="1.4"/><text x="79.3" y="241.28">5</text><text x="319.6" y="241.28" text-anchor="end">5</text><rect x="69.0" y="283.05" width="5" height="1.4"/><text x="79.3" y="289.35">0</text><text x="319.6" y="289.35" text-anchor="end">0</text></g></g>
<g fill="#fff" font-size="13.89px"><rect x="349.0" y="42.70" width="5" height="1.4"/><text x="359.3" y="49.00">25</text><rect x="349.0" y="90.77" width="5" height="1.4"/><text x="359.3" y="97.07">20</text><rect x="349.0" y="138.84" width="5" height="1.4"/><text x="359.3" y="145.14">15</text><rect x="349.0" y="186.91" width="5" height="1.4"/><text x="359.3" y="193.21">10</text><rect x="349.0" y="234.98" width="5" height="1.4"/><text x="359.3" y="241.28">5</text><rect x="349.0" y="283.05" width="5" height="1.4"/><text x="359.3" y="289.35">0</text></g>
<g font-size="16.67px" text-anchor="middle" fill="#000"><text x="181.5" y="15.6">20.5 (Tile065=65) X</text><text x="461.5" y="15.6">20.5 (Tile065=65) Y</text></g>
<g font-size="13.89px" fill="#000"><text x="31.9" y="42.35" text-anchor="end">On</text><text x="612.3" y="42.35">On</text><text x="31.9" y="59.01" text-anchor="end">Y</text><text x="612.3" y="59.01">Y</text><text x="31.9" y="75.67" text-anchor="end">Off</text><text x="612.3" y="75.67">Off</text><text x="31.9" y="92.33" text-anchor="end">** P</text><text x="612.3" y="92.33">P</text><text x="31.9" y="108.99" text-anchor="end">O</text><text x="612.3" y="108.99">O</text><text x="31.9" y="125.65" text-anchor="end">N</text><text x="612.3" y="125.65">N</text><text x="31.9" y="142.31" text-anchor="end">M</text><text x="612.3" y="142.31">M</text><text x="31.9" y="158.97" text-anchor="end">L</text><text x="612.3" y="158.97">L</text><text x="31.9" y="175.63" text-anchor="end">K</text><text x="612.3" y="175.63">K</text><text x="31.9" y="192.29" text-anchor="end">J</text><text x="612.3" y="192.29">J</text><text x="31.9" y="208.95" text-anchor="end">I</text><text x="612.3" y="208.95">I</text><text x="31.9" y="225.61" text-anchor="end">H</text><text x="612.3" y="225.61">H</text><text x="31.9" y="242.27" text-anchor="end">G</text><text x="612.3" y="242.27">G</text><text x="31.9" y="258.93" text-anchor="end">F</text><text x="612.3" y="258.93">F</text><text x="31.9" y="275.59" text-anchor="end">E</text><text x="612.3" y="275.59">E</text><text x="31.9" y="292.25" text-anchor="end">D</text><text x="612.3" y="292.25">D</text><text x="31.9" y="308.91" text-anchor="end">C</text><text x="612.3" y="308.91">C</text><text x="31.9" y="325.57" text-anchor="end">B</text><text x="612.3" y="325.57">B</text><text x="31.9" y="342.23" text-anchor="end">A</text><text x="612.3" y="342.23">A</text><text x="31.9" y="358.89" text-anchor="end">Off</text><text x="612.3" y="358.89">Off</text><text x="31.9" y="375.55" text-anchor="end">X</text><text x="612.3" y="375.55">X</text><text x="31.9" y="392.21" text-anchor="end">On</text><text x="612.3" y="392.21">On</text></g>
<g font-size="9.72px" fill="#000"><rect x="49.05" y="408.3" width="1.1" height="5.2" fill="#000"/><text x="49.60" y="425.8" text-anchor="middle">0</text><rect x="89.67" y="408.3" width="1.1" height="5.2" fill="#000"/><text x="90.22" y="425.8" text-anchor="middle">50</text><rect x="130.30" y="408.3" width="1.1" height="5.2" fill="#000"/><text x="130.85" y="425.8" text-anchor="middle">100</text><rect x="170.92" y="408.3" width="1.1" height="5.2" fill="#000"/><text x="171.47" y="425.8" text-anchor="middle">150</text><rect x="211.55" y="408.3" width="1.1" height="5.2" fill="#000"/><text x="212.10" y="425.8" text-anchor="middle">200</text><rect x="252.17" y="408.3" width="1.1" height="5.2" fill="#000"/><text x="252.72" y="425.8" text-anchor="middle">250</text><rect x="292.80" y="408.3" width="1.1" height="5.2" fill="#000"/><text x="293.35" y="425.8" text-anchor="middle">300</text><rect x="329.05" y="408.3" width="1.1" height="5.2" fill="#000"/><text x="329.60" y="425.8" text-anchor="middle">0</text><rect x="369.68" y="408.3" width="1.1" height="5.2" fill="#000"/><text x="370.23" y="425.8" text-anchor="middle">50</text><rect x="410.30" y="408.3" width="1.1" height="5.2" fill="#000"/><text x="410.85" y="425.8" text-anchor="middle">100</text><rect x="450.93" y="408.3" width="1.1" height="5.2" fill="#000"/><text x="451.48" y="425.8" text-anchor="middle">150</text><rect x="491.55" y="408.3" width="1.1" height="5.2" fill="#000"/><text x="492.10" y="425.8" text-anchor="middle">200</text><rect x="532.18" y="408.3" width="1.1" height="5.2" fill="#000"/><text x="532.73" y="425.8" text-anchor="middle">250</text><rect x="572.80" y="408.3" width="1.1" height="5.2" fill="#000"/><text x="573.35" y="425.8" text-anchor="middle">300</text></g>
</svg>
</body></html>
